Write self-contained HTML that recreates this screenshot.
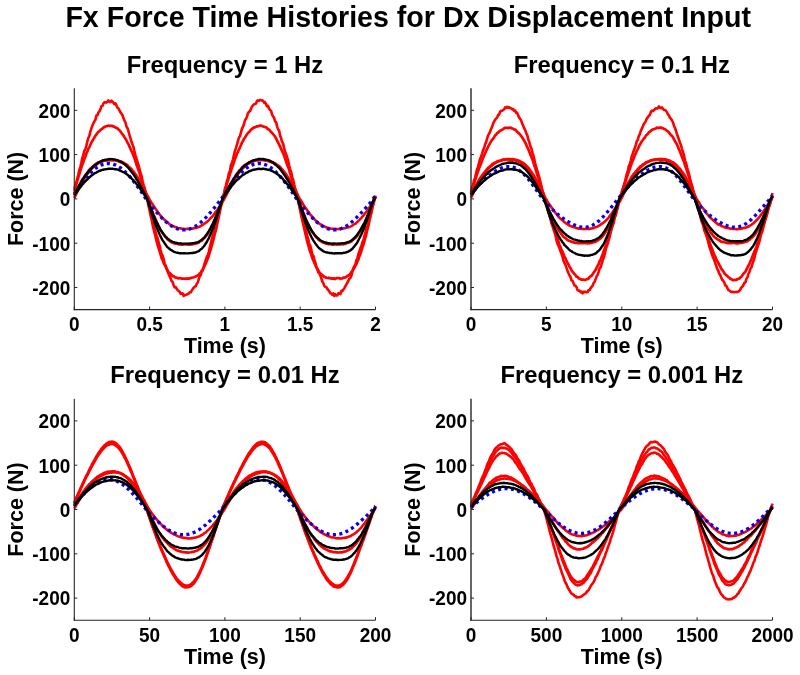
<!DOCTYPE html><html><head><meta charset="utf-8"><style>html,body{margin:0;padding:0;background:#fff;}svg{display:block;filter:blur(0.3px);}text{font-family:"Liberation Sans",sans-serif;font-weight:bold;}</style></head><body>
<svg width="800" height="675" viewBox="0 0 800 675">
<rect width="800" height="675" fill="#fff"/>
<text transform="translate(408.20,27.40) scale(1,1.042)" text-anchor="middle"  font-size="28.6" fill="#000">Fx Force Time Histories for Dx Displacement Input</text>
<path d="M74.3,188.7 L75.3,185.5 L76.3,182.4 L77.3,178.3 L78.3,174.5 L79.3,170.0 L80.3,167.1 L81.3,162.8 L82.3,158.0 L83.3,155.3 L84.3,150.7 L85.3,149.4 L86.3,146.0 L87.4,141.2 L88.4,137.9 L89.4,135.8 L90.4,131.4 L91.4,128.4 L92.4,125.6 L93.4,123.3 L94.4,121.4 L95.4,119.8 L96.4,115.6 L97.4,115.3 L98.4,112.3 L99.4,111.3 L100.4,109.3 L101.4,106.2 L102.4,106.0 L103.4,103.6 L104.4,102.3 L105.4,102.4 L106.4,102.6 L107.4,101.6 L108.4,100.4 L109.4,101.9 L110.4,102.1 L111.4,100.7 L112.5,101.7 L113.5,102.8 L114.5,104.2 L115.5,103.3 L116.5,105.5 L117.5,107.8 L118.5,108.5 L119.5,110.4 L120.5,112.4 L121.5,113.7 L122.5,115.3 L123.5,118.3 L124.5,120.6 L125.5,122.7 L126.5,126.6 L127.5,128.2 L128.5,131.4 L129.5,135.1 L130.5,138.4 L131.5,141.8 L132.5,144.5 L133.5,147.0 L134.5,151.9 L135.5,155.6 L136.5,158.7 L137.6,162.5 L138.6,165.6 L139.6,169.3 L140.6,173.3 L141.6,176.1 L142.6,181.2 L143.6,185.6 L144.6,187.8 L145.6,193.2 L146.6,197.0 L147.6,199.5 L148.6,203.4 L149.6,208.7 L150.6,211.8 L151.6,216.0 L152.6,220.7 L153.6,224.7 L154.6,228.8 L155.6,232.1 L156.6,235.3 L157.6,238.2 L158.6,242.1 L159.6,245.8 L160.6,250.1 L161.6,253.9 L162.7,255.9 L163.7,259.5 L164.7,263.9 L165.7,265.6 L166.7,269.1 L167.7,271.6 L168.7,274.3 L169.7,276.3 L170.7,278.8 L171.7,281.3 L172.7,282.1 L173.7,285.5 L174.7,287.4 L175.7,287.0 L176.7,288.8 L177.7,290.2 L178.7,290.9 L179.7,291.9 L180.7,293.9 L181.7,293.3 L182.7,293.6 L183.7,296.0 L184.7,294.8 L185.7,295.0 L186.7,294.6 L187.8,293.9 L188.8,293.6 L189.8,292.2 L190.8,292.3 L191.8,290.4 L192.8,288.9 L193.8,287.7 L194.8,286.7 L195.8,286.2 L196.8,283.6 L197.8,282.5 L198.8,278.9 L199.8,276.3 L200.8,275.0 L201.8,271.2 L202.8,270.4 L203.8,266.2 L204.8,263.0 L205.8,259.9 L206.8,256.9 L207.8,255.2 L208.8,251.9 L209.8,247.5 L210.8,243.2 L211.8,239.0 L212.9,235.5 L213.9,232.3 L214.9,229.4 L215.9,225.5 L216.9,222.1 L217.9,218.1 L218.9,213.0 L219.9,209.8 L220.9,205.3 L221.9,201.9 L222.9,196.6 L223.9,194.6 L224.9,188.4 L225.9,185.9 L226.9,181.3 L227.9,178.5 L228.9,173.1 L229.9,171.1 L230.9,165.2 L231.9,163.2 L232.9,159.5 L233.9,155.4 L234.9,151.0 L235.9,148.1 L236.9,144.8 L238.0,140.9 L239.0,137.5 L240.0,136.0 L241.0,132.3 L242.0,128.7 L243.0,126.7 L244.0,124.0 L245.0,120.2 L246.0,118.9 L247.0,116.5 L248.0,113.2 L249.0,111.7 L250.0,111.2 L251.0,108.8 L252.0,106.4 L253.0,105.4 L254.0,104.4 L255.0,103.9 L256.0,103.5 L257.0,100.9 L258.0,100.4 L259.0,101.0 L260.0,99.9 L261.0,100.3 L262.0,100.4 L263.1,100.8 L264.1,102.7 L265.1,102.3 L266.1,104.4 L267.1,106.5 L268.1,105.9 L269.1,108.8 L270.1,110.1 L271.1,110.9 L272.1,114.8 L273.1,116.4 L274.1,117.8 L275.1,121.5 L276.1,122.1 L277.1,126.6 L278.1,129.4 L279.1,130.6 L280.1,135.5 L281.1,138.3 L282.1,141.8 L283.1,143.6 L284.1,148.1 L285.1,151.7 L286.1,154.2 L287.1,157.1 L288.2,160.7 L289.2,165.6 L290.2,169.4 L291.2,172.2 L292.2,177.3 L293.2,179.8 L294.2,184.7 L295.2,188.7 L296.2,191.8 L297.2,195.4 L298.2,201.4 L299.2,205.3 L300.2,208.7 L301.2,211.4 L302.2,216.5 L303.2,221.5 L304.2,224.9 L305.2,228.6 L306.2,230.9 L307.2,235.9 L308.2,238.8 L309.2,244.2 L310.2,245.4 L311.2,249.3 L312.2,254.3 L313.3,255.7 L314.3,259.3 L315.3,262.4 L316.3,266.7 L317.3,269.1 L318.3,272.4 L319.3,273.2 L320.3,275.4 L321.3,278.3 L322.3,281.5 L323.3,283.2 L324.3,285.8 L325.3,287.0 L326.3,287.1 L327.3,289.0 L328.3,290.0 L329.3,291.3 L330.3,293.2 L331.3,293.4 L332.3,294.8 L333.3,293.4 L334.3,295.9 L335.3,294.2 L336.3,295.5 L337.3,295.5 L338.4,293.2 L339.4,293.8 L340.4,294.1 L341.4,290.9 L342.4,291.0 L343.4,289.6 L344.4,288.1 L345.4,286.1 L346.4,284.4 L347.4,282.8 L348.4,280.6 L349.4,278.7 L350.4,277.9 L351.4,275.6 L352.4,271.4 L353.4,268.1 L354.4,266.0 L355.4,264.6 L356.4,260.1 L357.4,258.4 L358.4,254.0 L359.4,251.6 L360.4,248.1 L361.4,246.0 L362.4,242.2 L363.5,239.8 L364.5,235.9 L365.5,232.2 L366.5,227.8 L367.5,226.2 L368.5,220.7 L369.5,218.2 L370.5,215.7 L371.5,211.4 L372.5,206.6 L373.5,204.1 L374.5,198.7 L375.5,195.6" fill="none" stroke="#ff0000" stroke-width="2.6" stroke-linejoin="round"/>
<path d="M74.3,190.8 L75.3,187.1 L76.3,184.3 L77.3,181.0 L78.3,177.3 L79.3,174.3 L80.3,170.8 L81.3,167.7 L82.3,164.8 L83.3,162.2 L84.3,159.1 L85.3,157.0 L86.3,153.7 L87.4,151.3 L88.4,148.8 L89.4,147.1 L90.4,144.7 L91.4,142.7 L92.4,140.7 L93.4,139.2 L94.4,137.4 L95.4,135.7 L96.4,134.4 L97.4,133.0 L98.4,131.7 L99.4,131.2 L100.4,130.1 L101.4,129.2 L102.4,128.6 L103.4,127.6 L104.4,127.0 L105.4,126.6 L106.4,126.2 L107.4,126.2 L108.4,125.5 L109.4,125.8 L110.4,125.9 L111.4,125.9 L112.5,125.9 L113.5,126.7 L114.5,126.6 L115.5,127.6 L116.5,127.9 L117.5,128.5 L118.5,129.5 L119.5,130.3 L120.5,131.5 L121.5,133.0 L122.5,134.4 L123.5,135.5 L124.5,137.2 L125.5,138.7 L126.5,140.5 L127.5,142.6 L128.5,144.2 L129.5,146.7 L130.5,148.8 L131.5,151.1 L132.5,153.0 L133.5,155.7 L134.5,158.3 L135.5,161.3 L136.5,164.7 L137.6,167.6 L138.6,170.6 L139.6,173.1 L140.6,176.8 L141.6,180.1 L142.6,183.4 L143.6,186.8 L144.6,189.7 L145.6,193.1 L146.6,197.0 L147.6,201.0 L148.6,205.9 L149.6,210.3 L150.6,215.4 L151.6,219.4 L152.6,224.6 L153.6,229.0 L154.6,232.8 L155.6,236.7 L156.6,241.1 L157.6,244.9 L158.6,248.2 L159.6,251.3 L160.6,254.6 L161.6,258.0 L162.7,260.1 L163.7,263.2 L164.7,264.9 L165.7,266.9 L166.7,268.6 L167.7,270.9 L168.7,272.2 L169.7,273.0 L170.7,273.9 L171.7,275.2 L172.7,276.2 L173.7,276.1 L174.7,277.1 L175.7,277.7 L176.7,277.7 L177.7,278.1 L178.7,278.4 L179.7,278.1 L180.7,278.3 L181.7,278.6 L182.7,278.6 L183.7,278.6 L184.7,278.5 L185.7,278.9 L186.7,278.4 L187.8,278.7 L188.8,278.8 L189.8,278.3 L190.8,277.9 L191.8,277.8 L192.8,277.5 L193.8,277.2 L194.8,276.8 L195.8,276.5 L196.8,275.9 L197.8,275.3 L198.8,274.6 L199.8,273.5 L200.8,272.4 L201.8,270.7 L202.8,269.4 L203.8,267.6 L204.8,265.3 L205.8,263.4 L206.8,260.8 L207.8,258.5 L208.8,255.7 L209.8,252.2 L210.8,249.0 L211.8,245.6 L212.9,241.7 L213.9,237.6 L214.9,233.5 L215.9,230.1 L216.9,225.5 L217.9,220.7 L218.9,216.3 L219.9,211.2 L220.9,206.8 L221.9,202.2 L222.9,197.8 L223.9,194.1 L224.9,191.1 L225.9,187.7 L226.9,183.6 L227.9,180.6 L228.9,177.3 L229.9,174.0 L230.9,171.1 L231.9,167.7 L232.9,165.2 L233.9,162.4 L234.9,158.9 L235.9,156.7 L236.9,153.8 L238.0,151.6 L239.0,149.3 L240.0,147.3 L241.0,145.0 L242.0,142.6 L243.0,141.1 L244.0,138.8 L245.0,137.6 L246.0,135.8 L247.0,134.3 L248.0,133.0 L249.0,131.8 L250.0,131.1 L251.0,129.6 L252.0,128.9 L253.0,128.1 L254.0,127.4 L255.0,127.3 L256.0,126.7 L257.0,126.4 L258.0,126.4 L259.0,125.9 L260.0,125.5 L261.0,125.6 L262.0,126.0 L263.1,126.4 L264.1,126.9 L265.1,127.0 L266.1,127.3 L267.1,128.2 L268.1,129.2 L269.1,129.6 L270.1,131.0 L271.1,132.1 L272.1,133.0 L273.1,134.2 L274.1,135.3 L275.1,136.8 L276.1,138.4 L277.1,140.6 L278.1,142.5 L279.1,144.7 L280.1,146.5 L281.1,149.0 L282.1,150.9 L283.1,153.1 L284.1,155.7 L285.1,158.5 L286.1,161.5 L287.1,164.7 L288.2,167.1 L289.2,170.1 L290.2,173.6 L291.2,176.5 L292.2,179.9 L293.2,182.9 L294.2,186.8 L295.2,190.3 L296.2,193.6 L297.2,197.1 L298.2,200.6 L299.2,205.2 L300.2,210.2 L301.2,215.4 L302.2,219.7 L303.2,224.0 L304.2,228.4 L305.2,232.7 L306.2,237.0 L307.2,241.4 L308.2,245.1 L309.2,248.5 L310.2,251.9 L311.2,254.6 L312.2,257.9 L313.3,260.2 L314.3,262.9 L315.3,264.7 L316.3,267.4 L317.3,268.6 L318.3,270.6 L319.3,272.1 L320.3,273.3 L321.3,274.4 L322.3,275.0 L323.3,276.1 L324.3,276.9 L325.3,277.1 L326.3,277.8 L327.3,278.0 L328.3,277.7 L329.3,278.3 L330.3,278.0 L331.3,278.6 L332.3,278.4 L333.3,278.9 L334.3,278.2 L335.3,279.0 L336.3,278.2 L337.3,278.2 L338.4,278.1 L339.4,278.2 L340.4,278.8 L341.4,278.5 L342.4,278.4 L343.4,277.6 L344.4,277.7 L345.4,277.4 L346.4,276.8 L347.4,275.8 L348.4,275.7 L349.4,274.6 L350.4,273.6 L351.4,272.0 L352.4,270.8 L353.4,269.5 L354.4,267.6 L355.4,265.7 L356.4,264.1 L357.4,261.5 L358.4,259.4 L359.4,256.2 L360.4,253.9 L361.4,251.0 L362.4,247.3 L363.5,244.5 L364.5,240.7 L365.5,237.2 L366.5,233.3 L367.5,228.9 L368.5,225.4 L369.5,220.5 L370.5,216.0 L371.5,211.7 L372.5,206.8 L373.5,202.7 L374.5,199.8 L375.5,195.9" fill="none" stroke="#ff0000" stroke-width="2.7" stroke-linejoin="round"/>
<path d="M74.3,194.8 L75.3,193.0 L76.3,190.8 L77.3,189.1 L78.3,187.1 L79.3,185.1 L80.3,183.4 L81.3,181.6 L82.3,179.6 L83.3,178.2 L84.3,176.7 L85.3,175.1 L86.3,173.9 L87.4,172.4 L88.4,170.9 L89.4,169.7 L90.4,168.5 L91.4,167.9 L92.4,166.8 L93.4,165.9 L94.4,165.0 L95.4,164.3 L96.4,163.5 L97.4,163.1 L98.4,162.3 L99.4,162.1 L100.4,161.7 L101.4,161.4 L102.4,160.8 L103.4,160.5 L104.4,160.4 L105.4,160.4 L106.4,160.2 L107.4,160.2 L108.4,159.9 L109.4,159.9 L110.4,160.2 L111.4,159.8 L112.5,159.9 L113.5,160.2 L114.5,160.3 L115.5,160.4 L116.5,160.7 L117.5,160.9 L118.5,161.3 L119.5,161.8 L120.5,162.2 L121.5,162.5 L122.5,162.9 L123.5,163.8 L124.5,164.1 L125.5,165.0 L126.5,165.9 L127.5,166.7 L128.5,167.4 L129.5,168.7 L130.5,169.7 L131.5,171.0 L132.5,172.1 L133.5,173.4 L134.5,175.1 L135.5,176.3 L136.5,177.8 L137.6,179.8 L138.6,181.5 L139.6,182.8 L140.6,184.6 L141.6,186.9 L142.6,188.9 L143.6,190.5 L144.6,192.5 L145.6,194.7 L146.6,196.9 L147.6,198.5 L148.6,201.4 L149.6,204.3 L150.6,206.7 L151.6,209.5 L152.6,212.0 L153.6,214.7 L154.6,217.1 L155.6,219.4 L156.6,221.9 L157.6,223.9 L158.6,226.0 L159.6,228.0 L160.6,230.0 L161.6,231.7 L162.7,233.5 L163.7,234.8 L164.7,236.0 L165.7,237.2 L166.7,238.4 L167.7,239.6 L168.7,240.1 L169.7,241.0 L170.7,241.9 L171.7,242.5 L172.7,242.7 L173.7,243.3 L174.7,243.6 L175.7,243.6 L176.7,243.7 L177.7,243.9 L178.7,244.4 L179.7,244.3 L180.7,244.6 L181.7,244.7 L182.7,244.7 L183.7,244.5 L184.7,244.2 L185.7,244.4 L186.7,244.3 L187.8,244.6 L188.8,244.6 L189.8,244.7 L190.8,244.5 L191.8,244.5 L192.8,244.2 L193.8,244.0 L194.8,244.0 L195.8,243.4 L196.8,243.4 L197.8,243.0 L198.8,242.6 L199.8,241.6 L200.8,241.0 L201.8,240.7 L202.8,239.4 L203.8,238.6 L204.8,237.7 L205.8,236.4 L206.8,235.3 L207.8,233.9 L208.8,232.0 L209.8,230.1 L210.8,228.8 L211.8,226.6 L212.9,224.4 L213.9,222.1 L214.9,219.8 L215.9,217.7 L216.9,215.1 L217.9,212.7 L218.9,210.3 L219.9,207.4 L220.9,204.9 L221.9,201.6 L222.9,199.3 L223.9,197.2 L224.9,195.3 L225.9,192.7 L226.9,191.0 L227.9,189.0 L228.9,187.1 L229.9,185.2 L230.9,183.2 L231.9,181.8 L232.9,180.1 L233.9,178.3 L234.9,176.9 L235.9,175.1 L236.9,173.4 L238.0,172.4 L239.0,170.8 L240.0,170.0 L241.0,168.8 L242.0,167.5 L243.0,166.5 L244.0,165.6 L245.0,164.8 L246.0,164.6 L247.0,163.5 L248.0,163.3 L249.0,162.3 L250.0,162.0 L251.0,161.6 L252.0,161.2 L253.0,161.2 L254.0,160.5 L255.0,160.5 L256.0,160.1 L257.0,159.9 L258.0,160.2 L259.0,159.9 L260.0,159.9 L261.0,160.1 L262.0,159.7 L263.1,159.8 L264.1,160.2 L265.1,160.6 L266.1,160.2 L267.1,160.6 L268.1,161.2 L269.1,161.4 L270.1,161.9 L271.1,162.0 L272.1,162.7 L273.1,162.7 L274.1,163.5 L275.1,164.4 L276.1,164.8 L277.1,165.7 L278.1,166.5 L279.1,167.4 L280.1,168.7 L281.1,169.9 L282.1,170.6 L283.1,171.9 L284.1,173.6 L285.1,175.0 L286.1,176.5 L287.1,178.0 L288.2,179.8 L289.2,181.4 L290.2,183.1 L291.2,184.7 L292.2,186.5 L293.2,188.9 L294.2,190.8 L295.2,192.8 L296.2,194.5 L297.2,196.8 L298.2,199.0 L299.2,201.2 L300.2,203.9 L301.2,206.7 L302.2,209.4 L303.2,212.3 L304.2,214.9 L305.2,217.4 L306.2,219.7 L307.2,222.2 L308.2,224.4 L309.2,226.2 L310.2,228.5 L311.2,230.2 L312.2,231.6 L313.3,233.4 L314.3,234.6 L315.3,236.1 L316.3,237.6 L317.3,238.2 L318.3,239.5 L319.3,240.3 L320.3,240.9 L321.3,241.5 L322.3,242.3 L323.3,242.6 L324.3,242.9 L325.3,243.4 L326.3,243.8 L327.3,243.7 L328.3,244.3 L329.3,244.0 L330.3,244.3 L331.3,244.3 L332.3,244.7 L333.3,244.7 L334.3,244.6 L335.3,244.4 L336.3,244.4 L337.3,244.7 L338.4,244.5 L339.4,244.5 L340.4,244.5 L341.4,244.2 L342.4,244.2 L343.4,244.4 L344.4,243.9 L345.4,244.0 L346.4,243.3 L347.4,242.9 L348.4,242.8 L349.4,242.2 L350.4,241.9 L351.4,241.4 L352.4,240.2 L353.4,239.6 L354.4,238.6 L355.4,237.9 L356.4,236.8 L357.4,235.5 L358.4,234.1 L359.4,232.4 L360.4,231.0 L361.4,229.3 L362.4,227.3 L363.5,225.4 L364.5,223.5 L365.5,221.5 L366.5,218.9 L367.5,216.6 L368.5,214.1 L369.5,211.7 L370.5,209.2 L371.5,206.4 L372.5,204.0 L373.5,201.1 L374.5,199.3 L375.5,197.0" fill="none" stroke="#ff0000" stroke-width="2.6" stroke-linejoin="round"/>
<path d="M74.3,198.1 L75.3,195.9 L76.3,193.9 L77.3,191.9 L78.3,189.7 L79.3,187.7 L80.3,186.0 L81.3,184.0 L82.3,182.3 L83.3,180.7 L84.3,179.0 L85.3,177.1 L86.3,175.6 L87.4,174.1 L88.4,173.0 L89.4,171.4 L90.4,170.2 L91.4,169.0 L92.4,168.0 L93.4,167.1 L94.4,166.1 L95.4,165.3 L96.4,164.7 L97.4,164.0 L98.4,163.3 L99.4,162.9 L100.4,162.3 L101.4,161.9 L102.4,161.3 L103.4,161.0 L104.4,160.8 L105.4,160.7 L106.4,160.4 L107.4,160.2 L108.4,160.0 L109.4,159.9 L110.4,159.8 L111.4,160.1 L112.5,160.1 L113.5,160.2 L114.5,160.1 L115.5,160.3 L116.5,160.3 L117.5,160.5 L118.5,160.7 L119.5,161.0 L120.5,161.3 L121.5,161.6 L122.5,162.4 L123.5,162.6 L124.5,163.4 L125.5,164.0 L126.5,164.4 L127.5,165.3 L128.5,166.4 L129.5,167.3 L130.5,168.1 L131.5,169.2 L132.5,170.4 L133.5,171.4 L134.5,172.8 L135.5,174.2 L136.5,175.6 L137.6,177.3 L138.6,178.8 L139.6,180.6 L140.6,182.1 L141.6,184.0 L142.6,185.7 L143.6,187.9 L144.6,189.9 L145.6,191.8 L146.6,193.8 L147.6,195.8 L148.6,197.7 L149.6,199.6 L150.6,201.3 L151.6,202.9 L152.6,204.3 L153.6,205.9 L154.6,207.3 L155.6,208.9 L156.6,210.4 L157.6,211.6 L158.6,213.1 L159.6,214.5 L160.6,215.6 L161.6,217.0 L162.7,217.9 L163.7,219.2 L164.7,219.9 L165.7,220.9 L166.7,222.0 L167.7,222.5 L168.7,223.5 L169.7,224.3 L170.7,225.0 L171.7,225.5 L172.7,225.9 L173.7,226.3 L174.7,226.9 L175.7,227.1 L176.7,227.4 L177.7,228.0 L178.7,228.2 L179.7,228.2 L180.7,228.5 L181.7,228.6 L182.7,228.9 L183.7,228.8 L184.7,229.0 L185.7,229.1 L186.7,228.9 L187.8,228.9 L188.8,229.0 L189.8,228.9 L190.8,228.8 L191.8,228.6 L192.8,228.6 L193.8,228.3 L194.8,228.0 L195.8,228.0 L196.8,227.7 L197.8,227.3 L198.8,226.9 L199.8,226.6 L200.8,226.1 L201.8,225.2 L202.8,224.8 L203.8,224.0 L204.8,223.4 L205.8,222.6 L206.8,221.9 L207.8,221.1 L208.8,220.2 L209.8,219.0 L210.8,217.8 L211.8,217.1 L212.9,215.8 L213.9,214.4 L214.9,213.0 L215.9,211.6 L216.9,210.6 L217.9,209.0 L218.9,207.6 L219.9,206.1 L220.9,204.5 L221.9,203.0 L222.9,201.2 L223.9,199.6 L224.9,197.9 L225.9,196.0 L226.9,194.0 L227.9,191.9 L228.9,189.9 L229.9,187.9 L230.9,185.9 L231.9,184.2 L232.9,182.4 L233.9,180.6 L234.9,179.0 L235.9,177.5 L236.9,175.9 L238.0,174.1 L239.0,172.8 L240.0,171.6 L241.0,170.4 L242.0,169.1 L243.0,168.3 L244.0,167.1 L245.0,166.3 L246.0,165.2 L247.0,164.5 L248.0,163.7 L249.0,163.4 L250.0,162.8 L251.0,162.4 L252.0,161.9 L253.0,161.4 L254.0,161.0 L255.0,160.8 L256.0,160.4 L257.0,160.2 L258.0,160.3 L259.0,160.0 L260.0,160.0 L261.0,160.0 L262.0,159.8 L263.1,159.9 L264.1,159.9 L265.1,160.0 L266.1,160.3 L267.1,160.2 L268.1,160.5 L269.1,160.6 L270.1,161.1 L271.1,161.3 L272.1,162.0 L273.1,162.2 L274.1,162.8 L275.1,163.3 L276.1,164.0 L277.1,164.7 L278.1,165.4 L279.1,166.0 L280.1,166.9 L281.1,168.2 L282.1,169.1 L283.1,170.5 L284.1,171.6 L285.1,172.9 L286.1,174.3 L287.1,175.8 L288.2,177.3 L289.2,179.0 L290.2,180.5 L291.2,182.1 L292.2,183.9 L293.2,185.8 L294.2,188.0 L295.2,189.8 L296.2,191.6 L297.2,193.6 L298.2,195.8 L299.2,197.8 L300.2,199.6 L301.2,201.0 L302.2,202.7 L303.2,204.5 L304.2,206.0 L305.2,207.5 L306.2,208.8 L307.2,210.4 L308.2,211.6 L309.2,213.0 L310.2,214.6 L311.2,215.5 L312.2,216.7 L313.3,217.8 L314.3,219.2 L315.3,220.1 L316.3,221.0 L317.3,222.0 L318.3,222.7 L319.3,223.6 L320.3,224.3 L321.3,224.7 L322.3,225.3 L323.3,225.9 L324.3,226.4 L325.3,227.0 L326.3,227.3 L327.3,227.7 L328.3,227.9 L329.3,228.0 L330.3,228.4 L331.3,228.7 L332.3,228.7 L333.3,228.9 L334.3,228.8 L335.3,228.8 L336.3,229.0 L337.3,229.0 L338.4,229.1 L339.4,228.9 L340.4,228.9 L341.4,228.6 L342.4,228.5 L343.4,228.4 L344.4,228.3 L345.4,228.0 L346.4,227.7 L347.4,227.5 L348.4,227.2 L349.4,227.0 L350.4,226.6 L351.4,226.1 L352.4,225.5 L353.4,224.6 L354.4,224.1 L355.4,223.7 L356.4,222.8 L357.4,222.0 L358.4,220.9 L359.4,219.9 L360.4,218.8 L361.4,217.9 L362.4,216.7 L363.5,215.5 L364.5,214.1 L365.5,212.7 L366.5,211.5 L367.5,210.3 L368.5,208.7 L369.5,207.2 L370.5,205.5 L371.5,204.1 L372.5,202.5 L373.5,201.0 L374.5,199.3 L375.5,197.7" fill="none" stroke="#ff0000" stroke-width="2.6" stroke-linejoin="round"/>
<path d="M74.3,193.6 L75.3,192.1 L76.3,190.7 L77.3,189.3 L78.3,187.8 L79.3,186.4 L80.3,185.1 L81.3,183.7 L82.3,182.4 L83.3,181.1 L84.3,179.8 L85.3,178.6 L86.3,177.4 L87.4,176.2 L88.4,175.1 L89.4,174.0 L90.4,173.0 L91.4,172.0 L92.4,171.1 L93.4,170.2 L94.4,169.3 L95.4,168.5 L96.4,167.8 L97.4,167.1 L98.4,166.5 L99.4,165.9 L100.4,165.4 L101.4,165.0 L102.4,164.6 L103.4,164.2 L104.4,164.0 L105.4,163.7 L106.4,163.6 L107.4,163.5 L108.4,163.5 L109.4,163.5 L110.4,163.6 L111.4,163.8 L112.5,164.0 L113.5,164.3 L114.5,164.6 L115.5,165.0 L116.5,165.5 L117.5,166.0 L118.5,166.6 L119.5,167.2 L120.5,167.9 L121.5,168.7 L122.5,169.5 L123.5,170.3 L124.5,171.2 L125.5,172.2 L126.5,173.2 L127.5,174.2 L128.5,175.3 L129.5,176.4 L130.5,177.6 L131.5,178.8 L132.5,180.0 L133.5,181.3 L134.5,182.6 L135.5,183.9 L136.5,185.3 L137.6,186.7 L138.6,188.1 L139.6,189.5 L140.6,190.9 L141.6,192.4 L142.6,193.8 L143.6,195.3 L144.6,196.8 L145.6,198.3 L146.6,199.7 L147.6,201.0 L148.6,202.2 L149.6,203.5 L150.6,204.8 L151.6,206.1 L152.6,207.3 L153.6,208.6 L154.6,209.8 L155.6,211.0 L156.6,212.2 L157.6,213.4 L158.6,214.5 L159.6,215.6 L160.6,216.7 L161.6,217.7 L162.7,218.7 L163.7,219.7 L164.7,220.7 L165.7,221.6 L166.7,222.4 L167.7,223.3 L168.7,224.0 L169.7,224.8 L170.7,225.5 L171.7,226.1 L172.7,226.7 L173.7,227.3 L174.7,227.8 L175.7,228.2 L176.7,228.6 L177.7,228.9 L178.7,229.2 L179.7,229.5 L180.7,229.7 L181.7,229.8 L182.7,229.9 L183.7,229.9 L184.7,229.9 L185.7,229.8 L186.7,229.6 L187.8,229.4 L188.8,229.2 L189.8,228.9 L190.8,228.5 L191.8,228.1 L192.8,227.7 L193.8,227.2 L194.8,226.6 L195.8,226.0 L196.8,225.4 L197.8,224.7 L198.8,223.9 L199.8,223.1 L200.8,222.3 L201.8,221.4 L202.8,220.5 L203.8,219.6 L204.8,218.6 L205.8,217.6 L206.8,216.5 L207.8,215.4 L208.8,214.3 L209.8,213.2 L210.8,212.0 L211.8,210.8 L212.9,209.6 L213.9,208.4 L214.9,207.1 L215.9,205.9 L216.9,204.6 L217.9,203.3 L218.9,202.0 L219.9,200.7 L220.9,199.4 L221.9,198.0 L222.9,196.6 L223.9,195.1 L224.9,193.6 L225.9,192.1 L226.9,190.7 L227.9,189.3 L228.9,187.8 L229.9,186.4 L230.9,185.1 L231.9,183.7 L232.9,182.4 L233.9,181.1 L234.9,179.8 L235.9,178.6 L236.9,177.4 L238.0,176.2 L239.0,175.1 L240.0,174.0 L241.0,173.0 L242.0,172.0 L243.0,171.1 L244.0,170.2 L245.0,169.3 L246.0,168.5 L247.0,167.8 L248.0,167.1 L249.0,166.5 L250.0,165.9 L251.0,165.4 L252.0,165.0 L253.0,164.6 L254.0,164.2 L255.0,164.0 L256.0,163.7 L257.0,163.6 L258.0,163.5 L259.0,163.5 L260.0,163.5 L261.0,163.6 L262.0,163.8 L263.1,164.0 L264.1,164.3 L265.1,164.6 L266.1,165.0 L267.1,165.5 L268.1,166.0 L269.1,166.6 L270.1,167.2 L271.1,167.9 L272.1,168.7 L273.1,169.5 L274.1,170.3 L275.1,171.2 L276.1,172.2 L277.1,173.2 L278.1,174.2 L279.1,175.3 L280.1,176.4 L281.1,177.6 L282.1,178.8 L283.1,180.0 L284.1,181.3 L285.1,182.6 L286.1,183.9 L287.1,185.3 L288.2,186.7 L289.2,188.1 L290.2,189.5 L291.2,190.9 L292.2,192.4 L293.2,193.8 L294.2,195.3 L295.2,196.8 L296.2,198.3 L297.2,199.7 L298.2,201.0 L299.2,202.2 L300.2,203.5 L301.2,204.8 L302.2,206.1 L303.2,207.3 L304.2,208.6 L305.2,209.8 L306.2,211.0 L307.2,212.2 L308.2,213.4 L309.2,214.5 L310.2,215.6 L311.2,216.7 L312.2,217.7 L313.3,218.7 L314.3,219.7 L315.3,220.7 L316.3,221.6 L317.3,222.4 L318.3,223.3 L319.3,224.0 L320.3,224.8 L321.3,225.5 L322.3,226.1 L323.3,226.7 L324.3,227.3 L325.3,227.8 L326.3,228.2 L327.3,228.6 L328.3,228.9 L329.3,229.2 L330.3,229.5 L331.3,229.7 L332.3,229.8 L333.3,229.9 L334.3,229.9 L335.3,229.9 L336.3,229.8 L337.3,229.6 L338.4,229.4 L339.4,229.2 L340.4,228.9 L341.4,228.5 L342.4,228.1 L343.4,227.7 L344.4,227.2 L345.4,226.6 L346.4,226.0 L347.4,225.4 L348.4,224.7 L349.4,223.9 L350.4,223.1 L351.4,222.3 L352.4,221.4 L353.4,220.5 L354.4,219.6 L355.4,218.6 L356.4,217.7 L357.4,216.7 L358.4,215.7 L359.4,214.7 L360.4,213.6 L361.4,212.6 L362.4,211.5 L363.5,210.4 L364.5,209.3 L365.5,208.2 L366.5,207.0 L367.5,205.8 L368.5,204.7 L369.5,203.5 L370.5,202.3 L371.5,201.0 L372.5,199.7 L373.5,198.3 L374.5,196.8 L375.5,195.4" fill="none" stroke="#0000ff" stroke-width="3.3" stroke-linejoin="round" stroke-dasharray="3.1 3.4" stroke-linecap="butt"/>
<path d="M74.3,194.4 L75.3,192.3 L76.3,190.6 L77.3,188.8 L78.3,186.8 L79.3,185.2 L80.3,183.3 L81.3,181.6 L82.3,180.0 L83.3,178.6 L84.3,176.9 L85.3,175.6 L86.3,174.1 L87.4,172.7 L88.4,171.6 L89.4,170.4 L90.4,169.3 L91.4,168.4 L92.4,167.4 L93.4,166.2 L94.4,165.6 L95.4,164.7 L96.4,164.1 L97.4,163.3 L98.4,162.6 L99.4,161.9 L100.4,161.6 L101.4,161.2 L102.4,160.6 L103.4,160.1 L104.4,160.0 L105.4,159.8 L106.4,159.6 L107.4,159.5 L108.4,159.3 L109.4,159.2 L110.4,159.0 L111.4,159.1 L112.5,159.1 L113.5,159.4 L114.5,159.5 L115.5,159.8 L116.5,159.9 L117.5,160.3 L118.5,160.8 L119.5,161.2 L120.5,161.7 L121.5,162.2 L122.5,162.6 L123.5,163.4 L124.5,164.1 L125.5,165.0 L126.5,165.8 L127.5,166.8 L128.5,168.0 L129.5,169.3 L130.5,170.5 L131.5,171.8 L132.5,173.1 L133.5,174.3 L134.5,175.8 L135.5,177.3 L136.5,179.3 L137.6,180.8 L138.6,182.7 L139.6,184.3 L140.6,186.2 L141.6,188.2 L142.6,190.0 L143.6,191.7 L144.6,193.9 L145.6,195.7 L146.6,197.9 L147.6,199.9 L148.6,202.5 L149.6,205.5 L150.6,207.9 L151.6,210.3 L152.6,213.1 L153.6,215.6 L154.6,217.8 L155.6,219.9 L156.6,222.4 L157.6,224.2 L158.6,226.1 L159.6,227.9 L160.6,230.0 L161.6,231.3 L162.7,232.7 L163.7,234.2 L164.7,235.6 L165.7,236.9 L166.7,237.6 L167.7,238.7 L168.7,239.3 L169.7,240.3 L170.7,240.8 L171.7,241.4 L172.7,241.9 L173.7,242.2 L174.7,242.5 L175.7,242.6 L176.7,242.9 L177.7,243.2 L178.7,243.4 L179.7,243.4 L180.7,243.3 L181.7,243.6 L182.7,243.7 L183.7,243.7 L184.7,243.7 L185.7,243.7 L186.7,243.6 L187.8,243.6 L188.8,243.5 L189.8,243.6 L190.8,243.4 L191.8,243.5 L192.8,243.2 L193.8,243.1 L194.8,242.8 L195.8,242.6 L196.8,242.5 L197.8,242.2 L198.8,241.8 L199.8,240.9 L200.8,240.5 L201.8,239.7 L202.8,238.8 L203.8,238.1 L204.8,236.9 L205.8,235.5 L206.8,234.3 L207.8,232.7 L208.8,231.1 L209.8,229.3 L210.8,227.5 L211.8,225.3 L212.9,223.5 L213.9,221.0 L214.9,218.7 L215.9,216.2 L216.9,213.9 L217.9,211.1 L218.9,208.4 L219.9,205.8 L220.9,203.4 L221.9,200.6 L222.9,198.2 L223.9,196.0 L224.9,194.3 L225.9,192.5 L226.9,190.6 L227.9,188.6 L228.9,186.7 L229.9,185.0 L230.9,183.5 L231.9,181.9 L232.9,180.1 L233.9,178.5 L234.9,177.1 L235.9,175.6 L236.9,174.2 L238.0,173.0 L239.0,171.6 L240.0,170.3 L241.0,169.4 L242.0,168.3 L243.0,167.1 L244.0,166.3 L245.0,165.6 L246.0,164.7 L247.0,163.9 L248.0,163.2 L249.0,162.5 L250.0,162.2 L251.0,161.4 L252.0,161.0 L253.0,160.4 L254.0,160.2 L255.0,160.0 L256.0,159.7 L257.0,159.6 L258.0,159.2 L259.0,159.0 L260.0,159.0 L261.0,159.0 L262.0,159.2 L263.1,159.0 L264.1,159.2 L265.1,159.6 L266.1,159.6 L267.1,159.9 L268.1,160.2 L269.1,160.5 L270.1,161.0 L271.1,161.7 L272.1,161.9 L273.1,162.6 L274.1,163.6 L275.1,164.3 L276.1,165.0 L277.1,166.0 L278.1,166.9 L279.1,167.9 L280.1,169.1 L281.1,170.3 L282.1,171.7 L283.1,173.0 L284.1,174.5 L285.1,175.8 L286.1,177.7 L287.1,179.0 L288.2,180.8 L289.2,182.5 L290.2,184.2 L291.2,186.4 L292.2,188.0 L293.2,189.8 L294.2,191.8 L295.2,193.7 L296.2,195.8 L297.2,197.9 L298.2,200.1 L299.2,202.5 L300.2,205.4 L301.2,208.0 L302.2,210.6 L303.2,212.9 L304.2,215.3 L305.2,217.7 L306.2,220.2 L307.2,222.1 L308.2,224.1 L309.2,226.2 L310.2,227.9 L311.2,229.7 L312.2,231.6 L313.3,232.8 L314.3,234.4 L315.3,235.7 L316.3,236.6 L317.3,237.7 L318.3,238.5 L319.3,239.4 L320.3,240.2 L321.3,240.8 L322.3,241.3 L323.3,241.7 L324.3,242.3 L325.3,242.5 L326.3,242.7 L327.3,243.0 L328.3,243.3 L329.3,243.3 L330.3,243.5 L331.3,243.6 L332.3,243.5 L333.3,243.7 L334.3,243.4 L335.3,243.6 L336.3,243.6 L337.3,243.6 L338.4,243.5 L339.4,243.7 L340.4,243.5 L341.4,243.4 L342.4,243.3 L343.4,243.4 L344.4,243.3 L345.4,242.8 L346.4,242.7 L347.4,242.3 L348.4,241.9 L349.4,241.7 L350.4,241.1 L351.4,240.6 L352.4,239.8 L353.4,238.8 L354.4,238.0 L355.4,236.7 L356.4,235.8 L357.4,234.5 L358.4,232.9 L359.4,231.5 L360.4,230.0 L361.4,228.1 L362.4,226.2 L363.5,224.5 L364.5,222.5 L365.5,220.2 L366.5,218.1 L367.5,215.5 L368.5,212.9 L369.5,210.5 L370.5,208.0 L371.5,205.6 L372.5,203.0 L373.5,200.7 L374.5,198.6 L375.5,196.8" fill="none" stroke="#000000" stroke-width="2.4" stroke-linejoin="round"/>
<path d="M74.3,195.5 L75.3,194.1 L76.3,192.4 L77.3,191.3 L78.3,189.9 L79.3,188.3 L80.3,187.3 L81.3,186.0 L82.3,184.6 L83.3,183.7 L84.3,182.3 L85.3,181.3 L86.3,180.3 L87.4,179.3 L88.4,178.4 L89.4,177.3 L90.4,176.5 L91.4,175.6 L92.4,174.9 L93.4,174.3 L94.4,173.4 L95.4,172.9 L96.4,172.6 L97.4,171.8 L98.4,171.4 L99.4,170.8 L100.4,170.7 L101.4,170.1 L102.4,169.8 L103.4,169.8 L104.4,169.4 L105.4,169.3 L106.4,169.1 L107.4,169.0 L108.4,168.8 L109.4,168.7 L110.4,168.6 L111.4,168.7 L112.5,168.8 L113.5,168.9 L114.5,169.2 L115.5,169.1 L116.5,169.3 L117.5,169.6 L118.5,169.8 L119.5,170.4 L120.5,170.9 L121.5,171.2 L122.5,171.8 L123.5,172.1 L124.5,172.7 L125.5,173.3 L126.5,174.1 L127.5,174.7 L128.5,175.6 L129.5,176.4 L130.5,177.4 L131.5,178.5 L132.5,179.4 L133.5,180.3 L134.5,181.6 L135.5,182.8 L136.5,184.0 L137.6,185.1 L138.6,186.4 L139.6,187.9 L140.6,189.4 L141.6,190.7 L142.6,192.2 L143.6,193.6 L144.6,195.2 L145.6,196.4 L146.6,198.1 L147.6,200.3 L148.6,203.3 L149.6,206.6 L150.6,209.8 L151.6,213.1 L152.6,216.1 L153.6,218.9 L154.6,222.0 L155.6,224.6 L156.6,227.5 L157.6,229.7 L158.6,232.0 L159.6,234.4 L160.6,236.5 L161.6,238.5 L162.7,240.3 L163.7,241.8 L164.7,243.4 L165.7,244.7 L166.7,246.3 L167.7,247.3 L168.7,248.2 L169.7,249.0 L170.7,249.9 L171.7,250.4 L172.7,251.0 L173.7,251.7 L174.7,252.0 L175.7,252.4 L176.7,252.7 L177.7,252.7 L178.7,253.1 L179.7,253.2 L180.7,253.3 L181.7,253.3 L182.7,253.4 L183.7,253.2 L184.7,253.2 L185.7,253.4 L186.7,253.4 L187.8,253.4 L188.8,253.3 L189.8,253.1 L190.8,253.1 L191.8,253.0 L192.8,253.0 L193.8,252.7 L194.8,252.7 L195.8,252.3 L196.8,251.9 L197.8,251.5 L198.8,251.1 L199.8,250.2 L200.8,249.3 L201.8,248.7 L202.8,247.5 L203.8,246.5 L204.8,245.0 L205.8,243.5 L206.8,242.0 L207.8,239.9 L208.8,238.3 L209.8,235.9 L210.8,233.8 L211.8,231.4 L212.9,228.8 L213.9,225.9 L214.9,223.3 L215.9,220.1 L216.9,217.0 L217.9,213.9 L218.9,210.6 L219.9,207.6 L220.9,204.2 L221.9,200.9 L222.9,198.5 L223.9,196.8 L224.9,195.2 L225.9,194.0 L226.9,192.4 L227.9,191.2 L228.9,189.8 L229.9,188.4 L230.9,187.2 L231.9,185.7 L232.9,184.6 L233.9,183.4 L234.9,182.2 L235.9,181.1 L236.9,180.1 L238.0,179.4 L239.0,178.5 L240.0,177.4 L241.0,176.6 L242.0,175.5 L243.0,174.9 L244.0,174.4 L245.0,173.8 L246.0,172.8 L247.0,172.6 L248.0,172.1 L249.0,171.3 L250.0,171.0 L251.0,170.8 L252.0,170.2 L253.0,169.8 L254.0,169.7 L255.0,169.5 L256.0,169.4 L257.0,169.0 L258.0,169.0 L259.0,168.7 L260.0,169.0 L261.0,169.0 L262.0,169.0 L263.1,168.7 L264.1,168.8 L265.1,169.2 L266.1,169.2 L267.1,169.6 L268.1,169.7 L269.1,169.8 L270.1,170.1 L271.1,170.8 L272.1,171.0 L273.1,171.5 L274.1,172.2 L275.1,172.5 L276.1,173.2 L277.1,174.0 L278.1,174.6 L279.1,175.5 L280.1,176.4 L281.1,177.2 L282.1,178.1 L283.1,179.4 L284.1,180.5 L285.1,181.6 L286.1,182.7 L287.1,184.1 L288.2,185.2 L289.2,186.4 L290.2,187.9 L291.2,189.3 L292.2,190.7 L293.2,192.1 L294.2,193.6 L295.2,194.9 L296.2,196.6 L297.2,198.2 L298.2,200.3 L299.2,203.6 L300.2,206.9 L301.2,209.9 L302.2,213.0 L303.2,216.2 L304.2,218.9 L305.2,221.8 L306.2,224.7 L307.2,227.1 L308.2,230.0 L309.2,232.4 L310.2,234.4 L311.2,236.6 L312.2,238.4 L313.3,240.3 L314.3,241.8 L315.3,243.4 L316.3,244.8 L317.3,246.1 L318.3,247.3 L319.3,248.4 L320.3,249.0 L321.3,249.8 L322.3,250.6 L323.3,251.3 L324.3,251.6 L325.3,252.0 L326.3,252.5 L327.3,252.5 L328.3,252.6 L329.3,253.0 L330.3,253.1 L331.3,253.0 L332.3,253.3 L333.3,253.4 L334.3,253.5 L335.3,253.3 L336.3,253.2 L337.3,253.3 L338.4,253.2 L339.4,253.2 L340.4,253.3 L341.4,253.1 L342.4,253.3 L343.4,252.8 L344.4,252.9 L345.4,252.5 L346.4,252.4 L347.4,251.8 L348.4,251.5 L349.4,250.8 L350.4,250.4 L351.4,249.5 L352.4,248.7 L353.4,247.5 L354.4,246.3 L355.4,245.0 L356.4,243.8 L357.4,242.1 L358.4,240.2 L359.4,238.3 L360.4,236.4 L361.4,234.4 L362.4,232.0 L363.5,229.5 L364.5,226.6 L365.5,224.1 L366.5,221.2 L367.5,218.2 L368.5,215.4 L369.5,212.3 L370.5,208.9 L371.5,206.0 L372.5,202.4 L373.5,200.1 L374.5,198.6 L375.5,197.1" fill="none" stroke="#000000" stroke-width="2.4" stroke-linejoin="round"/>
<path d="M74.3,88.2 V310.2" fill="none" stroke="#262626" stroke-width="1.1"/>
<path d="M73.8,309.6 H375.5" fill="none" stroke="#262626" stroke-width="1.1"/>
<path d="M74.3,287.5 h3" stroke="#262626" stroke-width="1"/>
<text transform="translate(70.30,294.86) scale(1,1.042)" text-anchor="end"  font-size="19" fill="#000">-200</text>
<path d="M74.3,243.2 h3" stroke="#262626" stroke-width="1"/>
<text transform="translate(70.30,250.58) scale(1,1.042)" text-anchor="end"  font-size="19" fill="#000">-100</text>
<path d="M74.3,198.9 h3" stroke="#262626" stroke-width="1"/>
<text transform="translate(70.30,206.30) scale(1,1.042)" text-anchor="end"  font-size="19" fill="#000">0</text>
<path d="M74.3,154.6 h3" stroke="#262626" stroke-width="1"/>
<text transform="translate(70.30,162.02) scale(1,1.042)" text-anchor="end"  font-size="19" fill="#000">100</text>
<path d="M74.3,110.3 h3" stroke="#262626" stroke-width="1"/>
<text transform="translate(70.30,117.74) scale(1,1.042)" text-anchor="end"  font-size="19" fill="#000">200</text>
<path d="M74.3,309.6 v-3" stroke="#262626" stroke-width="1"/>
<text transform="translate(74.30,330.90) scale(1,1.042)" text-anchor="middle"  font-size="19" fill="#000">0</text>
<path d="M149.6,309.6 v-3" stroke="#262626" stroke-width="1"/>
<text transform="translate(149.60,330.90) scale(1,1.042)" text-anchor="middle"  font-size="19" fill="#000">0.5</text>
<path d="M224.9,309.6 v-3" stroke="#262626" stroke-width="1"/>
<text transform="translate(224.90,330.90) scale(1,1.042)" text-anchor="middle"  font-size="19" fill="#000">1</text>
<path d="M300.2,309.6 v-3" stroke="#262626" stroke-width="1"/>
<text transform="translate(300.20,330.90) scale(1,1.042)" text-anchor="middle"  font-size="19" fill="#000">1.5</text>
<path d="M375.5,309.6 v-3" stroke="#262626" stroke-width="1"/>
<text transform="translate(375.50,330.90) scale(1,1.042)" text-anchor="middle"  font-size="19" fill="#000">2</text>
<text transform="translate(224.90,353.30) scale(1,1.042)" text-anchor="middle"  font-size="21.5" fill="#000">Time (s)</text>
<text transform="translate(23.10,198.90) rotate(-90) scale(1,1.042)" text-anchor="middle"  font-size="21.5" fill="#000">Force (N)</text>
<text transform="translate(224.90,72.50) scale(1,1.042)" text-anchor="middle"  font-size="23.8" fill="#000">Frequency = 1 Hz</text>
<path d="M471.0,191.6 L472.0,188.1 L473.0,185.4 L474.0,180.6 L475.0,178.3 L476.0,173.6 L477.0,169.5 L478.0,166.9 L479.0,162.9 L480.0,159.2 L481.1,156.5 L482.1,153.6 L483.1,150.0 L484.1,148.3 L485.1,144.2 L486.1,142.1 L487.1,138.7 L488.1,135.5 L489.1,133.6 L490.1,131.6 L491.1,128.8 L492.1,126.8 L493.1,123.6 L494.1,121.6 L495.1,119.6 L496.1,118.5 L497.1,117.6 L498.1,115.0 L499.1,114.5 L500.1,111.7 L501.1,110.8 L502.2,110.7 L503.2,110.0 L504.2,109.3 L505.2,107.4 L506.2,107.7 L507.2,106.8 L508.2,107.7 L509.2,107.4 L510.2,107.9 L511.2,108.4 L512.2,109.4 L513.2,109.0 L514.2,111.0 L515.2,110.6 L516.2,113.0 L517.2,112.9 L518.2,115.6 L519.2,117.7 L520.2,118.9 L521.2,120.6 L522.3,123.7 L523.3,126.1 L524.3,128.4 L525.3,130.3 L526.3,133.4 L527.3,135.3 L528.3,139.4 L529.3,142.1 L530.3,146.0 L531.3,148.1 L532.3,152.4 L533.3,155.2 L534.3,159.3 L535.3,164.2 L536.3,167.5 L537.3,171.0 L538.3,174.2 L539.3,177.5 L540.3,181.3 L541.4,186.1 L542.4,190.9 L543.4,194.3 L544.4,197.1 L545.4,202.3 L546.4,204.4 L547.4,207.6 L548.4,212.1 L549.4,215.5 L550.4,218.2 L551.4,223.4 L552.4,225.5 L553.4,229.1 L554.4,231.8 L555.4,235.0 L556.4,240.1 L557.4,243.4 L558.4,245.8 L559.4,247.8 L560.4,251.0 L561.5,253.9 L562.5,256.6 L563.5,261.0 L564.5,263.0 L565.5,264.8 L566.5,267.9 L567.5,270.7 L568.5,273.2 L569.5,275.5 L570.5,276.9 L571.5,280.3 L572.5,280.8 L573.5,283.3 L574.5,285.5 L575.5,285.8 L576.5,287.0 L577.5,290.1 L578.5,290.6 L579.5,290.5 L580.5,292.1 L581.5,291.5 L582.6,293.3 L583.6,291.8 L584.6,291.9 L585.6,291.9 L586.6,292.3 L587.6,292.1 L588.6,290.1 L589.6,290.1 L590.6,288.1 L591.6,286.8 L592.6,285.6 L593.6,283.0 L594.6,281.9 L595.6,279.1 L596.6,276.4 L597.6,274.9 L598.6,272.1 L599.6,268.4 L600.6,267.3 L601.6,264.0 L602.7,260.3 L603.7,257.8 L604.7,254.4 L605.7,249.6 L606.7,246.3 L607.7,243.7 L608.7,240.0 L609.7,236.9 L610.7,232.3 L611.7,228.6 L612.7,225.5 L613.7,223.0 L614.7,217.4 L615.7,215.6 L616.7,211.2 L617.7,207.1 L618.7,202.9 L619.7,200.0 L620.7,196.2 L621.8,191.6 L622.8,188.5 L623.8,185.8 L624.8,182.2 L625.8,178.0 L626.8,173.8 L627.8,171.2 L628.8,166.1 L629.8,164.0 L630.8,160.6 L631.8,156.2 L632.8,153.5 L633.8,150.4 L634.8,148.1 L635.8,144.8 L636.8,141.2 L637.8,139.6 L638.8,136.2 L639.8,134.2 L640.8,130.9 L641.9,128.5 L642.9,126.2 L643.9,123.7 L644.9,122.8 L645.9,120.7 L646.9,118.3 L647.9,117.1 L648.9,115.7 L649.9,114.8 L650.9,111.8 L651.9,110.5 L652.9,111.1 L653.9,110.3 L654.9,109.1 L655.9,108.2 L656.9,108.6 L657.9,108.1 L658.9,106.4 L659.9,107.7 L660.9,108.1 L662.0,107.4 L663.0,109.0 L664.0,109.9 L665.0,110.0 L666.0,110.9 L667.0,112.4 L668.0,114.3 L669.0,115.5 L670.0,117.9 L671.0,118.8 L672.0,120.5 L673.0,122.4 L674.0,125.9 L675.0,128.0 L676.0,130.8 L677.0,134.3 L678.0,137.0 L679.0,139.8 L680.0,142.7 L681.0,145.2 L682.0,149.1 L683.1,152.1 L684.1,156.0 L685.1,160.6 L686.1,163.4 L687.1,167.6 L688.1,170.9 L689.1,174.4 L690.1,179.1 L691.1,182.5 L692.1,185.8 L693.1,189.8 L694.1,194.1 L695.1,198.4 L696.1,200.5 L697.1,204.1 L698.1,208.8 L699.1,211.6 L700.1,214.9 L701.1,219.8 L702.1,222.7 L703.2,225.3 L704.2,230.2 L705.2,232.6 L706.2,235.0 L707.2,238.3 L708.2,241.7 L709.2,246.3 L710.2,249.0 L711.2,252.2 L712.2,255.0 L713.2,258.0 L714.2,260.0 L715.2,262.9 L716.2,265.7 L717.2,268.8 L718.2,270.5 L719.2,273.7 L720.2,274.9 L721.2,277.6 L722.2,279.8 L723.3,280.8 L724.3,282.6 L725.3,285.3 L726.3,285.9 L727.3,287.9 L728.3,290.0 L729.3,290.4 L730.3,291.4 L731.3,292.0 L732.3,291.8 L733.3,292.0 L734.3,292.3 L735.3,292.1 L736.3,291.9 L737.3,292.1 L738.3,291.5 L739.3,291.0 L740.3,289.6 L741.3,287.5 L742.4,286.7 L743.4,285.0 L744.4,282.8 L745.4,282.5 L746.4,278.8 L747.4,277.5 L748.4,274.0 L749.4,272.0 L750.4,268.7 L751.4,267.3 L752.4,263.9 L753.4,261.1 L754.4,258.3 L755.4,253.7 L756.4,250.7 L757.4,247.6 L758.4,244.6 L759.4,241.5 L760.4,237.3 L761.4,233.6 L762.5,231.0 L763.5,226.1 L764.5,223.2 L765.5,218.8 L766.5,216.2 L767.5,212.2 L768.5,207.8 L769.5,205.7 L770.5,202.5 L771.5,197.8 L772.5,193.1" fill="none" stroke="#ff0000" stroke-width="2.6" stroke-linejoin="round"/>
<path d="M471.0,193.0 L472.0,189.9 L473.0,186.4 L474.0,183.4 L475.0,180.6 L476.0,177.5 L477.0,174.3 L478.0,171.6 L479.0,168.5 L480.0,166.0 L481.1,163.2 L482.1,160.2 L483.1,158.0 L484.1,155.6 L485.1,153.3 L486.1,150.8 L487.1,149.1 L488.1,146.7 L489.1,144.9 L490.1,143.1 L491.1,141.4 L492.1,139.7 L493.1,138.7 L494.1,137.2 L495.1,135.4 L496.1,134.7 L497.1,133.2 L498.1,132.6 L499.1,131.5 L500.1,130.8 L501.1,130.3 L502.2,129.7 L503.2,129.1 L504.2,128.3 L505.2,127.8 L506.2,127.9 L507.2,127.7 L508.2,127.9 L509.2,127.9 L510.2,127.5 L511.2,127.9 L512.2,128.5 L513.2,128.7 L514.2,129.6 L515.2,129.5 L516.2,130.6 L517.2,131.8 L518.2,132.8 L519.2,133.6 L520.2,134.6 L521.2,136.2 L522.3,137.5 L523.3,139.4 L524.3,140.8 L525.3,142.6 L526.3,144.9 L527.3,147.2 L528.3,149.2 L529.3,151.7 L530.3,154.2 L531.3,156.8 L532.3,159.1 L533.3,162.2 L534.3,165.5 L535.3,168.3 L536.3,171.6 L537.3,174.9 L538.3,177.4 L539.3,181.2 L540.3,184.3 L541.4,187.3 L542.4,190.8 L543.4,194.4 L544.4,197.8 L545.4,201.5 L546.4,204.4 L547.4,208.1 L548.4,211.1 L549.4,214.8 L550.4,218.1 L551.4,220.6 L552.4,224.3 L553.4,226.8 L554.4,230.0 L555.4,233.4 L556.4,236.0 L557.4,238.5 L558.4,241.2 L559.4,244.7 L560.4,247.2 L561.5,249.8 L562.5,251.8 L563.5,254.1 L564.5,256.7 L565.5,258.4 L566.5,260.9 L567.5,262.6 L568.5,264.5 L569.5,266.8 L570.5,268.1 L571.5,270.3 L572.5,271.6 L573.5,272.9 L574.5,274.2 L575.5,275.1 L576.5,276.7 L577.5,276.8 L578.5,278.3 L579.5,278.7 L580.5,279.3 L581.5,279.6 L582.6,279.7 L583.6,279.7 L584.6,279.8 L585.6,279.8 L586.6,279.2 L587.6,279.1 L588.6,278.4 L589.6,277.1 L590.6,276.2 L591.6,275.8 L592.6,274.3 L593.6,272.6 L594.6,271.4 L595.6,269.7 L596.6,268.0 L597.6,265.9 L598.6,264.2 L599.6,261.2 L600.6,259.6 L601.6,257.0 L602.7,254.2 L603.7,251.3 L604.7,248.5 L605.7,246.1 L606.7,243.1 L607.7,240.0 L608.7,236.5 L609.7,233.3 L610.7,230.4 L611.7,226.8 L612.7,223.6 L613.7,220.1 L614.7,216.9 L615.7,213.7 L616.7,210.5 L617.7,206.4 L618.7,203.3 L619.7,199.9 L620.7,196.4 L621.8,193.2 L622.8,189.6 L623.8,186.5 L624.8,183.4 L625.8,180.7 L626.8,177.2 L627.8,174.5 L628.8,171.6 L629.8,168.7 L630.8,165.7 L631.8,162.9 L632.8,160.5 L633.8,157.9 L634.8,155.4 L635.8,153.2 L636.8,150.7 L637.8,149.1 L638.8,146.9 L639.8,144.7 L640.8,143.2 L641.9,141.2 L642.9,140.0 L643.9,138.5 L644.9,137.5 L645.9,135.5 L646.9,134.7 L647.9,133.8 L648.9,132.3 L649.9,131.6 L650.9,130.9 L651.9,129.8 L652.9,129.4 L653.9,129.2 L654.9,128.8 L655.9,128.4 L656.9,127.5 L657.9,127.8 L658.9,127.8 L659.9,127.5 L660.9,127.5 L662.0,128.1 L663.0,128.2 L664.0,129.0 L665.0,129.1 L666.0,130.2 L667.0,130.8 L668.0,131.4 L669.0,132.6 L670.0,133.9 L671.0,135.0 L672.0,136.0 L673.0,137.3 L674.0,139.3 L675.0,141.2 L676.0,142.9 L677.0,144.6 L678.0,147.1 L679.0,149.4 L680.0,151.5 L681.0,154.3 L682.0,156.9 L683.1,159.8 L684.1,161.9 L685.1,165.6 L686.1,168.4 L687.1,171.1 L688.1,174.3 L689.1,177.7 L690.1,181.1 L691.1,184.4 L692.1,187.6 L693.1,191.3 L694.1,194.4 L695.1,197.9 L696.1,201.3 L697.1,204.8 L698.1,207.6 L699.1,210.9 L700.1,214.5 L701.1,218.0 L702.1,221.2 L703.2,224.1 L704.2,226.8 L705.2,230.3 L706.2,233.4 L707.2,236.2 L708.2,238.6 L709.2,241.2 L710.2,244.3 L711.2,246.7 L712.2,249.3 L713.2,252.1 L714.2,254.5 L715.2,256.6 L716.2,259.1 L717.2,261.0 L718.2,262.6 L719.2,264.7 L720.2,266.4 L721.2,268.7 L722.2,269.9 L723.3,271.3 L724.3,273.1 L725.3,274.5 L726.3,275.2 L727.3,276.1 L728.3,277.1 L729.3,277.6 L730.3,278.8 L731.3,278.8 L732.3,280.0 L733.3,280.1 L734.3,279.8 L735.3,280.0 L736.3,280.0 L737.3,279.1 L738.3,279.0 L739.3,278.6 L740.3,277.5 L741.3,276.9 L742.4,275.3 L743.4,273.9 L744.4,272.7 L745.4,271.8 L746.4,269.6 L747.4,267.7 L748.4,265.6 L749.4,263.8 L750.4,261.4 L751.4,259.3 L752.4,256.5 L753.4,254.1 L754.4,251.4 L755.4,249.5 L756.4,246.6 L757.4,243.3 L758.4,240.4 L759.4,237.4 L760.4,234.6 L761.4,231.5 L762.5,228.5 L763.5,225.2 L764.5,221.5 L765.5,218.7 L766.5,215.0 L767.5,212.0 L768.5,208.3 L769.5,205.2 L770.5,201.7 L771.5,198.8 L772.5,195.3" fill="none" stroke="#ff0000" stroke-width="2.7" stroke-linejoin="round"/>
<path d="M471.0,195.1 L472.0,193.0 L473.0,190.9 L474.0,188.8 L475.0,187.2 L476.0,185.5 L477.0,183.4 L478.0,181.9 L479.0,179.7 L480.0,178.4 L481.1,176.7 L482.1,175.4 L483.1,174.0 L484.1,172.9 L485.1,171.4 L486.1,170.4 L487.1,169.0 L488.1,167.8 L489.1,167.1 L490.1,166.3 L491.1,165.5 L492.1,164.3 L493.1,163.8 L494.1,163.1 L495.1,162.7 L496.1,162.4 L497.1,161.6 L498.1,161.0 L499.1,161.2 L500.1,160.9 L501.1,160.5 L502.2,159.8 L503.2,159.8 L504.2,159.6 L505.2,159.9 L506.2,159.3 L507.2,159.3 L508.2,159.3 L509.2,159.7 L510.2,159.4 L511.2,159.9 L512.2,159.7 L513.2,160.0 L514.2,160.0 L515.2,160.3 L516.2,160.9 L517.2,161.4 L518.2,161.3 L519.2,161.9 L520.2,162.3 L521.2,163.0 L522.3,163.8 L523.3,164.6 L524.3,165.5 L525.3,166.3 L526.3,167.3 L527.3,168.6 L528.3,169.7 L529.3,171.0 L530.3,172.8 L531.3,174.0 L532.3,175.2 L533.3,177.5 L534.3,179.2 L535.3,180.6 L536.3,182.8 L537.3,184.2 L538.3,186.7 L539.3,188.2 L540.3,190.7 L541.4,192.6 L542.4,194.8 L543.4,196.5 L544.4,198.8 L545.4,201.6 L546.4,203.8 L547.4,206.4 L548.4,209.2 L549.4,211.4 L550.4,213.8 L551.4,216.1 L552.4,218.6 L553.4,220.9 L554.4,222.9 L555.4,224.9 L556.4,226.4 L557.4,228.2 L558.4,230.1 L559.4,231.4 L560.4,232.7 L561.5,234.1 L562.5,235.6 L563.5,236.8 L564.5,237.5 L565.5,238.1 L566.5,239.0 L567.5,240.0 L568.5,240.6 L569.5,240.8 L570.5,241.4 L571.5,241.5 L572.5,242.1 L573.5,242.5 L574.5,242.6 L575.5,242.9 L576.5,242.7 L577.5,243.1 L578.5,243.0 L579.5,243.2 L580.5,242.9 L581.5,243.1 L582.6,243.2 L583.6,243.0 L584.6,243.2 L585.6,242.9 L586.6,243.1 L587.6,243.4 L588.6,243.1 L589.6,243.0 L590.6,243.1 L591.6,242.8 L592.6,242.5 L593.6,242.2 L594.6,242.2 L595.6,241.6 L596.6,241.1 L597.6,240.4 L598.6,239.7 L599.6,238.9 L600.6,238.3 L601.6,237.2 L602.7,236.2 L603.7,234.7 L604.7,233.3 L605.7,231.8 L606.7,230.0 L607.7,228.6 L608.7,226.4 L609.7,224.2 L610.7,222.1 L611.7,220.0 L612.7,217.7 L613.7,215.1 L614.7,212.6 L615.7,210.0 L616.7,207.1 L617.7,204.5 L618.7,201.8 L619.7,198.9 L620.7,197.1 L621.8,195.0 L622.8,193.1 L623.8,190.9 L624.8,189.3 L625.8,187.2 L626.8,185.3 L627.8,183.3 L628.8,181.9 L629.8,180.1 L630.8,178.5 L631.8,176.7 L632.8,175.2 L633.8,173.8 L634.8,172.9 L635.8,171.4 L636.8,170.3 L637.8,169.2 L638.8,168.3 L639.8,167.0 L640.8,166.0 L641.9,165.7 L642.9,164.4 L643.9,164.2 L644.9,163.2 L645.9,162.4 L646.9,162.1 L647.9,161.9 L648.9,161.3 L649.9,160.7 L650.9,160.4 L651.9,160.1 L652.9,160.2 L653.9,159.8 L654.9,159.9 L655.9,159.4 L656.9,159.4 L657.9,159.5 L658.9,159.4 L659.9,159.6 L660.9,159.4 L662.0,159.8 L663.0,159.9 L664.0,159.9 L665.0,160.3 L666.0,160.3 L667.0,161.0 L668.0,161.2 L669.0,161.4 L670.0,162.2 L671.0,162.6 L672.0,163.4 L673.0,164.0 L674.0,164.9 L675.0,165.5 L676.0,166.3 L677.0,167.6 L678.0,168.8 L679.0,169.8 L680.0,171.2 L681.0,172.6 L682.0,173.9 L683.1,175.4 L684.1,177.3 L685.1,178.7 L686.1,180.7 L687.1,182.7 L688.1,184.4 L689.1,186.4 L690.1,188.7 L691.1,190.5 L692.1,192.5 L693.1,194.4 L694.1,196.8 L695.1,198.6 L696.1,201.5 L697.1,204.2 L698.1,206.8 L699.1,209.0 L700.1,211.9 L701.1,214.2 L702.1,216.2 L703.2,218.4 L704.2,220.7 L705.2,223.0 L706.2,224.9 L707.2,226.4 L708.2,228.7 L709.2,229.8 L710.2,231.8 L711.2,233.0 L712.2,234.5 L713.2,235.7 L714.2,236.7 L715.2,237.5 L716.2,238.4 L717.2,239.0 L718.2,239.7 L719.2,240.2 L720.2,240.9 L721.2,241.7 L722.2,241.9 L723.3,241.8 L724.3,242.3 L725.3,242.5 L726.3,242.8 L727.3,242.9 L728.3,243.2 L729.3,242.9 L730.3,243.2 L731.3,243.2 L732.3,242.9 L733.3,243.0 L734.3,243.0 L735.3,243.2 L736.3,243.4 L737.3,243.4 L738.3,243.3 L739.3,243.1 L740.3,243.0 L741.3,242.9 L742.4,242.6 L743.4,242.5 L744.4,242.0 L745.4,241.8 L746.4,241.5 L747.4,241.4 L748.4,240.4 L749.4,239.9 L750.4,238.8 L751.4,238.0 L752.4,237.3 L753.4,236.2 L754.4,235.0 L755.4,233.9 L756.4,232.1 L757.4,230.6 L758.4,229.1 L759.4,226.8 L760.4,225.2 L761.4,222.8 L762.5,221.0 L763.5,218.7 L764.5,216.3 L765.5,213.9 L766.5,211.0 L767.5,208.4 L768.5,206.0 L769.5,203.2 L770.5,201.1 L771.5,198.5 L772.5,196.5" fill="none" stroke="#ff0000" stroke-width="2.7" stroke-linejoin="round"/>
<path d="M471.0,197.7 L472.0,196.0 L473.0,193.8 L474.0,191.6 L475.0,189.9 L476.0,187.8 L477.0,186.0 L478.0,184.1 L479.0,182.3 L480.0,180.6 L481.1,178.8 L482.1,177.1 L483.1,175.9 L484.1,174.1 L485.1,172.9 L486.1,171.8 L487.1,170.3 L488.1,169.1 L489.1,168.1 L490.1,167.0 L491.1,166.3 L492.1,165.3 L493.1,164.4 L494.1,163.9 L495.1,163.1 L496.1,162.4 L497.1,161.8 L498.1,161.6 L499.1,161.0 L500.1,160.7 L501.1,160.3 L502.2,160.2 L503.2,159.6 L504.2,159.6 L505.2,159.5 L506.2,159.2 L507.2,159.1 L508.2,159.0 L509.2,159.0 L510.2,159.2 L511.2,159.0 L512.2,159.3 L513.2,159.1 L514.2,159.5 L515.2,159.5 L516.2,160.0 L517.2,160.0 L518.2,160.4 L519.2,160.8 L520.2,161.3 L521.2,162.0 L522.3,162.5 L523.3,163.0 L524.3,163.8 L525.3,164.7 L526.3,165.7 L527.3,166.7 L528.3,167.7 L529.3,169.0 L530.3,170.4 L531.3,171.8 L532.3,173.2 L533.3,174.7 L534.3,176.4 L535.3,178.0 L536.3,179.8 L537.3,181.6 L538.3,183.4 L539.3,185.5 L540.3,187.4 L541.4,189.6 L542.4,191.5 L543.4,193.4 L544.4,195.8 L545.4,197.8 L546.4,199.5 L547.4,201.4 L548.4,202.9 L549.4,204.5 L550.4,205.8 L551.4,207.2 L552.4,208.6 L553.4,210.1 L554.4,211.5 L555.4,212.8 L556.4,213.9 L557.4,215.1 L558.4,216.6 L559.4,217.7 L560.4,218.7 L561.5,219.5 L562.5,220.3 L563.5,221.2 L564.5,222.1 L565.5,223.0 L566.5,223.7 L567.5,224.1 L568.5,225.0 L569.5,225.5 L570.5,225.9 L571.5,226.5 L572.5,226.7 L573.5,227.2 L574.5,227.3 L575.5,227.6 L576.5,228.2 L577.5,228.2 L578.5,228.6 L579.5,228.6 L580.5,228.7 L581.5,228.7 L582.6,229.1 L583.6,228.9 L584.6,229.1 L585.6,228.9 L586.6,228.9 L587.6,228.8 L588.6,228.9 L589.6,228.9 L590.6,228.6 L591.6,228.5 L592.6,228.1 L593.6,228.1 L594.6,227.5 L595.6,227.2 L596.6,226.9 L597.6,226.5 L598.6,225.8 L599.6,225.4 L600.6,224.6 L601.6,223.9 L602.7,223.2 L603.7,222.5 L604.7,221.7 L605.7,220.6 L606.7,219.7 L607.7,218.6 L608.7,217.5 L609.7,216.1 L610.7,214.7 L611.7,213.5 L612.7,212.1 L613.7,210.5 L614.7,209.0 L615.7,207.5 L616.7,206.1 L617.7,204.3 L618.7,202.8 L619.7,201.2 L620.7,199.9 L621.8,197.9 L622.8,195.8 L623.8,193.6 L624.8,191.7 L625.8,189.9 L626.8,187.9 L627.8,186.1 L628.8,183.9 L629.8,182.4 L630.8,180.6 L631.8,178.8 L632.8,177.2 L633.8,175.9 L634.8,174.2 L635.8,172.8 L636.8,171.7 L637.8,170.4 L638.8,169.2 L639.8,168.1 L640.8,167.2 L641.9,166.3 L642.9,165.3 L643.9,164.7 L644.9,163.7 L645.9,163.1 L646.9,162.5 L647.9,161.8 L648.9,161.5 L649.9,161.1 L650.9,160.6 L651.9,160.3 L652.9,160.0 L653.9,159.8 L654.9,159.6 L655.9,159.3 L656.9,159.2 L657.9,159.3 L658.9,158.9 L659.9,159.2 L660.9,158.9 L662.0,159.0 L663.0,159.1 L664.0,159.5 L665.0,159.3 L666.0,159.4 L667.0,160.0 L668.0,160.1 L669.0,160.3 L670.0,161.0 L671.0,161.4 L672.0,161.9 L673.0,162.3 L674.0,163.2 L675.0,163.7 L676.0,164.6 L677.0,165.7 L678.0,166.8 L679.0,167.9 L680.0,168.8 L681.0,170.4 L682.0,171.7 L683.1,172.9 L684.1,174.4 L685.1,176.1 L686.1,178.1 L687.1,179.6 L688.1,181.6 L689.1,183.5 L690.1,185.4 L691.1,187.3 L692.1,189.5 L693.1,191.6 L694.1,193.5 L695.1,195.5 L696.1,197.8 L697.1,199.8 L698.1,201.4 L699.1,202.6 L700.1,204.4 L701.1,206.0 L702.1,207.4 L703.2,208.5 L704.2,209.9 L705.2,211.5 L706.2,213.0 L707.2,214.2 L708.2,215.2 L709.2,216.6 L710.2,217.6 L711.2,218.5 L712.2,219.4 L713.2,220.3 L714.2,221.2 L715.2,222.0 L716.2,222.9 L717.2,223.6 L718.2,224.4 L719.2,224.7 L720.2,225.2 L721.2,225.9 L722.2,226.2 L723.3,226.6 L724.3,227.2 L725.3,227.6 L726.3,227.9 L727.3,228.0 L728.3,228.1 L729.3,228.3 L730.3,228.7 L731.3,228.8 L732.3,228.7 L733.3,229.0 L734.3,228.8 L735.3,229.0 L736.3,229.1 L737.3,229.2 L738.3,229.0 L739.3,229.0 L740.3,228.7 L741.3,228.8 L742.4,228.3 L743.4,228.0 L744.4,227.9 L745.4,227.8 L746.4,227.3 L747.4,227.0 L748.4,226.5 L749.4,226.0 L750.4,225.4 L751.4,224.7 L752.4,223.9 L753.4,223.4 L754.4,222.3 L755.4,221.4 L756.4,220.3 L757.4,219.4 L758.4,218.2 L759.4,217.1 L760.4,215.6 L761.4,214.2 L762.5,212.8 L763.5,211.3 L764.5,209.9 L765.5,208.6 L766.5,207.1 L767.5,205.2 L768.5,203.9 L769.5,202.0 L770.5,200.7 L771.5,198.9 L772.5,197.0" fill="none" stroke="#ff0000" stroke-width="2.6" stroke-linejoin="round"/>
<path d="M471.0,194.2 L472.0,192.9 L473.0,191.7 L474.0,190.5 L475.0,189.3 L476.0,188.1 L477.0,187.0 L478.0,185.9 L479.0,184.8 L480.0,183.8 L481.1,182.8 L482.1,181.8 L483.1,180.8 L484.1,179.9 L485.1,179.0 L486.1,178.1 L487.1,177.2 L488.1,176.4 L489.1,175.6 L490.1,174.8 L491.1,174.1 L492.1,173.3 L493.1,172.6 L494.1,172.0 L495.1,171.3 L496.1,170.7 L497.1,170.2 L498.1,169.6 L499.1,169.1 L500.1,168.6 L501.1,168.2 L502.2,167.8 L503.2,167.5 L504.2,167.2 L505.2,167.0 L506.2,166.8 L507.2,166.7 L508.2,166.6 L509.2,166.6 L510.2,166.6 L511.2,166.8 L512.2,166.9 L513.2,167.2 L514.2,167.5 L515.2,167.9 L516.2,168.4 L517.2,168.9 L518.2,169.5 L519.2,170.2 L520.2,171.0 L521.2,171.8 L522.3,172.7 L523.3,173.6 L524.3,174.6 L525.3,175.7 L526.3,176.8 L527.3,178.0 L528.3,179.2 L529.3,180.4 L530.3,181.7 L531.3,183.1 L532.3,184.4 L533.3,185.8 L534.3,187.2 L535.3,188.6 L536.3,190.0 L537.3,191.4 L538.3,192.8 L539.3,194.2 L540.3,195.6 L541.4,197.0 L542.4,198.3 L543.4,199.6 L544.4,200.8 L545.4,201.9 L546.4,203.0 L547.4,204.1 L548.4,205.2 L549.4,206.3 L550.4,207.3 L551.4,208.3 L552.4,209.3 L553.4,210.3 L554.4,211.2 L555.4,212.2 L556.4,213.0 L557.4,213.9 L558.4,214.8 L559.4,215.6 L560.4,216.4 L561.5,217.1 L562.5,217.9 L563.5,218.6 L564.5,219.3 L565.5,220.0 L566.5,220.7 L567.5,221.3 L568.5,221.9 L569.5,222.5 L570.5,223.1 L571.5,223.6 L572.5,224.1 L573.5,224.6 L574.5,225.0 L575.5,225.4 L576.5,225.8 L577.5,226.1 L578.5,226.4 L579.5,226.7 L580.5,226.9 L581.5,227.1 L582.6,227.2 L583.6,227.2 L584.6,227.2 L585.6,227.2 L586.6,227.1 L587.6,226.9 L588.6,226.7 L589.6,226.4 L590.6,226.1 L591.6,225.7 L592.6,225.2 L593.6,224.6 L594.6,224.0 L595.6,223.4 L596.6,222.7 L597.6,221.9 L598.6,221.1 L599.6,220.2 L600.6,219.2 L601.6,218.3 L602.7,217.2 L603.7,216.2 L604.7,215.1 L605.7,213.9 L606.7,212.8 L607.7,211.6 L608.7,210.4 L609.7,209.2 L610.7,208.0 L611.7,206.7 L612.7,205.5 L613.7,204.3 L614.7,203.0 L615.7,201.8 L616.7,200.6 L617.7,199.4 L618.7,198.1 L619.7,196.8 L620.7,195.5 L621.8,194.2 L622.8,192.9 L623.8,191.7 L624.8,190.5 L625.8,189.3 L626.8,188.1 L627.8,187.0 L628.8,185.9 L629.8,184.8 L630.8,183.8 L631.8,182.8 L632.8,181.8 L633.8,180.8 L634.8,179.9 L635.8,179.0 L636.8,178.1 L637.8,177.2 L638.8,176.4 L639.8,175.6 L640.8,174.8 L641.9,174.1 L642.9,173.3 L643.9,172.6 L644.9,172.0 L645.9,171.3 L646.9,170.7 L647.9,170.2 L648.9,169.6 L649.9,169.1 L650.9,168.6 L651.9,168.2 L652.9,167.8 L653.9,167.5 L654.9,167.2 L655.9,167.0 L656.9,166.8 L657.9,166.7 L658.9,166.6 L659.9,166.6 L660.9,166.6 L662.0,166.8 L663.0,166.9 L664.0,167.2 L665.0,167.5 L666.0,167.9 L667.0,168.4 L668.0,168.9 L669.0,169.5 L670.0,170.2 L671.0,171.0 L672.0,171.8 L673.0,172.7 L674.0,173.6 L675.0,174.6 L676.0,175.7 L677.0,176.8 L678.0,178.0 L679.0,179.2 L680.0,180.4 L681.0,181.7 L682.0,183.1 L683.1,184.4 L684.1,185.8 L685.1,187.2 L686.1,188.6 L687.1,190.0 L688.1,191.4 L689.1,192.8 L690.1,194.2 L691.1,195.6 L692.1,197.0 L693.1,198.3 L694.1,199.6 L695.1,200.8 L696.1,201.9 L697.1,203.0 L698.1,204.1 L699.1,205.2 L700.1,206.3 L701.1,207.3 L702.1,208.3 L703.2,209.3 L704.2,210.3 L705.2,211.2 L706.2,212.2 L707.2,213.0 L708.2,213.9 L709.2,214.8 L710.2,215.6 L711.2,216.4 L712.2,217.1 L713.2,217.9 L714.2,218.6 L715.2,219.3 L716.2,220.0 L717.2,220.7 L718.2,221.3 L719.2,221.9 L720.2,222.5 L721.2,223.1 L722.2,223.6 L723.3,224.1 L724.3,224.6 L725.3,225.0 L726.3,225.4 L727.3,225.8 L728.3,226.1 L729.3,226.4 L730.3,226.7 L731.3,226.9 L732.3,227.1 L733.3,227.2 L734.3,227.2 L735.3,227.2 L736.3,227.2 L737.3,227.1 L738.3,226.9 L739.3,226.7 L740.3,226.4 L741.3,226.1 L742.4,225.7 L743.4,225.2 L744.4,224.6 L745.4,224.0 L746.4,223.4 L747.4,222.7 L748.4,221.9 L749.4,221.1 L750.4,220.2 L751.4,219.3 L752.4,218.3 L753.4,217.3 L754.4,216.3 L755.4,215.3 L756.4,214.2 L757.4,213.1 L758.4,212.0 L759.4,210.9 L760.4,209.7 L761.4,208.6 L762.5,207.4 L763.5,206.3 L764.5,205.1 L765.5,203.9 L766.5,202.8 L767.5,201.6 L768.5,200.5 L769.5,199.2 L770.5,197.9 L771.5,196.6 L772.5,195.4" fill="none" stroke="#0000ff" stroke-width="3.3" stroke-linejoin="round" stroke-dasharray="3.1 3.4" stroke-linecap="butt"/>
<path d="M471.0,194.7 L472.0,193.2 L473.0,191.5 L474.0,189.9 L475.0,188.4 L476.0,186.7 L477.0,185.6 L478.0,184.0 L479.0,182.5 L480.0,181.5 L481.1,180.0 L482.1,179.1 L483.1,177.9 L484.1,176.6 L485.1,175.8 L486.1,174.6 L487.1,173.9 L488.1,172.6 L489.1,171.8 L490.1,171.1 L491.1,170.2 L492.1,169.5 L493.1,168.7 L494.1,168.2 L495.1,167.6 L496.1,166.8 L497.1,166.4 L498.1,165.8 L499.1,165.4 L500.1,165.1 L501.1,164.5 L502.2,164.0 L503.2,163.8 L504.2,163.6 L505.2,163.4 L506.2,163.2 L507.2,162.8 L508.2,162.5 L509.2,162.8 L510.2,162.5 L511.2,162.7 L512.2,162.5 L513.2,162.8 L514.2,163.0 L515.2,163.3 L516.2,163.4 L517.2,163.8 L518.2,164.3 L519.2,164.7 L520.2,165.1 L521.2,165.8 L522.3,166.5 L523.3,167.5 L524.3,168.3 L525.3,169.1 L526.3,170.3 L527.3,171.6 L528.3,172.8 L529.3,174.1 L530.3,175.4 L531.3,176.9 L532.3,178.6 L533.3,180.0 L534.3,181.6 L535.3,183.3 L536.3,185.1 L537.3,186.9 L538.3,188.6 L539.3,190.5 L540.3,192.5 L541.4,194.1 L542.4,195.9 L543.4,197.7 L544.4,199.7 L545.4,202.4 L546.4,204.6 L547.4,206.9 L548.4,208.8 L549.4,211.1 L550.4,213.2 L551.4,215.0 L552.4,216.9 L553.4,218.8 L554.4,220.4 L555.4,222.1 L556.4,223.7 L557.4,225.3 L558.4,226.6 L559.4,228.0 L560.4,229.2 L561.5,230.1 L562.5,231.4 L563.5,232.3 L564.5,233.3 L565.5,234.2 L566.5,235.2 L567.5,235.8 L568.5,236.5 L569.5,237.1 L570.5,237.7 L571.5,238.3 L572.5,238.6 L573.5,239.4 L574.5,239.6 L575.5,239.8 L576.5,240.4 L577.5,240.3 L578.5,240.8 L579.5,240.8 L580.5,241.2 L581.5,241.0 L582.6,241.4 L583.6,241.4 L584.6,241.5 L585.6,241.4 L586.6,241.3 L587.6,241.4 L588.6,241.2 L589.6,241.4 L590.6,241.1 L591.6,241.0 L592.6,240.8 L593.6,240.3 L594.6,240.1 L595.6,239.5 L596.6,239.0 L597.6,238.4 L598.6,238.0 L599.6,237.0 L600.6,236.0 L601.6,235.1 L602.7,233.7 L603.7,232.3 L604.7,230.8 L605.7,229.2 L606.7,227.6 L607.7,225.7 L608.7,223.8 L609.7,221.7 L610.7,219.7 L611.7,217.3 L612.7,215.1 L613.7,212.6 L614.7,210.2 L615.7,207.9 L616.7,205.1 L617.7,203.0 L618.7,200.5 L619.7,198.0 L620.7,196.3 L621.8,194.7 L622.8,193.0 L623.8,191.5 L624.8,189.8 L625.8,188.4 L626.8,186.8 L627.8,185.3 L628.8,183.9 L629.8,182.7 L630.8,181.2 L631.8,180.1 L632.8,178.8 L633.8,177.9 L634.8,176.8 L635.8,175.6 L636.8,174.8 L637.8,173.8 L638.8,172.6 L639.8,171.9 L640.8,171.1 L641.9,170.3 L642.9,169.5 L643.9,169.0 L644.9,168.2 L645.9,167.6 L646.9,166.7 L647.9,166.3 L648.9,165.7 L649.9,165.5 L650.9,164.9 L651.9,164.3 L652.9,164.2 L653.9,163.6 L654.9,163.4 L655.9,163.1 L656.9,162.9 L657.9,162.9 L658.9,162.9 L659.9,162.5 L660.9,162.5 L662.0,162.8 L663.0,162.8 L664.0,162.9 L665.0,163.1 L666.0,163.0 L667.0,163.3 L668.0,163.7 L669.0,164.2 L670.0,164.5 L671.0,165.3 L672.0,165.7 L673.0,166.8 L674.0,167.5 L675.0,168.4 L676.0,169.2 L677.0,170.4 L678.0,171.6 L679.0,172.7 L680.0,174.0 L681.0,175.4 L682.0,177.0 L683.1,178.2 L684.1,180.1 L685.1,181.5 L686.1,183.4 L687.1,184.9 L688.1,187.0 L689.1,188.7 L690.1,190.6 L691.1,192.4 L692.1,194.2 L693.1,196.0 L694.1,197.9 L695.1,199.8 L696.1,202.2 L697.1,204.5 L698.1,206.7 L699.1,209.1 L700.1,211.2 L701.1,213.3 L702.1,215.0 L703.2,217.1 L704.2,218.9 L705.2,220.5 L706.2,222.3 L707.2,223.6 L708.2,225.3 L709.2,226.5 L710.2,227.9 L711.2,229.0 L712.2,230.1 L713.2,231.4 L714.2,232.5 L715.2,233.2 L716.2,234.3 L717.2,234.9 L718.2,236.0 L719.2,236.4 L720.2,237.2 L721.2,237.6 L722.2,238.3 L723.3,238.6 L724.3,239.3 L725.3,239.5 L726.3,240.0 L727.3,240.3 L728.3,240.6 L729.3,240.8 L730.3,241.0 L731.3,241.1 L732.3,241.0 L733.3,241.1 L734.3,241.3 L735.3,241.3 L736.3,241.2 L737.3,241.2 L738.3,241.2 L739.3,241.3 L740.3,241.1 L741.3,241.2 L742.4,241.1 L743.4,240.8 L744.4,240.3 L745.4,240.3 L746.4,239.6 L747.4,239.3 L748.4,238.4 L749.4,237.8 L750.4,237.1 L751.4,236.0 L752.4,235.1 L753.4,234.1 L754.4,232.8 L755.4,231.1 L756.4,229.7 L757.4,228.1 L758.4,226.1 L759.4,224.5 L760.4,222.5 L761.4,220.3 L762.5,218.3 L763.5,215.8 L764.5,213.8 L765.5,211.1 L766.5,208.9 L767.5,206.5 L768.5,204.1 L769.5,201.7 L770.5,199.5 L771.5,198.1 L772.5,196.3" fill="none" stroke="#000000" stroke-width="2.4" stroke-linejoin="round"/>
<path d="M471.0,195.3 L472.0,194.1 L473.0,192.9 L474.0,191.6 L475.0,190.4 L476.0,189.2 L477.0,187.7 L478.0,186.6 L479.0,185.6 L480.0,184.6 L481.1,183.4 L482.1,182.7 L483.1,181.6 L484.1,180.8 L485.1,180.0 L486.1,179.0 L487.1,178.3 L488.1,177.6 L489.1,176.9 L490.1,176.1 L491.1,175.7 L492.1,174.8 L493.1,174.2 L494.1,173.6 L495.1,173.4 L496.1,172.8 L497.1,172.4 L498.1,171.9 L499.1,171.3 L500.1,170.9 L501.1,170.8 L502.2,170.6 L503.2,170.4 L504.2,169.8 L505.2,169.6 L506.2,169.4 L507.2,169.3 L508.2,169.4 L509.2,169.3 L510.2,169.4 L511.2,169.2 L512.2,169.2 L513.2,169.5 L514.2,169.7 L515.2,169.5 L516.2,169.8 L517.2,170.1 L518.2,170.5 L519.2,171.0 L520.2,171.5 L521.2,171.8 L522.3,172.4 L523.3,173.2 L524.3,174.1 L525.3,174.9 L526.3,175.4 L527.3,176.3 L528.3,177.3 L529.3,178.6 L530.3,179.7 L531.3,181.0 L532.3,182.1 L533.3,183.6 L534.3,184.9 L535.3,186.1 L536.3,187.8 L537.3,189.1 L538.3,190.4 L539.3,192.2 L540.3,193.6 L541.4,195.1 L542.4,196.6 L543.4,198.0 L544.4,200.2 L545.4,203.3 L546.4,206.2 L547.4,209.3 L548.4,212.3 L549.4,215.0 L550.4,217.9 L551.4,220.4 L552.4,223.2 L553.4,225.4 L554.4,227.6 L555.4,229.8 L556.4,231.8 L557.4,233.9 L558.4,235.7 L559.4,237.4 L560.4,239.1 L561.5,240.6 L562.5,242.3 L563.5,243.4 L564.5,245.0 L565.5,245.9 L566.5,247.0 L567.5,247.9 L568.5,249.0 L569.5,250.0 L570.5,250.7 L571.5,251.2 L572.5,252.0 L573.5,252.5 L574.5,253.0 L575.5,253.5 L576.5,254.1 L577.5,254.2 L578.5,254.8 L579.5,254.9 L580.5,255.0 L581.5,255.1 L582.6,255.5 L583.6,255.5 L584.6,255.7 L585.6,255.5 L586.6,255.6 L587.6,255.7 L588.6,255.5 L589.6,255.5 L590.6,255.2 L591.6,254.9 L592.6,254.8 L593.6,254.3 L594.6,253.9 L595.6,253.4 L596.6,252.7 L597.6,251.7 L598.6,250.8 L599.6,249.9 L600.6,248.6 L601.6,246.9 L602.7,245.6 L603.7,243.8 L604.7,241.7 L605.7,239.4 L606.7,237.4 L607.7,234.8 L608.7,232.2 L609.7,229.3 L610.7,226.6 L611.7,223.4 L612.7,220.4 L613.7,217.1 L614.7,213.7 L615.7,210.5 L616.7,207.2 L617.7,204.2 L618.7,200.7 L619.7,198.2 L620.7,197.1 L621.8,195.6 L622.8,194.0 L623.8,192.6 L624.8,191.6 L625.8,190.4 L626.8,189.1 L627.8,187.9 L628.8,186.7 L629.8,185.5 L630.8,184.8 L631.8,183.7 L632.8,182.6 L633.8,181.5 L634.8,180.9 L635.8,179.9 L636.8,179.2 L637.8,178.2 L638.8,177.4 L639.8,177.0 L640.8,176.0 L641.9,175.7 L642.9,174.9 L643.9,174.4 L644.9,173.9 L645.9,173.4 L646.9,172.6 L647.9,172.1 L648.9,171.9 L649.9,171.3 L650.9,171.1 L651.9,170.9 L652.9,170.5 L653.9,170.1 L654.9,170.1 L655.9,169.9 L656.9,169.5 L657.9,169.3 L658.9,169.4 L659.9,169.2 L660.9,169.2 L662.0,169.2 L663.0,169.1 L664.0,169.5 L665.0,169.5 L666.0,169.8 L667.0,169.9 L668.0,170.2 L669.0,170.7 L670.0,170.8 L671.0,171.4 L672.0,171.8 L673.0,172.6 L674.0,173.1 L675.0,173.9 L676.0,174.6 L677.0,175.5 L678.0,176.5 L679.0,177.3 L680.0,178.7 L681.0,179.9 L682.0,181.0 L683.1,182.2 L684.1,183.6 L685.1,184.8 L686.1,186.3 L687.1,187.5 L688.1,189.1 L689.1,190.7 L690.1,192.2 L691.1,193.6 L692.1,194.9 L693.1,196.7 L694.1,198.1 L695.1,200.2 L696.1,203.1 L697.1,206.6 L698.1,209.5 L699.1,212.1 L700.1,215.3 L701.1,217.7 L702.1,220.5 L703.2,222.9 L704.2,225.5 L705.2,227.7 L706.2,230.1 L707.2,232.0 L708.2,234.0 L709.2,235.6 L710.2,237.3 L711.2,239.0 L712.2,240.9 L713.2,242.3 L714.2,243.5 L715.2,244.6 L716.2,245.9 L717.2,247.0 L718.2,248.1 L719.2,249.0 L720.2,250.0 L721.2,250.8 L722.2,251.4 L723.3,252.1 L724.3,252.8 L725.3,253.0 L726.3,253.4 L727.3,253.9 L728.3,254.3 L729.3,254.4 L730.3,255.0 L731.3,255.3 L732.3,255.1 L733.3,255.2 L734.3,255.5 L735.3,255.6 L736.3,255.4 L737.3,255.5 L738.3,255.3 L739.3,255.3 L740.3,255.3 L741.3,255.0 L742.4,254.8 L743.4,254.7 L744.4,254.3 L745.4,253.9 L746.4,253.2 L747.4,252.4 L748.4,251.7 L749.4,250.7 L750.4,249.7 L751.4,248.3 L752.4,247.0 L753.4,245.6 L754.4,243.9 L755.4,241.7 L756.4,239.7 L757.4,237.7 L758.4,235.1 L759.4,232.7 L760.4,229.8 L761.4,227.0 L762.5,224.0 L763.5,221.0 L764.5,218.1 L765.5,214.9 L766.5,211.5 L767.5,208.4 L768.5,205.2 L769.5,202.0 L770.5,199.3 L771.5,198.1 L772.5,196.8" fill="none" stroke="#000000" stroke-width="2.4" stroke-linejoin="round"/>
<path d="M471.0,88.2 V310.2" fill="none" stroke="#262626" stroke-width="1.4"/>
<path d="M470.5,309.6 H772.5" fill="none" stroke="#262626" stroke-width="1.1"/>
<path d="M471.0,287.5 h3" stroke="#262626" stroke-width="1"/>
<text transform="translate(467.00,294.86) scale(1,1.042)" text-anchor="end"  font-size="19" fill="#000">-200</text>
<path d="M471.0,243.2 h3" stroke="#262626" stroke-width="1"/>
<text transform="translate(467.00,250.58) scale(1,1.042)" text-anchor="end"  font-size="19" fill="#000">-100</text>
<path d="M471.0,198.9 h3" stroke="#262626" stroke-width="1"/>
<text transform="translate(467.00,206.30) scale(1,1.042)" text-anchor="end"  font-size="19" fill="#000">0</text>
<path d="M471.0,154.6 h3" stroke="#262626" stroke-width="1"/>
<text transform="translate(467.00,162.02) scale(1,1.042)" text-anchor="end"  font-size="19" fill="#000">100</text>
<path d="M471.0,110.3 h3" stroke="#262626" stroke-width="1"/>
<text transform="translate(467.00,117.74) scale(1,1.042)" text-anchor="end"  font-size="19" fill="#000">200</text>
<path d="M471.0,309.6 v-3" stroke="#262626" stroke-width="1"/>
<text transform="translate(471.00,330.90) scale(1,1.042)" text-anchor="middle"  font-size="19" fill="#000">0</text>
<path d="M546.4,309.6 v-3" stroke="#262626" stroke-width="1"/>
<text transform="translate(546.38,330.90) scale(1,1.042)" text-anchor="middle"  font-size="19" fill="#000">5</text>
<path d="M621.8,309.6 v-3" stroke="#262626" stroke-width="1"/>
<text transform="translate(621.75,330.90) scale(1,1.042)" text-anchor="middle"  font-size="19" fill="#000">10</text>
<path d="M697.1,309.6 v-3" stroke="#262626" stroke-width="1"/>
<text transform="translate(697.12,330.90) scale(1,1.042)" text-anchor="middle"  font-size="19" fill="#000">15</text>
<path d="M772.5,309.6 v-3" stroke="#262626" stroke-width="1"/>
<text transform="translate(772.50,330.90) scale(1,1.042)" text-anchor="middle"  font-size="19" fill="#000">20</text>
<text transform="translate(621.75,353.30) scale(1,1.042)" text-anchor="middle"  font-size="21.5" fill="#000">Time (s)</text>
<text transform="translate(419.80,198.90) rotate(-90) scale(1,1.042)" text-anchor="middle"  font-size="21.5" fill="#000">Force (N)</text>
<text transform="translate(621.75,72.50) scale(1,1.042)" text-anchor="middle"  font-size="23.8" fill="#000">Frequency = 0.1 Hz</text>
<path d="M74.3,503.0 L75.3,500.6 L76.3,498.2 L77.3,496.1 L78.3,494.1 L79.3,491.8 L80.3,489.7 L81.3,487.3 L82.3,485.3 L83.3,483.2 L84.3,481.0 L85.3,478.9 L86.3,476.8 L87.4,475.1 L88.4,473.0 L89.4,471.0 L90.4,469.1 L91.4,467.2 L92.4,465.2 L93.4,463.6 L94.4,461.7 L95.4,460.1 L96.4,458.1 L97.4,456.5 L98.4,454.9 L99.4,453.7 L100.4,452.2 L101.4,451.0 L102.4,449.6 L103.4,448.7 L104.4,447.6 L105.4,446.7 L106.4,445.6 L107.4,445.3 L108.4,444.8 L109.4,444.4 L110.4,444.0 L111.4,444.0 L112.5,444.0 L113.5,444.2 L114.5,444.8 L115.5,445.3 L116.5,446.1 L117.5,446.8 L118.5,447.9 L119.5,449.2 L120.5,450.3 L121.5,452.0 L122.5,453.6 L123.5,455.2 L124.5,457.3 L125.5,459.2 L126.5,461.2 L127.5,463.5 L128.5,465.8 L129.5,467.8 L130.5,470.5 L131.5,472.6 L132.5,475.1 L133.5,477.5 L134.5,479.9 L135.5,482.6 L136.5,484.9 L137.6,487.5 L138.6,490.1 L139.6,492.6 L140.6,494.8 L141.6,497.2 L142.6,499.9 L143.6,502.1 L144.6,504.7 L145.6,506.8 L146.6,509.2 L147.6,512.0 L148.6,514.8 L149.6,517.8 L150.6,520.7 L151.6,523.4 L152.6,526.4 L153.6,529.1 L154.6,531.6 L155.6,534.2 L156.6,536.8 L157.6,539.4 L158.6,542.0 L159.6,544.4 L160.6,547.2 L161.6,549.4 L162.7,551.8 L163.7,554.1 L164.7,556.4 L165.7,558.6 L166.7,560.8 L167.7,562.9 L168.7,564.8 L169.7,566.9 L170.7,568.6 L171.7,570.5 L172.7,572.3 L173.7,574.0 L174.7,575.5 L175.7,577.1 L176.7,578.6 L177.7,579.8 L178.7,580.8 L179.7,581.8 L180.7,582.8 L181.7,583.6 L182.7,584.5 L183.7,585.1 L184.7,585.2 L185.7,585.7 L186.7,585.8 L187.8,585.6 L188.8,585.4 L189.8,584.9 L190.8,584.4 L191.8,583.5 L192.8,582.6 L193.8,581.7 L194.8,580.2 L195.8,579.1 L196.8,577.3 L197.8,575.5 L198.8,573.8 L199.8,571.6 L200.8,569.5 L201.8,567.3 L202.8,564.8 L203.8,562.3 L204.8,559.9 L205.8,557.4 L206.8,554.3 L207.8,551.5 L208.8,548.6 L209.8,545.7 L210.8,542.8 L211.8,540.0 L212.9,537.0 L213.9,533.8 L214.9,530.9 L215.9,527.8 L216.9,524.8 L217.9,521.9 L218.9,518.7 L219.9,515.8 L220.9,512.8 L221.9,509.7 L222.9,507.5 L223.9,505.1 L224.9,503.0 L225.9,500.5 L226.9,498.3 L227.9,496.1 L228.9,493.8 L229.9,491.8 L230.9,489.5 L231.9,487.6 L232.9,485.3 L233.9,483.0 L234.9,481.1 L235.9,479.2 L236.9,477.1 L238.0,475.1 L239.0,472.8 L240.0,470.8 L241.0,468.9 L242.0,467.2 L243.0,465.4 L244.0,463.3 L245.0,461.5 L246.0,459.9 L247.0,458.1 L248.0,456.6 L249.0,455.0 L250.0,453.8 L251.0,452.1 L252.0,451.0 L253.0,449.5 L254.0,448.5 L255.0,447.5 L256.0,446.4 L257.0,446.0 L258.0,445.2 L259.0,444.7 L260.0,444.5 L261.0,444.1 L262.0,443.8 L263.1,444.0 L264.1,444.2 L265.1,444.9 L266.1,445.4 L267.1,446.1 L268.1,447.0 L269.1,447.9 L270.1,448.9 L271.1,450.6 L272.1,452.1 L273.1,453.7 L274.1,455.4 L275.1,457.2 L276.1,459.2 L277.1,461.1 L278.1,463.6 L279.1,465.8 L280.1,467.8 L281.1,470.3 L282.1,472.6 L283.1,475.1 L284.1,477.6 L285.1,480.0 L286.1,482.5 L287.1,485.2 L288.2,487.7 L289.2,490.1 L290.2,492.6 L291.2,494.8 L292.2,497.4 L293.2,499.8 L294.2,502.3 L295.2,504.3 L296.2,506.9 L297.2,509.2 L298.2,512.0 L299.2,514.9 L300.2,517.8 L301.2,520.8 L302.2,523.4 L303.2,526.3 L304.2,528.9 L305.2,531.9 L306.2,534.4 L307.2,537.1 L308.2,539.5 L309.2,542.3 L310.2,544.6 L311.2,547.3 L312.2,549.6 L313.3,551.7 L314.3,554.2 L315.3,556.4 L316.3,558.5 L317.3,560.7 L318.3,562.7 L319.3,565.1 L320.3,566.7 L321.3,568.9 L322.3,570.7 L323.3,572.3 L324.3,573.9 L325.3,575.7 L326.3,577.1 L327.3,578.3 L328.3,579.7 L329.3,581.0 L330.3,581.8 L331.3,583.0 L332.3,583.6 L333.3,584.4 L334.3,585.1 L335.3,585.5 L336.3,585.5 L337.3,585.8 L338.4,585.5 L339.4,585.3 L340.4,584.9 L341.4,584.3 L342.4,583.6 L343.4,582.8 L344.4,581.7 L345.4,580.3 L346.4,578.7 L347.4,577.4 L348.4,575.4 L349.4,573.8 L350.4,571.8 L351.4,569.8 L352.4,567.4 L353.4,565.0 L354.4,562.5 L355.4,559.9 L356.4,557.4 L357.4,555.0 L358.4,551.9 L359.4,549.5 L360.4,546.5 L361.4,543.9 L362.4,541.1 L363.5,538.2 L364.5,535.4 L365.5,532.7 L366.5,530.0 L367.5,526.9 L368.5,524.1 L369.5,521.3 L370.5,518.5 L371.5,515.5 L372.5,512.9 L373.5,510.5 L374.5,508.2 L375.5,506.0" fill="none" stroke="#ff0000" stroke-width="2.7" stroke-linejoin="round"/>
<path d="M74.3,502.7 L75.3,500.5 L76.3,498.0 L77.3,495.7 L78.3,493.4 L79.3,491.3 L80.3,488.9 L81.3,486.9 L82.3,484.4 L83.3,482.5 L84.3,480.0 L85.3,478.0 L86.3,475.9 L87.4,474.0 L88.4,471.9 L89.4,469.6 L90.4,467.7 L91.4,465.8 L92.4,463.6 L93.4,462.0 L94.4,460.1 L95.4,458.4 L96.4,456.4 L97.4,454.9 L98.4,453.2 L99.4,451.9 L100.4,450.4 L101.4,448.7 L102.4,447.8 L103.4,446.6 L104.4,445.3 L105.4,444.7 L106.4,443.5 L107.4,443.2 L108.4,442.5 L109.4,441.9 L110.4,442.0 L111.4,441.7 L112.5,441.7 L113.5,441.9 L114.5,442.3 L115.5,443.1 L116.5,443.7 L117.5,444.9 L118.5,445.8 L119.5,446.9 L120.5,448.3 L121.5,450.1 L122.5,451.5 L123.5,453.7 L124.5,455.5 L125.5,457.5 L126.5,459.7 L127.5,461.8 L128.5,464.3 L129.5,466.5 L130.5,468.8 L131.5,471.5 L132.5,474.1 L133.5,476.7 L134.5,479.0 L135.5,481.5 L136.5,484.2 L137.6,486.6 L138.6,489.4 L139.6,491.7 L140.6,494.3 L141.6,497.0 L142.6,499.6 L143.6,501.9 L144.6,504.2 L145.6,506.9 L146.6,509.2 L147.6,512.1 L148.6,515.0 L149.6,518.1 L150.6,520.8 L151.6,523.7 L152.6,526.6 L153.6,529.4 L154.6,532.1 L155.6,534.8 L156.6,537.7 L157.6,540.2 L158.6,543.0 L159.6,545.5 L160.6,548.1 L161.6,550.5 L162.7,552.7 L163.7,555.3 L164.7,557.3 L165.7,559.8 L166.7,562.1 L167.7,564.2 L168.7,566.4 L169.7,568.2 L170.7,570.3 L171.7,572.0 L172.7,573.8 L173.7,575.6 L174.7,577.1 L175.7,578.6 L176.7,580.2 L177.7,581.4 L178.7,582.8 L179.7,583.7 L180.7,584.6 L181.7,585.7 L182.7,586.2 L183.7,586.7 L184.7,587.2 L185.7,587.4 L186.7,587.2 L187.8,587.2 L188.8,587.0 L189.8,586.7 L190.8,586.1 L191.8,585.3 L192.8,584.3 L193.8,583.4 L194.8,581.9 L195.8,580.4 L196.8,578.8 L197.8,577.3 L198.8,575.2 L199.8,573.1 L200.8,570.8 L201.8,568.5 L202.8,566.4 L203.8,563.5 L204.8,560.9 L205.8,558.2 L206.8,555.4 L207.8,552.8 L208.8,549.5 L209.8,546.9 L210.8,543.7 L211.8,540.7 L212.9,537.6 L213.9,534.7 L214.9,531.3 L215.9,528.3 L216.9,525.1 L217.9,522.2 L218.9,518.9 L219.9,516.1 L220.9,513.0 L221.9,510.1 L222.9,507.6 L223.9,505.1 L224.9,502.5 L225.9,500.3 L226.9,498.1 L227.9,495.8 L228.9,493.5 L229.9,491.1 L230.9,488.8 L231.9,486.7 L232.9,484.6 L233.9,482.1 L234.9,480.3 L235.9,477.9 L236.9,475.8 L238.0,473.8 L239.0,471.8 L240.0,469.5 L241.0,467.7 L242.0,465.8 L243.0,463.7 L244.0,462.0 L245.0,460.1 L246.0,458.4 L247.0,456.5 L248.0,454.9 L249.0,453.0 L250.0,451.7 L251.0,450.4 L252.0,449.1 L253.0,447.4 L254.0,446.6 L255.0,445.3 L256.0,444.4 L257.0,443.5 L258.0,442.9 L259.0,442.5 L260.0,442.2 L261.0,441.8 L262.0,441.9 L263.1,441.8 L264.1,442.0 L265.1,442.3 L266.1,443.2 L267.1,443.8 L268.1,444.9 L269.1,445.7 L270.1,446.9 L271.1,448.6 L272.1,450.1 L273.1,451.9 L274.1,453.4 L275.1,455.6 L276.1,457.4 L277.1,459.8 L278.1,461.9 L279.1,464.1 L280.1,466.4 L281.1,469.0 L282.1,471.5 L283.1,474.0 L284.1,476.7 L285.1,478.9 L286.1,481.6 L287.1,484.0 L288.2,486.6 L289.2,489.4 L290.2,492.0 L291.2,494.5 L292.2,496.9 L293.2,499.4 L294.2,501.7 L295.2,504.1 L296.2,506.9 L297.2,509.0 L298.2,512.2 L299.2,515.2 L300.2,517.8 L301.2,520.8 L302.2,523.6 L303.2,526.5 L304.2,529.6 L305.2,532.3 L306.2,535.0 L307.2,537.6 L308.2,540.3 L309.2,542.9 L310.2,545.3 L311.2,547.9 L312.2,550.3 L313.3,552.8 L314.3,555.2 L315.3,557.6 L316.3,559.6 L317.3,561.9 L318.3,564.2 L319.3,566.2 L320.3,568.1 L321.3,570.1 L322.3,572.1 L323.3,574.0 L324.3,575.4 L325.3,577.0 L326.3,578.7 L327.3,580.2 L328.3,581.2 L329.3,582.5 L330.3,583.7 L331.3,584.6 L332.3,585.3 L333.3,586.3 L334.3,586.8 L335.3,587.0 L336.3,587.2 L337.3,587.3 L338.4,587.4 L339.4,587.2 L340.4,586.9 L341.4,585.9 L342.4,585.3 L343.4,584.5 L344.4,583.1 L345.4,581.9 L346.4,580.7 L347.4,579.0 L348.4,577.3 L349.4,575.1 L350.4,573.3 L351.4,571.1 L352.4,568.6 L353.4,566.0 L354.4,563.9 L355.4,561.3 L356.4,558.7 L357.4,556.0 L358.4,553.3 L359.4,550.4 L360.4,547.6 L361.4,545.2 L362.4,542.3 L363.5,539.5 L364.5,536.7 L365.5,533.7 L366.5,531.1 L367.5,528.3 L368.5,525.5 L369.5,522.4 L370.5,519.5 L371.5,516.8 L372.5,513.7 L373.5,511.6 L374.5,509.4 L375.5,506.8" fill="none" stroke="#ff0000" stroke-width="2.7" stroke-linejoin="round"/>
<path d="M74.3,506.3 L75.3,504.4 L76.3,502.7 L77.3,501.0 L78.3,499.2 L79.3,497.5 L80.3,496.1 L81.3,494.6 L82.3,493.3 L83.3,491.7 L84.3,490.5 L85.3,488.9 L86.3,487.8 L87.4,486.3 L88.4,485.2 L89.4,484.0 L90.4,483.3 L91.4,482.1 L92.4,481.1 L93.4,480.3 L94.4,479.4 L95.4,478.4 L96.4,477.8 L97.4,476.8 L98.4,476.3 L99.4,475.7 L100.4,474.9 L101.4,474.4 L102.4,474.0 L103.4,473.2 L104.4,473.1 L105.4,472.5 L106.4,472.2 L107.4,471.9 L108.4,471.7 L109.4,471.8 L110.4,471.5 L111.4,471.6 L112.5,471.3 L113.5,471.3 L114.5,471.3 L115.5,471.7 L116.5,472.0 L117.5,472.1 L118.5,472.5 L119.5,472.7 L120.5,473.1 L121.5,473.6 L122.5,474.5 L123.5,475.1 L124.5,475.9 L125.5,476.6 L126.5,477.3 L127.5,478.2 L128.5,479.4 L129.5,480.3 L130.5,481.6 L131.5,482.8 L132.5,484.0 L133.5,485.7 L134.5,486.8 L135.5,488.6 L136.5,489.9 L137.6,491.8 L138.6,493.3 L139.6,494.9 L140.6,496.8 L141.6,498.6 L142.6,500.3 L143.6,502.1 L144.6,504.0 L145.6,505.6 L146.6,507.5 L147.6,509.4 L148.6,511.5 L149.6,513.9 L150.6,515.9 L151.6,518.2 L152.6,520.2 L153.6,522.1 L154.6,524.2 L155.6,526.2 L156.6,528.0 L157.6,529.9 L158.6,531.6 L159.6,533.2 L160.6,534.6 L161.6,536.4 L162.7,537.8 L163.7,538.9 L164.7,540.4 L165.7,541.4 L166.7,542.4 L167.7,543.4 L168.7,544.6 L169.7,545.5 L170.7,546.4 L171.7,547.1 L172.7,547.6 L173.7,548.3 L174.7,549.1 L175.7,549.6 L176.7,550.3 L177.7,550.6 L178.7,550.9 L179.7,551.4 L180.7,551.3 L181.7,552.0 L182.7,552.0 L183.7,552.1 L184.7,552.3 L185.7,552.3 L186.7,552.4 L187.8,552.6 L188.8,552.5 L189.8,552.5 L190.8,552.3 L191.8,552.0 L192.8,551.9 L193.8,551.8 L194.8,551.3 L195.8,551.1 L196.8,550.7 L197.8,550.1 L198.8,549.3 L199.8,549.0 L200.8,548.1 L201.8,547.5 L202.8,546.2 L203.8,545.5 L204.8,544.3 L205.8,543.2 L206.8,541.8 L207.8,540.4 L208.8,538.8 L209.8,537.1 L210.8,535.4 L211.8,533.6 L212.9,531.6 L213.9,529.6 L214.9,527.4 L215.9,525.4 L216.9,523.3 L217.9,521.2 L218.9,518.7 L219.9,516.7 L220.9,514.4 L221.9,511.9 L222.9,509.8 L223.9,508.1 L224.9,506.3 L225.9,504.5 L226.9,502.6 L227.9,500.9 L228.9,499.3 L229.9,497.6 L230.9,496.1 L231.9,494.8 L232.9,493.3 L233.9,491.6 L234.9,490.4 L235.9,489.0 L236.9,487.6 L238.0,486.4 L239.0,485.2 L240.0,484.0 L241.0,483.2 L242.0,482.1 L243.0,481.0 L244.0,480.3 L245.0,479.2 L246.0,478.3 L247.0,477.6 L248.0,476.8 L249.0,476.0 L250.0,475.5 L251.0,475.0 L252.0,474.4 L253.0,473.7 L254.0,473.5 L255.0,473.0 L256.0,472.5 L257.0,472.2 L258.0,472.1 L259.0,471.9 L260.0,471.8 L261.0,471.5 L262.0,471.6 L263.1,471.4 L264.1,471.5 L265.1,471.4 L266.1,471.6 L267.1,471.7 L268.1,472.0 L269.1,472.5 L270.1,472.6 L271.1,473.3 L272.1,473.7 L273.1,474.3 L274.1,475.0 L275.1,475.8 L276.1,476.5 L277.1,477.3 L278.1,478.3 L279.1,479.4 L280.1,480.2 L281.1,481.5 L282.1,483.0 L283.1,484.3 L284.1,485.6 L285.1,487.2 L286.1,488.6 L287.1,490.1 L288.2,491.8 L289.2,493.2 L290.2,495.0 L291.2,496.9 L292.2,498.4 L293.2,500.4 L294.2,501.9 L295.2,503.7 L296.2,505.7 L297.2,507.6 L298.2,509.5 L299.2,511.5 L300.2,513.8 L301.2,515.9 L302.2,518.0 L303.2,520.1 L304.2,522.2 L305.2,524.4 L306.2,526.2 L307.2,528.0 L308.2,529.8 L309.2,531.6 L310.2,533.2 L311.2,534.7 L312.2,536.2 L313.3,537.5 L314.3,539.1 L315.3,540.4 L316.3,541.5 L317.3,542.4 L318.3,543.5 L319.3,544.6 L320.3,545.3 L321.3,546.5 L322.3,546.9 L323.3,548.0 L324.3,548.5 L325.3,549.1 L326.3,549.6 L327.3,550.2 L328.3,550.5 L329.3,551.1 L330.3,551.4 L331.3,551.4 L332.3,551.9 L333.3,552.0 L334.3,552.3 L335.3,552.1 L336.3,552.5 L337.3,552.4 L338.4,552.5 L339.4,552.4 L340.4,552.2 L341.4,552.3 L342.4,552.3 L343.4,551.9 L344.4,551.6 L345.4,551.5 L346.4,551.0 L347.4,550.4 L348.4,550.1 L349.4,549.4 L350.4,549.0 L351.4,548.2 L352.4,547.4 L353.4,546.4 L354.4,545.3 L355.4,544.3 L356.4,543.2 L357.4,541.8 L358.4,540.5 L359.4,538.8 L360.4,537.3 L361.4,535.9 L362.4,533.9 L363.5,532.0 L364.5,530.2 L365.5,528.3 L366.5,526.4 L367.5,524.0 L368.5,522.1 L369.5,519.8 L370.5,517.4 L371.5,515.1 L372.5,513.0 L373.5,510.8 L374.5,509.0 L375.5,507.3" fill="none" stroke="#ff0000" stroke-width="2.7" stroke-linejoin="round"/>
<path d="M74.3,508.4 L75.3,507.0 L76.3,504.9 L77.3,503.5 L78.3,501.8 L79.3,499.8 L80.3,498.3 L81.3,496.6 L82.3,495.1 L83.3,493.8 L84.3,492.3 L85.3,490.7 L86.3,489.5 L87.4,488.2 L88.4,487.0 L89.4,485.6 L90.4,484.6 L91.4,483.5 L92.4,482.7 L93.4,481.7 L94.4,480.7 L95.4,479.7 L96.4,479.1 L97.4,478.1 L98.4,477.4 L99.4,476.7 L100.4,476.3 L101.4,475.8 L102.4,475.2 L103.4,474.8 L104.4,474.3 L105.4,473.9 L106.4,473.4 L107.4,473.4 L108.4,473.1 L109.4,472.8 L110.4,472.8 L111.4,472.6 L112.5,472.5 L113.5,472.4 L114.5,472.4 L115.5,472.4 L116.5,472.3 L117.5,472.7 L118.5,472.8 L119.5,473.1 L120.5,473.5 L121.5,473.7 L122.5,474.1 L123.5,474.7 L124.5,475.4 L125.5,476.0 L126.5,476.7 L127.5,477.5 L128.5,478.3 L129.5,479.1 L130.5,480.0 L131.5,481.3 L132.5,482.1 L133.5,483.7 L134.5,484.9 L135.5,486.2 L136.5,487.6 L137.6,489.3 L138.6,490.6 L139.6,492.4 L140.6,494.0 L141.6,495.7 L142.6,497.5 L143.6,499.5 L144.6,501.0 L145.6,503.2 L146.6,504.9 L147.6,506.6 L148.6,508.6 L149.6,510.0 L150.6,511.5 L151.6,512.9 L152.6,514.4 L153.6,515.7 L154.6,516.7 L155.6,518.4 L156.6,519.3 L157.6,520.5 L158.6,521.8 L159.6,522.7 L160.6,523.9 L161.6,524.9 L162.7,526.0 L163.7,526.9 L164.7,527.8 L165.7,528.7 L166.7,529.6 L167.7,530.4 L168.7,531.1 L169.7,531.8 L170.7,532.4 L171.7,533.1 L172.7,533.5 L173.7,534.2 L174.7,534.8 L175.7,535.1 L176.7,535.6 L177.7,536.1 L178.7,536.5 L179.7,536.8 L180.7,537.0 L181.7,537.5 L182.7,537.5 L183.7,538.0 L184.7,537.9 L185.7,538.0 L186.7,538.1 L187.8,538.4 L188.8,538.4 L189.8,538.5 L190.8,538.4 L191.8,538.1 L192.8,538.2 L193.8,537.7 L194.8,537.8 L195.8,537.4 L196.8,537.1 L197.8,536.9 L198.8,536.5 L199.8,536.1 L200.8,535.5 L201.8,535.0 L202.8,534.6 L203.8,533.6 L204.8,532.8 L205.8,532.3 L206.8,531.3 L207.8,530.4 L208.8,529.5 L209.8,528.4 L210.8,527.4 L211.8,526.5 L212.9,525.3 L213.9,523.8 L214.9,522.9 L215.9,521.6 L216.9,520.2 L217.9,518.6 L218.9,517.2 L219.9,515.8 L220.9,514.6 L221.9,513.2 L222.9,511.6 L223.9,510.4 L224.9,508.7 L225.9,506.9 L226.9,505.0 L227.9,503.5 L228.9,501.6 L229.9,500.0 L230.9,498.4 L231.9,496.5 L232.9,495.0 L233.9,493.5 L234.9,492.4 L235.9,490.7 L236.9,489.4 L238.0,488.2 L239.0,487.0 L240.0,485.7 L241.0,484.7 L242.0,483.5 L243.0,482.6 L244.0,481.4 L245.0,480.7 L246.0,479.8 L247.0,479.0 L248.0,478.1 L249.0,477.6 L250.0,476.7 L251.0,476.3 L252.0,475.7 L253.0,474.9 L254.0,474.8 L255.0,474.3 L256.0,473.7 L257.0,473.4 L258.0,473.4 L259.0,472.9 L260.0,472.8 L261.0,472.5 L262.0,472.2 L263.1,472.2 L264.1,472.2 L265.1,472.2 L266.1,472.3 L267.1,472.4 L268.1,472.7 L269.1,472.6 L270.1,473.1 L271.1,473.3 L272.1,473.8 L273.1,474.1 L274.1,474.5 L275.1,475.3 L276.1,475.7 L277.1,476.7 L278.1,477.2 L279.1,478.0 L280.1,479.1 L281.1,480.2 L282.1,481.4 L283.1,482.2 L284.1,483.4 L285.1,485.0 L286.1,486.2 L287.1,487.8 L288.2,489.3 L289.2,491.0 L290.2,492.5 L291.2,494.3 L292.2,495.7 L293.2,497.7 L294.2,499.4 L295.2,501.3 L296.2,503.1 L297.2,504.7 L298.2,506.7 L299.2,508.6 L300.2,510.0 L301.2,511.5 L302.2,512.9 L303.2,514.3 L304.2,515.8 L305.2,517.1 L306.2,518.2 L307.2,519.5 L308.2,520.8 L309.2,521.9 L310.2,522.9 L311.2,523.8 L312.2,524.9 L313.3,525.9 L314.3,527.0 L315.3,527.8 L316.3,528.6 L317.3,529.6 L318.3,530.3 L319.3,531.1 L320.3,532.0 L321.3,532.6 L322.3,533.0 L323.3,533.7 L324.3,534.3 L325.3,534.7 L326.3,535.2 L327.3,535.8 L328.3,536.3 L329.3,536.5 L330.3,536.8 L331.3,537.2 L332.3,537.5 L333.3,537.4 L334.3,537.6 L335.3,538.0 L336.3,538.3 L337.3,538.4 L338.4,538.1 L339.4,538.2 L340.4,538.4 L341.4,538.2 L342.4,538.0 L343.4,538.0 L344.4,537.9 L345.4,537.6 L346.4,537.6 L347.4,537.2 L348.4,536.8 L349.4,536.4 L350.4,536.2 L351.4,535.4 L352.4,534.9 L353.4,534.4 L354.4,533.7 L355.4,532.9 L356.4,532.4 L357.4,531.2 L358.4,530.5 L359.4,529.4 L360.4,528.4 L361.4,527.3 L362.4,526.0 L363.5,524.6 L364.5,523.5 L365.5,522.0 L366.5,520.6 L367.5,519.2 L368.5,517.8 L369.5,516.7 L370.5,515.2 L371.5,513.6 L372.5,512.0 L373.5,510.6 L374.5,509.3 L375.5,507.7" fill="none" stroke="#ff0000" stroke-width="2.6" stroke-linejoin="round"/>
<path d="M74.3,505.0 L75.3,503.8 L76.3,502.5 L77.3,501.3 L78.3,500.1 L79.3,498.9 L80.3,497.7 L81.3,496.6 L82.3,495.5 L83.3,494.4 L84.3,493.3 L85.3,492.2 L86.3,491.2 L87.4,490.2 L88.4,489.3 L89.4,488.4 L90.4,487.5 L91.4,486.6 L92.4,485.8 L93.4,485.1 L94.4,484.4 L95.4,483.7 L96.4,483.1 L97.4,482.5 L98.4,482.0 L99.4,481.5 L100.4,481.0 L101.4,480.6 L102.4,480.3 L103.4,480.0 L104.4,479.8 L105.4,479.6 L106.4,479.5 L107.4,479.4 L108.4,479.4 L109.4,479.4 L110.4,479.5 L111.4,479.6 L112.5,479.8 L113.5,480.1 L114.5,480.4 L115.5,480.7 L116.5,481.1 L117.5,481.5 L118.5,482.0 L119.5,482.6 L120.5,483.2 L121.5,483.8 L122.5,484.5 L123.5,485.2 L124.5,486.0 L125.5,486.8 L126.5,487.6 L127.5,488.5 L128.5,489.4 L129.5,490.4 L130.5,491.4 L131.5,492.4 L132.5,493.5 L133.5,494.5 L134.5,495.6 L135.5,496.8 L136.5,497.9 L137.6,499.1 L138.6,500.3 L139.6,501.5 L140.6,502.7 L141.6,504.0 L142.6,505.2 L143.6,506.5 L144.6,507.7 L145.6,509.0 L146.6,510.1 L147.6,511.2 L148.6,512.2 L149.6,513.3 L150.6,514.3 L151.6,515.3 L152.6,516.4 L153.6,517.4 L154.6,518.4 L155.6,519.4 L156.6,520.3 L157.6,521.3 L158.6,522.2 L159.6,523.1 L160.6,524.0 L161.6,524.8 L162.7,525.7 L163.7,526.5 L164.7,527.2 L165.7,528.0 L166.7,528.7 L167.7,529.3 L168.7,530.0 L169.7,530.6 L170.7,531.1 L171.7,531.7 L172.7,532.1 L173.7,532.6 L174.7,533.0 L175.7,533.4 L176.7,533.7 L177.7,534.0 L178.7,534.2 L179.7,534.4 L180.7,534.6 L181.7,534.7 L182.7,534.7 L183.7,534.7 L184.7,534.7 L185.7,534.6 L186.7,534.5 L187.8,534.4 L188.8,534.2 L189.8,533.9 L190.8,533.6 L191.8,533.3 L192.8,532.9 L193.8,532.5 L194.8,532.1 L195.8,531.6 L196.8,531.0 L197.8,530.5 L198.8,529.9 L199.8,529.2 L200.8,528.6 L201.8,527.8 L202.8,527.1 L203.8,526.3 L204.8,525.5 L205.8,524.7 L206.8,523.8 L207.8,523.0 L208.8,522.0 L209.8,521.1 L210.8,520.2 L211.8,519.2 L212.9,518.2 L213.9,517.2 L214.9,516.2 L215.9,515.2 L216.9,514.1 L217.9,513.1 L218.9,512.1 L219.9,511.0 L220.9,509.9 L221.9,508.8 L222.9,507.5 L223.9,506.3 L224.9,505.0 L225.9,503.8 L226.9,502.5 L227.9,501.3 L228.9,500.1 L229.9,498.9 L230.9,497.7 L231.9,496.6 L232.9,495.5 L233.9,494.4 L234.9,493.3 L235.9,492.2 L236.9,491.2 L238.0,490.2 L239.0,489.3 L240.0,488.4 L241.0,487.5 L242.0,486.6 L243.0,485.8 L244.0,485.1 L245.0,484.4 L246.0,483.7 L247.0,483.1 L248.0,482.5 L249.0,482.0 L250.0,481.5 L251.0,481.0 L252.0,480.6 L253.0,480.3 L254.0,480.0 L255.0,479.8 L256.0,479.6 L257.0,479.5 L258.0,479.4 L259.0,479.4 L260.0,479.4 L261.0,479.5 L262.0,479.6 L263.1,479.8 L264.1,480.1 L265.1,480.4 L266.1,480.7 L267.1,481.1 L268.1,481.5 L269.1,482.0 L270.1,482.6 L271.1,483.2 L272.1,483.8 L273.1,484.5 L274.1,485.2 L275.1,486.0 L276.1,486.8 L277.1,487.6 L278.1,488.5 L279.1,489.4 L280.1,490.4 L281.1,491.4 L282.1,492.4 L283.1,493.5 L284.1,494.5 L285.1,495.6 L286.1,496.8 L287.1,497.9 L288.2,499.1 L289.2,500.3 L290.2,501.5 L291.2,502.7 L292.2,504.0 L293.2,505.2 L294.2,506.5 L295.2,507.7 L296.2,509.0 L297.2,510.1 L298.2,511.2 L299.2,512.2 L300.2,513.3 L301.2,514.3 L302.2,515.3 L303.2,516.4 L304.2,517.4 L305.2,518.4 L306.2,519.4 L307.2,520.3 L308.2,521.3 L309.2,522.2 L310.2,523.1 L311.2,524.0 L312.2,524.8 L313.3,525.7 L314.3,526.5 L315.3,527.2 L316.3,528.0 L317.3,528.7 L318.3,529.3 L319.3,530.0 L320.3,530.6 L321.3,531.1 L322.3,531.7 L323.3,532.1 L324.3,532.6 L325.3,533.0 L326.3,533.4 L327.3,533.7 L328.3,534.0 L329.3,534.2 L330.3,534.4 L331.3,534.6 L332.3,534.7 L333.3,534.7 L334.3,534.7 L335.3,534.7 L336.3,534.6 L337.3,534.5 L338.4,534.4 L339.4,534.2 L340.4,533.9 L341.4,533.6 L342.4,533.3 L343.4,532.9 L344.4,532.5 L345.4,532.1 L346.4,531.6 L347.4,531.0 L348.4,530.5 L349.4,529.9 L350.4,529.2 L351.4,528.6 L352.4,527.8 L353.4,527.1 L354.4,526.3 L355.4,525.6 L356.4,524.8 L357.4,523.9 L358.4,523.1 L359.4,522.2 L360.4,521.4 L361.4,520.5 L362.4,519.6 L363.5,518.6 L364.5,517.7 L365.5,516.8 L366.5,515.8 L367.5,514.8 L368.5,513.8 L369.5,512.8 L370.5,511.8 L371.5,510.8 L372.5,509.7 L373.5,508.4 L374.5,507.2 L375.5,506.0" fill="none" stroke="#0000ff" stroke-width="3.3" stroke-linejoin="round" stroke-dasharray="3.1 3.4" stroke-linecap="butt"/>
<path d="M74.3,505.6 L75.3,504.2 L76.3,502.7 L77.3,501.1 L78.3,499.7 L79.3,498.5 L80.3,497.1 L81.3,495.6 L82.3,494.5 L83.3,493.3 L84.3,492.2 L85.3,491.1 L86.3,490.1 L87.4,488.9 L88.4,488.1 L89.4,486.9 L90.4,485.9 L91.4,485.4 L92.4,484.3 L93.4,483.5 L94.4,482.8 L95.4,482.2 L96.4,481.8 L97.4,480.9 L98.4,480.6 L99.4,480.1 L100.4,479.4 L101.4,479.0 L102.4,478.7 L103.4,478.3 L104.4,478.0 L105.4,477.5 L106.4,477.5 L107.4,477.1 L108.4,477.0 L109.4,476.9 L110.4,476.7 L111.4,476.8 L112.5,476.8 L113.5,476.7 L114.5,476.9 L115.5,476.8 L116.5,477.3 L117.5,477.1 L118.5,477.7 L119.5,477.9 L120.5,478.1 L121.5,478.5 L122.5,479.3 L123.5,479.7 L124.5,480.3 L125.5,481.0 L126.5,481.5 L127.5,482.4 L128.5,483.5 L129.5,484.2 L130.5,485.3 L131.5,486.6 L132.5,487.7 L133.5,488.7 L134.5,490.2 L135.5,491.2 L136.5,492.8 L137.6,494.4 L138.6,495.8 L139.6,497.3 L140.6,498.8 L141.6,500.6 L142.6,502.1 L143.6,503.8 L144.6,505.4 L145.6,507.0 L146.6,508.5 L147.6,510.4 L148.6,512.4 L149.6,514.6 L150.6,517.0 L151.6,518.7 L152.6,520.6 L153.6,522.9 L154.6,524.6 L155.6,526.3 L156.6,528.3 L157.6,529.8 L158.6,531.3 L159.6,532.8 L160.6,534.1 L161.6,535.5 L162.7,536.8 L163.7,538.0 L164.7,538.9 L165.7,540.2 L166.7,540.8 L167.7,542.0 L168.7,542.8 L169.7,543.3 L170.7,544.2 L171.7,544.9 L172.7,545.3 L173.7,545.7 L174.7,546.3 L175.7,546.6 L176.7,547.0 L177.7,547.0 L178.7,547.5 L179.7,547.9 L180.7,547.9 L181.7,548.2 L182.7,548.2 L183.7,548.1 L184.7,548.4 L185.7,548.3 L186.7,548.4 L187.8,548.6 L188.8,548.5 L189.8,548.3 L190.8,548.2 L191.8,548.3 L192.8,548.0 L193.8,547.9 L194.8,547.8 L195.8,547.5 L196.8,547.2 L197.8,546.9 L198.8,546.4 L199.8,546.0 L200.8,545.2 L201.8,544.8 L202.8,544.0 L203.8,543.1 L204.8,541.9 L205.8,541.1 L206.8,539.8 L207.8,538.5 L208.8,536.9 L209.8,535.4 L210.8,533.5 L211.8,532.1 L212.9,529.9 L213.9,528.1 L214.9,526.0 L215.9,524.2 L216.9,521.9 L217.9,519.7 L218.9,517.5 L219.9,515.4 L220.9,512.9 L221.9,510.8 L222.9,508.8 L223.9,507.3 L224.9,505.6 L225.9,504.3 L226.9,502.7 L227.9,501.3 L228.9,499.8 L229.9,498.2 L230.9,497.1 L231.9,495.6 L232.9,494.4 L233.9,493.1 L234.9,492.3 L235.9,491.0 L236.9,489.8 L238.0,488.8 L239.0,487.8 L240.0,486.9 L241.0,486.2 L242.0,485.2 L243.0,484.3 L244.0,483.5 L245.0,483.0 L246.0,482.1 L247.0,481.8 L248.0,481.1 L249.0,480.5 L250.0,479.8 L251.0,479.6 L252.0,479.0 L253.0,478.7 L254.0,478.4 L255.0,478.1 L256.0,477.6 L257.0,477.6 L258.0,477.0 L259.0,476.9 L260.0,477.0 L261.0,476.9 L262.0,476.9 L263.1,476.6 L264.1,476.7 L265.1,476.7 L266.1,476.9 L267.1,476.9 L268.1,477.3 L269.1,477.7 L270.1,478.0 L271.1,478.1 L272.1,478.6 L273.1,479.0 L274.1,479.6 L275.1,480.3 L276.1,481.0 L277.1,481.5 L278.1,482.3 L279.1,483.3 L280.1,484.2 L281.1,485.4 L282.1,486.2 L283.1,487.7 L284.1,488.7 L285.1,490.2 L286.1,491.5 L287.1,492.7 L288.2,494.3 L289.2,495.9 L290.2,497.4 L291.2,498.9 L292.2,500.6 L293.2,502.0 L294.2,503.6 L295.2,505.4 L296.2,506.8 L297.2,508.5 L298.2,510.5 L299.2,512.4 L300.2,514.7 L301.2,516.8 L302.2,518.7 L303.2,520.6 L304.2,522.9 L305.2,524.7 L306.2,526.4 L307.2,528.0 L308.2,529.8 L309.2,531.3 L310.2,532.9 L311.2,534.3 L312.2,535.7 L313.3,536.7 L314.3,537.8 L315.3,539.0 L316.3,540.2 L317.3,540.9 L318.3,541.9 L319.3,542.8 L320.3,543.3 L321.3,543.9 L322.3,544.8 L323.3,545.1 L324.3,545.7 L325.3,546.1 L326.3,546.6 L327.3,547.0 L328.3,547.3 L329.3,547.3 L330.3,547.9 L331.3,548.0 L332.3,548.0 L333.3,548.1 L334.3,548.2 L335.3,548.5 L336.3,548.6 L337.3,548.5 L338.4,548.6 L339.4,548.3 L340.4,548.3 L341.4,548.3 L342.4,548.2 L343.4,548.1 L344.4,548.0 L345.4,547.9 L346.4,547.5 L347.4,547.4 L348.4,547.0 L349.4,546.6 L350.4,545.8 L351.4,545.5 L352.4,544.8 L353.4,543.8 L354.4,543.1 L355.4,542.1 L356.4,541.0 L357.4,539.7 L358.4,538.4 L359.4,537.1 L360.4,535.9 L361.4,534.3 L362.4,532.5 L363.5,530.7 L364.5,528.9 L365.5,527.0 L366.5,525.1 L367.5,522.8 L368.5,520.9 L369.5,518.9 L370.5,516.7 L371.5,514.5 L372.5,512.2 L373.5,510.5 L374.5,508.8 L375.5,507.4" fill="none" stroke="#000000" stroke-width="2.4" stroke-linejoin="round"/>
<path d="M74.3,506.1 L75.3,504.8 L76.3,503.3 L77.3,502.2 L78.3,500.7 L79.3,499.7 L80.3,498.4 L81.3,497.3 L82.3,496.2 L83.3,494.8 L84.3,494.2 L85.3,492.8 L86.3,492.2 L87.4,490.9 L88.4,490.4 L89.4,489.4 L90.4,488.6 L91.4,487.9 L92.4,487.3 L93.4,486.4 L94.4,486.0 L95.4,485.0 L96.4,484.5 L97.4,484.1 L98.4,483.6 L99.4,483.3 L100.4,482.8 L101.4,482.2 L102.4,481.9 L103.4,481.6 L104.4,481.2 L105.4,481.3 L106.4,481.0 L107.4,480.7 L108.4,480.6 L109.4,480.2 L110.4,480.5 L111.4,480.3 L112.5,480.2 L113.5,480.4 L114.5,480.4 L115.5,480.3 L116.5,480.6 L117.5,480.6 L118.5,480.8 L119.5,481.2 L120.5,481.6 L121.5,482.1 L122.5,482.2 L123.5,482.8 L124.5,483.5 L125.5,483.9 L126.5,484.8 L127.5,485.4 L128.5,486.2 L129.5,486.8 L130.5,487.9 L131.5,488.8 L132.5,489.8 L133.5,491.0 L134.5,492.3 L135.5,493.2 L136.5,494.7 L137.6,495.9 L138.6,497.3 L139.6,498.5 L140.6,500.0 L141.6,501.2 L142.6,502.7 L143.6,504.2 L144.6,505.8 L145.6,507.2 L146.6,508.7 L147.6,510.5 L148.6,513.6 L149.6,516.1 L150.6,518.9 L151.6,521.7 L152.6,524.1 L153.6,526.8 L154.6,529.0 L155.6,531.2 L156.6,533.6 L157.6,535.9 L158.6,537.8 L159.6,539.7 L160.6,541.6 L161.6,543.1 L162.7,545.0 L163.7,546.4 L164.7,547.6 L165.7,548.9 L166.7,550.4 L167.7,551.6 L168.7,552.4 L169.7,553.4 L170.7,554.2 L171.7,555.2 L172.7,555.8 L173.7,556.4 L174.7,557.0 L175.7,557.6 L176.7,558.0 L177.7,558.2 L178.7,558.6 L179.7,559.0 L180.7,559.1 L181.7,559.6 L182.7,559.5 L183.7,559.6 L184.7,559.8 L185.7,560.1 L186.7,560.0 L187.8,559.8 L188.8,560.0 L189.8,559.9 L190.8,559.7 L191.8,559.7 L192.8,559.6 L193.8,559.3 L194.8,559.1 L195.8,559.0 L196.8,558.4 L197.8,557.9 L198.8,557.4 L199.8,556.7 L200.8,555.9 L201.8,555.2 L202.8,554.2 L203.8,552.8 L204.8,551.7 L205.8,550.0 L206.8,548.6 L207.8,547.0 L208.8,545.0 L209.8,542.9 L210.8,540.9 L211.8,538.4 L212.9,536.1 L213.9,533.7 L214.9,530.9 L215.9,528.3 L216.9,525.6 L217.9,522.8 L218.9,519.8 L219.9,517.0 L220.9,514.0 L221.9,511.4 L222.9,508.8 L223.9,507.4 L224.9,506.2 L225.9,504.6 L226.9,503.4 L227.9,502.3 L228.9,500.8 L229.9,499.8 L230.9,498.3 L231.9,497.3 L232.9,496.1 L233.9,495.2 L234.9,494.0 L235.9,493.2 L236.9,491.8 L238.0,491.1 L239.0,490.1 L240.0,489.4 L241.0,488.5 L242.0,487.6 L243.0,487.3 L244.0,486.4 L245.0,485.7 L246.0,485.1 L247.0,484.8 L248.0,484.0 L249.0,483.4 L250.0,483.2 L251.0,482.9 L252.0,482.5 L253.0,482.0 L254.0,481.5 L255.0,481.2 L256.0,481.2 L257.0,480.9 L258.0,480.5 L259.0,480.7 L260.0,480.6 L261.0,480.4 L262.0,480.3 L263.1,480.2 L264.1,480.3 L265.1,480.3 L266.1,480.4 L267.1,480.5 L268.1,480.6 L269.1,481.1 L270.1,481.4 L271.1,481.6 L272.1,482.1 L273.1,482.2 L274.1,482.7 L275.1,483.5 L276.1,483.8 L277.1,484.8 L278.1,485.3 L279.1,486.3 L280.1,486.9 L281.1,487.9 L282.1,488.8 L283.1,490.0 L284.1,491.2 L285.1,492.3 L286.1,493.5 L287.1,494.6 L288.2,495.9 L289.2,497.2 L290.2,498.6 L291.2,500.1 L292.2,501.4 L293.2,502.7 L294.2,504.2 L295.2,505.8 L296.2,507.3 L297.2,508.7 L298.2,510.5 L299.2,513.4 L300.2,516.3 L301.2,519.1 L302.2,521.7 L303.2,524.2 L304.2,526.7 L305.2,529.0 L306.2,531.4 L307.2,533.4 L308.2,535.5 L309.2,537.6 L310.2,539.7 L311.2,541.3 L312.2,543.3 L313.3,544.9 L314.3,546.5 L315.3,547.9 L316.3,549.1 L317.3,550.5 L318.3,551.6 L319.3,552.4 L320.3,553.5 L321.3,554.3 L322.3,554.9 L323.3,555.9 L324.3,556.6 L325.3,557.2 L326.3,557.4 L327.3,557.9 L328.3,558.3 L329.3,558.6 L330.3,558.9 L331.3,559.4 L332.3,559.4 L333.3,559.8 L334.3,559.7 L335.3,559.7 L336.3,559.8 L337.3,560.0 L338.4,560.0 L339.4,559.9 L340.4,559.9 L341.4,559.9 L342.4,559.8 L343.4,559.4 L344.4,559.5 L345.4,559.1 L346.4,558.8 L347.4,558.5 L348.4,558.1 L349.4,557.3 L350.4,556.9 L351.4,556.0 L352.4,555.1 L353.4,553.9 L354.4,553.0 L355.4,551.6 L356.4,550.4 L357.4,548.8 L358.4,547.2 L359.4,545.3 L360.4,543.5 L361.4,541.2 L362.4,539.0 L363.5,536.8 L364.5,534.6 L365.5,532.0 L366.5,529.3 L367.5,526.7 L368.5,524.0 L369.5,521.1 L370.5,518.2 L371.5,515.6 L372.5,512.8 L373.5,510.5 L374.5,509.0 L375.5,507.7" fill="none" stroke="#000000" stroke-width="2.4" stroke-linejoin="round"/>
<path d="M74.3,398.8 V620.8" fill="none" stroke="#262626" stroke-width="1.1"/>
<path d="M73.8,620.2 H375.5" fill="none" stroke="#262626" stroke-width="1.1"/>
<path d="M74.3,598.1 h3" stroke="#262626" stroke-width="1"/>
<text transform="translate(70.30,605.46) scale(1,1.042)" text-anchor="end"  font-size="19" fill="#000">-200</text>
<path d="M74.3,553.8 h3" stroke="#262626" stroke-width="1"/>
<text transform="translate(70.30,561.18) scale(1,1.042)" text-anchor="end"  font-size="19" fill="#000">-100</text>
<path d="M74.3,509.5 h3" stroke="#262626" stroke-width="1"/>
<text transform="translate(70.30,516.90) scale(1,1.042)" text-anchor="end"  font-size="19" fill="#000">0</text>
<path d="M74.3,465.2 h3" stroke="#262626" stroke-width="1"/>
<text transform="translate(70.30,472.62) scale(1,1.042)" text-anchor="end"  font-size="19" fill="#000">100</text>
<path d="M74.3,420.9 h3" stroke="#262626" stroke-width="1"/>
<text transform="translate(70.30,428.34) scale(1,1.042)" text-anchor="end"  font-size="19" fill="#000">200</text>
<path d="M74.3,620.2 v-3" stroke="#262626" stroke-width="1"/>
<text transform="translate(74.30,641.50) scale(1,1.042)" text-anchor="middle"  font-size="19" fill="#000">0</text>
<path d="M149.6,620.2 v-3" stroke="#262626" stroke-width="1"/>
<text transform="translate(149.60,641.50) scale(1,1.042)" text-anchor="middle"  font-size="19" fill="#000">50</text>
<path d="M224.9,620.2 v-3" stroke="#262626" stroke-width="1"/>
<text transform="translate(224.90,641.50) scale(1,1.042)" text-anchor="middle"  font-size="19" fill="#000">100</text>
<path d="M300.2,620.2 v-3" stroke="#262626" stroke-width="1"/>
<text transform="translate(300.20,641.50) scale(1,1.042)" text-anchor="middle"  font-size="19" fill="#000">150</text>
<path d="M375.5,620.2 v-3" stroke="#262626" stroke-width="1"/>
<text transform="translate(375.50,641.50) scale(1,1.042)" text-anchor="middle"  font-size="19" fill="#000">200</text>
<text transform="translate(224.90,663.90) scale(1,1.042)" text-anchor="middle"  font-size="21.5" fill="#000">Time (s)</text>
<text transform="translate(23.10,509.50) rotate(-90) scale(1,1.042)" text-anchor="middle"  font-size="21.5" fill="#000">Force (N)</text>
<text transform="translate(224.90,383.10) scale(1,1.042)" text-anchor="middle"  font-size="23.8" fill="#000">Frequency = 0.01 Hz</text>
<path d="M471.0,504.1 L472.0,501.8 L473.0,500.2 L474.0,497.6 L475.0,495.6 L476.0,492.8 L477.0,491.0 L478.0,488.4 L479.0,485.6 L480.0,483.6 L481.1,480.3 L482.1,477.6 L483.1,475.9 L484.1,473.4 L485.1,470.7 L486.1,468.1 L487.1,464.9 L488.1,462.7 L489.1,461.0 L490.1,457.9 L491.1,456.2 L492.1,454.1 L493.1,453.1 L494.1,450.5 L495.1,448.8 L496.1,447.7 L497.1,447.2 L498.1,445.8 L499.1,445.3 L500.1,444.6 L501.1,444.3 L502.2,444.2 L503.2,443.7 L504.2,443.1 L505.2,443.5 L506.2,444.9 L507.2,445.1 L508.2,446.4 L509.2,446.8 L510.2,448.3 L511.2,448.7 L512.2,450.6 L513.2,451.9 L514.2,453.3 L515.2,454.3 L516.2,455.7 L517.2,457.8 L518.2,459.5 L519.2,460.7 L520.2,463.0 L521.2,465.0 L522.3,466.8 L523.3,467.9 L524.3,470.2 L525.3,472.3 L526.3,474.1 L527.3,475.6 L528.3,477.5 L529.3,480.0 L530.3,482.3 L531.3,483.3 L532.3,486.1 L533.3,487.5 L534.3,489.6 L535.3,492.3 L536.3,494.1 L537.3,495.3 L538.3,497.7 L539.3,499.8 L540.3,502.1 L541.4,504.3 L542.4,506.4 L543.4,508.0 L544.4,511.1 L545.4,514.7 L546.4,518.2 L547.4,522.1 L548.4,526.0 L549.4,530.1 L550.4,533.9 L551.4,537.1 L552.4,541.0 L553.4,545.0 L554.4,548.3 L555.4,551.5 L556.4,555.9 L557.4,558.5 L558.4,562.7 L559.4,565.2 L560.4,568.3 L561.5,571.6 L562.5,574.5 L563.5,577.1 L564.5,580.3 L565.5,582.7 L566.5,584.3 L567.5,587.0 L568.5,588.8 L569.5,590.3 L570.5,592.0 L571.5,593.5 L572.5,594.3 L573.5,594.6 L574.5,596.0 L575.5,596.0 L576.5,597.5 L577.5,597.1 L578.5,597.3 L579.5,597.2 L580.5,596.8 L581.5,596.5 L582.6,595.6 L583.6,594.8 L584.6,594.1 L585.6,593.5 L586.6,592.0 L587.6,591.0 L588.6,590.1 L589.6,588.1 L590.6,586.3 L591.6,584.8 L592.6,583.4 L593.6,582.0 L594.6,580.2 L595.6,577.2 L596.6,576.0 L597.6,573.8 L598.6,571.5 L599.6,569.5 L600.6,566.2 L601.6,564.5 L602.7,561.8 L603.7,558.7 L604.7,556.9 L605.7,553.4 L606.7,551.0 L607.7,547.8 L608.7,545.1 L609.7,542.7 L610.7,538.7 L611.7,536.2 L612.7,533.1 L613.7,529.6 L614.7,525.6 L615.7,522.4 L616.7,518.7 L617.7,514.9 L618.7,512.3 L619.7,508.9 L620.7,506.8 L621.8,503.9 L622.8,502.1 L623.8,499.5 L624.8,497.4 L625.8,495.3 L626.8,492.8 L627.8,490.3 L628.8,486.8 L629.8,484.7 L630.8,482.0 L631.8,479.3 L632.8,477.5 L633.8,474.6 L634.8,472.1 L635.8,469.7 L636.8,466.2 L637.8,464.4 L638.8,461.1 L639.8,459.6 L640.8,456.8 L641.9,454.3 L642.9,452.2 L643.9,450.5 L644.9,448.5 L645.9,447.1 L646.9,445.8 L647.9,445.4 L648.9,444.1 L649.9,442.9 L650.9,442.0 L651.9,442.4 L652.9,442.1 L653.9,441.9 L654.9,441.6 L655.9,441.9 L656.9,442.1 L657.9,443.0 L658.9,444.4 L659.9,444.9 L660.9,445.7 L662.0,446.8 L663.0,448.2 L664.0,449.2 L665.0,451.4 L666.0,452.8 L667.0,454.0 L668.0,455.6 L669.0,457.7 L670.0,459.9 L671.0,460.9 L672.0,463.8 L673.0,465.0 L674.0,467.1 L675.0,468.4 L676.0,470.7 L677.0,472.9 L678.0,474.6 L679.0,476.9 L680.0,478.4 L681.0,481.4 L682.0,482.9 L683.1,485.0 L684.1,487.2 L685.1,489.2 L686.1,491.2 L687.1,493.8 L688.1,495.2 L689.1,497.1 L690.1,499.0 L691.1,501.4 L692.1,504.1 L693.1,506.0 L694.1,507.8 L695.1,510.5 L696.1,514.5 L697.1,518.9 L698.1,522.1 L699.1,526.0 L700.1,530.1 L701.1,534.1 L702.1,538.4 L703.2,542.2 L704.2,545.1 L705.2,549.0 L706.2,553.5 L707.2,556.6 L708.2,560.2 L709.2,563.7 L710.2,567.3 L711.2,570.7 L712.2,573.8 L713.2,575.7 L714.2,579.5 L715.2,582.0 L716.2,584.6 L717.2,587.0 L718.2,588.2 L719.2,590.2 L720.2,592.5 L721.2,594.1 L722.2,595.0 L723.3,596.7 L724.3,597.6 L725.3,598.3 L726.3,599.0 L727.3,599.1 L728.3,599.4 L729.3,599.2 L730.3,599.0 L731.3,599.3 L732.3,598.6 L733.3,597.6 L734.3,597.6 L735.3,596.6 L736.3,595.9 L737.3,594.2 L738.3,593.6 L739.3,591.4 L740.3,590.0 L741.3,588.3 L742.4,587.2 L743.4,585.1 L744.4,583.3 L745.4,581.7 L746.4,579.6 L747.4,577.0 L748.4,575.4 L749.4,572.7 L750.4,571.1 L751.4,568.1 L752.4,565.8 L753.4,562.6 L754.4,560.9 L755.4,557.1 L756.4,555.1 L757.4,552.5 L758.4,548.9 L759.4,546.3 L760.4,542.9 L761.4,539.7 L762.5,536.7 L763.5,533.2 L764.5,529.9 L765.5,526.5 L766.5,523.1 L767.5,519.5 L768.5,514.8 L769.5,511.3 L770.5,508.9 L771.5,506.4 L772.5,503.6" fill="none" stroke="#ff0000" stroke-width="2.6" stroke-linejoin="round"/>
<path d="M471.0,504.6 L472.0,502.5 L473.0,500.7 L474.0,498.5 L475.0,496.3 L476.0,493.8 L477.0,492.0 L478.0,489.1 L479.0,487.2 L480.0,484.8 L481.1,482.0 L482.1,480.2 L483.1,477.6 L484.1,474.8 L485.1,472.9 L486.1,470.5 L487.1,468.1 L488.1,465.5 L489.1,463.8 L490.1,462.0 L491.1,459.9 L492.1,457.6 L493.1,456.1 L494.1,454.1 L495.1,452.9 L496.1,451.4 L497.1,450.5 L498.1,449.3 L499.1,448.8 L500.1,448.1 L501.1,447.6 L502.2,447.9 L503.2,447.9 L504.2,447.7 L505.2,448.1 L506.2,448.4 L507.2,449.1 L508.2,449.4 L509.2,450.3 L510.2,451.3 L511.2,452.5 L512.2,453.7 L513.2,455.3 L514.2,456.5 L515.2,457.6 L516.2,459.1 L517.2,460.9 L518.2,462.5 L519.2,463.6 L520.2,465.5 L521.2,466.9 L522.3,469.2 L523.3,471.1 L524.3,472.3 L525.3,474.4 L526.3,476.5 L527.3,477.8 L528.3,479.4 L529.3,481.7 L530.3,483.6 L531.3,485.5 L532.3,487.5 L533.3,489.0 L534.3,491.0 L535.3,493.2 L536.3,494.5 L537.3,496.3 L538.3,498.6 L539.3,500.2 L540.3,502.6 L541.4,504.6 L542.4,506.4 L543.4,508.4 L544.4,510.6 L545.4,512.5 L546.4,515.1 L547.4,517.6 L548.4,520.8 L549.4,523.5 L550.4,525.7 L551.4,528.4 L552.4,531.4 L553.4,534.4 L554.4,537.1 L555.4,539.5 L556.4,542.5 L557.4,545.4 L558.4,549.0 L559.4,551.9 L560.4,554.1 L561.5,557.5 L562.5,560.5 L563.5,563.2 L564.5,565.3 L565.5,568.4 L566.5,570.2 L567.5,572.3 L568.5,574.5 L569.5,576.5 L570.5,579.0 L571.5,580.2 L572.5,581.7 L573.5,582.6 L574.5,583.7 L575.5,584.6 L576.5,584.7 L577.5,585.5 L578.5,584.8 L579.5,585.3 L580.5,584.4 L581.5,584.3 L582.6,583.3 L583.6,582.9 L584.6,581.4 L585.6,580.3 L586.6,579.3 L587.6,577.8 L588.6,576.0 L589.6,574.3 L590.6,573.1 L591.6,571.1 L592.6,568.7 L593.6,567.0 L594.6,565.0 L595.6,563.5 L596.6,560.7 L597.6,559.2 L598.6,556.6 L599.6,554.5 L600.6,552.2 L601.6,550.6 L602.7,548.4 L603.7,545.7 L604.7,543.4 L605.7,541.2 L606.7,539.4 L607.7,536.4 L608.7,534.2 L609.7,531.9 L610.7,530.2 L611.7,527.3 L612.7,525.2 L613.7,523.2 L614.7,520.9 L615.7,518.1 L616.7,516.2 L617.7,513.8 L618.7,511.4 L619.7,508.6 L620.7,506.4 L621.8,504.8 L622.8,502.4 L623.8,500.8 L624.8,498.1 L625.8,496.3 L626.8,494.0 L627.8,491.9 L628.8,489.6 L629.8,487.1 L630.8,484.7 L631.8,482.5 L632.8,479.9 L633.8,477.6 L634.8,475.4 L635.8,472.7 L636.8,470.6 L637.8,468.0 L638.8,466.1 L639.8,463.8 L640.8,461.3 L641.9,459.5 L642.9,457.8 L643.9,455.9 L644.9,454.6 L645.9,452.9 L646.9,452.0 L647.9,450.7 L648.9,449.3 L649.9,449.2 L650.9,448.2 L651.9,447.8 L652.9,447.8 L653.9,447.4 L654.9,447.5 L655.9,448.3 L656.9,448.2 L657.9,449.2 L658.9,449.6 L659.9,450.4 L660.9,451.1 L662.0,452.1 L663.0,453.5 L664.0,455.0 L665.0,456.3 L666.0,457.7 L667.0,459.3 L668.0,460.5 L669.0,462.5 L670.0,463.7 L671.0,465.3 L672.0,467.5 L673.0,468.8 L674.0,470.6 L675.0,472.5 L676.0,474.4 L677.0,476.0 L678.0,477.6 L679.0,479.6 L680.0,481.7 L681.0,483.6 L682.0,485.4 L683.1,486.9 L684.1,489.1 L685.1,491.1 L686.1,492.5 L687.1,494.6 L688.1,497.0 L689.1,498.7 L690.1,500.3 L691.1,502.2 L692.1,504.5 L693.1,506.3 L694.1,508.2 L695.1,510.2 L696.1,513.3 L697.1,515.2 L698.1,518.1 L699.1,520.4 L700.1,523.3 L701.1,525.7 L702.1,528.3 L703.2,531.4 L704.2,533.9 L705.2,537.2 L706.2,540.2 L707.2,542.6 L708.2,545.7 L709.2,548.6 L710.2,551.5 L711.2,554.8 L712.2,557.0 L713.2,559.8 L714.2,563.2 L715.2,565.8 L716.2,567.8 L717.2,570.3 L718.2,572.9 L719.2,575.3 L720.2,576.4 L721.2,578.4 L722.2,580.5 L723.3,581.5 L724.3,582.6 L725.3,584.0 L726.3,584.6 L727.3,584.6 L728.3,585.2 L729.3,585.3 L730.3,584.9 L731.3,584.7 L732.3,583.9 L733.3,583.7 L734.3,582.8 L735.3,581.5 L736.3,580.3 L737.3,579.5 L738.3,577.6 L739.3,576.0 L740.3,574.7 L741.3,572.4 L742.4,571.1 L743.4,569.1 L744.4,567.5 L745.4,565.1 L746.4,563.4 L747.4,561.3 L748.4,559.0 L749.4,556.9 L750.4,554.6 L751.4,552.4 L752.4,550.5 L753.4,548.0 L754.4,546.2 L755.4,544.1 L756.4,541.9 L757.4,539.0 L758.4,537.2 L759.4,535.2 L760.4,532.9 L761.4,530.7 L762.5,528.5 L763.5,525.8 L764.5,523.5 L765.5,521.9 L766.5,518.9 L767.5,516.8 L768.5,514.5 L769.5,512.0 L770.5,510.4 L771.5,508.3 L772.5,505.9" fill="none" stroke="#ff0000" stroke-width="2.6" stroke-linejoin="round"/>
<path d="M471.0,505.3 L472.0,502.8 L473.0,501.3 L474.0,499.2 L475.0,497.3 L476.0,495.1 L477.0,493.1 L478.0,491.2 L479.0,489.2 L480.0,486.5 L481.1,484.8 L482.1,482.5 L483.1,480.2 L484.1,478.2 L485.1,476.1 L486.1,473.9 L487.1,471.6 L488.1,469.8 L489.1,467.8 L490.1,465.7 L491.1,463.6 L492.1,462.0 L493.1,460.4 L494.1,459.0 L495.1,458.1 L496.1,456.3 L497.1,455.8 L498.1,454.8 L499.1,453.8 L500.1,453.6 L501.1,453.0 L502.2,452.7 L503.2,452.9 L504.2,453.1 L505.2,453.4 L506.2,453.5 L507.2,454.2 L508.2,455.0 L509.2,455.8 L510.2,456.2 L511.2,457.3 L512.2,458.2 L513.2,459.2 L514.2,460.5 L515.2,462.3 L516.2,463.4 L517.2,464.7 L518.2,466.6 L519.2,468.1 L520.2,469.7 L521.2,470.7 L522.3,472.2 L523.3,473.8 L524.3,475.6 L525.3,477.6 L526.3,479.3 L527.3,480.8 L528.3,482.6 L529.3,484.1 L530.3,485.4 L531.3,487.0 L532.3,488.8 L533.3,490.5 L534.3,492.6 L535.3,494.3 L536.3,496.1 L537.3,497.7 L538.3,499.6 L539.3,501.3 L540.3,503.2 L541.4,504.7 L542.4,506.6 L543.4,508.0 L544.4,510.8 L545.4,512.7 L546.4,514.9 L547.4,517.8 L548.4,519.9 L549.4,522.5 L550.4,525.0 L551.4,527.4 L552.4,530.4 L553.4,533.1 L554.4,535.8 L555.4,538.8 L556.4,541.7 L557.4,544.0 L558.4,546.7 L559.4,550.1 L560.4,552.6 L561.5,555.6 L562.5,558.0 L563.5,560.9 L564.5,562.8 L565.5,565.4 L566.5,568.2 L567.5,569.8 L568.5,572.2 L569.5,574.0 L570.5,576.0 L571.5,577.4 L572.5,578.7 L573.5,579.8 L574.5,580.2 L575.5,581.3 L576.5,581.7 L577.5,582.1 L578.5,581.9 L579.5,581.8 L580.5,581.5 L581.5,581.5 L582.6,580.5 L583.6,579.4 L584.6,578.9 L585.6,577.9 L586.6,576.2 L587.6,574.7 L588.6,573.2 L589.6,571.6 L590.6,570.3 L591.6,568.4 L592.6,567.1 L593.6,564.9 L594.6,562.7 L595.6,561.0 L596.6,558.8 L597.6,556.6 L598.6,554.8 L599.6,552.9 L600.6,551.1 L601.6,548.6 L602.7,546.7 L603.7,544.7 L604.7,542.1 L605.7,539.9 L606.7,538.0 L607.7,535.9 L608.7,533.1 L609.7,531.3 L610.7,528.8 L611.7,526.8 L612.7,524.8 L613.7,522.2 L614.7,520.3 L615.7,517.9 L616.7,515.5 L617.7,513.3 L618.7,511.2 L619.7,508.6 L620.7,506.6 L621.8,504.9 L622.8,503.1 L623.8,501.3 L624.8,499.1 L625.8,497.3 L626.8,495.5 L627.8,493.3 L628.8,491.0 L629.8,488.7 L630.8,486.7 L631.8,484.9 L632.8,482.3 L633.8,480.2 L634.8,478.2 L635.8,475.7 L636.8,473.6 L637.8,471.6 L638.8,469.8 L639.8,467.7 L640.8,465.5 L641.9,464.3 L642.9,462.4 L643.9,460.6 L644.9,458.9 L645.9,457.6 L646.9,456.5 L647.9,455.3 L648.9,454.7 L649.9,454.1 L650.9,453.5 L651.9,453.1 L652.9,453.2 L653.9,452.6 L654.9,452.8 L655.9,452.8 L656.9,453.8 L657.9,453.9 L658.9,454.6 L659.9,455.4 L660.9,456.6 L662.0,457.3 L663.0,458.8 L664.0,459.3 L665.0,460.9 L666.0,462.4 L667.0,463.5 L668.0,465.0 L669.0,466.7 L670.0,467.9 L671.0,469.2 L672.0,471.2 L673.0,472.3 L674.0,474.1 L675.0,475.9 L676.0,477.3 L677.0,479.1 L678.0,480.6 L679.0,482.6 L680.0,484.1 L681.0,485.4 L682.0,487.7 L683.1,488.9 L684.1,491.2 L685.1,492.7 L686.1,494.6 L687.1,496.1 L688.1,498.0 L689.1,499.3 L690.1,501.4 L691.1,503.2 L692.1,505.0 L693.1,506.8 L694.1,508.0 L695.1,510.2 L696.1,513.2 L697.1,515.4 L698.1,517.3 L699.1,520.0 L700.1,522.7 L701.1,525.3 L702.1,528.2 L703.2,530.1 L704.2,532.9 L705.2,535.7 L706.2,538.7 L707.2,541.8 L708.2,544.6 L709.2,546.9 L710.2,550.1 L711.2,552.4 L712.2,555.4 L713.2,557.7 L714.2,560.7 L715.2,563.4 L716.2,565.6 L717.2,568.3 L718.2,570.5 L719.2,572.3 L720.2,573.8 L721.2,575.7 L722.2,577.5 L723.3,578.5 L724.3,579.7 L725.3,580.8 L726.3,580.9 L727.3,582.0 L728.3,581.9 L729.3,582.1 L730.3,581.6 L731.3,581.4 L732.3,581.0 L733.3,580.6 L734.3,579.6 L735.3,578.4 L736.3,577.5 L737.3,576.5 L738.3,574.5 L739.3,573.2 L740.3,571.8 L741.3,570.0 L742.4,568.4 L743.4,567.0 L744.4,564.7 L745.4,563.2 L746.4,561.3 L747.4,559.1 L748.4,556.9 L749.4,555.1 L750.4,553.0 L751.4,550.4 L752.4,548.3 L753.4,546.7 L754.4,544.6 L755.4,542.7 L756.4,540.1 L757.4,538.6 L758.4,535.9 L759.4,534.5 L760.4,532.0 L761.4,529.8 L762.5,528.0 L763.5,525.8 L764.5,523.5 L765.5,521.2 L766.5,519.2 L767.5,516.7 L768.5,514.7 L769.5,513.0 L770.5,510.2 L771.5,508.7 L772.5,506.9" fill="none" stroke="#ff0000" stroke-width="2.6" stroke-linejoin="round"/>
<path d="M471.0,506.8 L472.0,505.6 L473.0,504.5 L474.0,503.2 L475.0,501.9 L476.0,500.4 L477.0,498.9 L478.0,497.8 L479.0,496.4 L480.0,495.0 L481.1,493.6 L482.1,492.4 L483.1,490.8 L484.1,489.7 L485.1,488.6 L486.1,487.2 L487.1,486.1 L488.1,485.0 L489.1,483.5 L490.1,482.5 L491.1,481.9 L492.1,481.1 L493.1,480.0 L494.1,479.4 L495.1,478.7 L496.1,477.9 L497.1,477.6 L498.1,477.1 L499.1,476.8 L500.1,476.4 L501.1,475.8 L502.2,476.0 L503.2,476.0 L504.2,476.0 L505.2,475.8 L506.2,476.0 L507.2,476.2 L508.2,476.8 L509.2,477.0 L510.2,477.6 L511.2,477.6 L512.2,478.3 L513.2,479.1 L514.2,479.4 L515.2,480.3 L516.2,480.8 L517.2,481.5 L518.2,482.3 L519.2,482.9 L520.2,483.9 L521.2,484.6 L522.3,485.6 L523.3,486.0 L524.3,487.0 L525.3,487.8 L526.3,489.2 L527.3,490.2 L528.3,491.1 L529.3,492.1 L530.3,493.0 L531.3,494.2 L532.3,495.0 L533.3,496.2 L534.3,497.6 L535.3,498.5 L536.3,499.5 L537.3,500.6 L538.3,501.8 L539.3,503.1 L540.3,504.1 L541.4,505.6 L542.4,506.6 L543.4,507.9 L544.4,509.3 L545.4,511.0 L546.4,512.4 L547.4,514.1 L548.4,515.7 L549.4,517.0 L550.4,518.6 L551.4,520.4 L552.4,522.3 L553.4,523.6 L554.4,525.6 L555.4,526.8 L556.4,528.6 L557.4,529.9 L558.4,531.7 L559.4,532.9 L560.4,534.5 L561.5,536.2 L562.5,537.7 L563.5,538.7 L564.5,539.9 L565.5,541.5 L566.5,542.1 L567.5,543.3 L568.5,544.7 L569.5,545.5 L570.5,546.4 L571.5,547.1 L572.5,547.5 L573.5,548.3 L574.5,548.4 L575.5,548.8 L576.5,549.3 L577.5,549.5 L578.5,549.3 L579.5,549.3 L580.5,549.3 L581.5,549.0 L582.6,548.8 L583.6,548.6 L584.6,547.9 L585.6,547.8 L586.6,547.0 L587.6,546.7 L588.6,545.9 L589.6,545.0 L590.6,544.2 L591.6,543.3 L592.6,542.5 L593.6,541.9 L594.6,540.9 L595.6,540.0 L596.6,539.0 L597.6,538.3 L598.6,537.1 L599.6,536.0 L600.6,535.0 L601.6,533.5 L602.7,532.9 L603.7,531.5 L604.7,530.2 L605.7,528.8 L606.7,528.0 L607.7,526.7 L608.7,525.0 L609.7,523.7 L610.7,522.8 L611.7,521.4 L612.7,519.7 L613.7,518.5 L614.7,517.1 L615.7,515.8 L616.7,514.3 L617.7,512.5 L618.7,511.0 L619.7,509.7 L620.7,508.0 L621.8,507.1 L622.8,505.9 L623.8,504.1 L624.8,503.2 L625.8,501.7 L626.8,500.5 L627.8,498.9 L628.8,497.6 L629.8,496.2 L630.8,494.6 L631.8,493.6 L632.8,492.2 L633.8,490.9 L634.8,489.5 L635.8,488.3 L636.8,486.9 L637.8,485.6 L638.8,484.6 L639.8,483.6 L640.8,482.7 L641.9,481.7 L642.9,481.0 L643.9,479.9 L644.9,479.2 L645.9,478.4 L646.9,477.9 L647.9,477.7 L648.9,477.1 L649.9,476.8 L650.9,476.2 L651.9,476.2 L652.9,476.0 L653.9,475.7 L654.9,475.7 L655.9,475.9 L656.9,476.2 L657.9,476.4 L658.9,476.4 L659.9,477.0 L660.9,477.4 L662.0,478.0 L663.0,478.6 L664.0,478.6 L665.0,479.1 L666.0,480.1 L667.0,480.4 L668.0,481.7 L669.0,482.4 L670.0,482.9 L671.0,483.8 L672.0,484.5 L673.0,485.2 L674.0,486.3 L675.0,487.0 L676.0,488.3 L677.0,489.2 L678.0,490.0 L679.0,491.2 L680.0,491.9 L681.0,492.8 L682.0,494.1 L683.1,495.4 L684.1,496.3 L685.1,497.3 L686.1,498.4 L687.1,499.5 L688.1,500.6 L689.1,502.1 L690.1,503.2 L691.1,504.3 L692.1,505.9 L693.1,506.8 L694.1,508.0 L695.1,509.5 L696.1,510.8 L697.1,512.2 L698.1,513.9 L699.1,515.8 L700.1,517.0 L701.1,518.9 L702.1,520.6 L703.2,522.3 L704.2,523.6 L705.2,525.4 L706.2,527.2 L707.2,528.4 L708.2,530.3 L709.2,531.7 L710.2,532.8 L711.2,534.9 L712.2,536.2 L713.2,537.5 L714.2,538.5 L715.2,540.2 L716.2,541.2 L717.2,542.7 L718.2,543.7 L719.2,544.6 L720.2,545.5 L721.2,545.9 L722.2,546.9 L723.3,547.6 L724.3,548.3 L725.3,548.5 L726.3,548.6 L727.3,549.2 L728.3,549.0 L729.3,549.4 L730.3,549.1 L731.3,549.2 L732.3,549.2 L733.3,548.7 L734.3,548.3 L735.3,547.8 L736.3,547.5 L737.3,547.1 L738.3,546.5 L739.3,545.9 L740.3,544.9 L741.3,544.5 L742.4,543.5 L743.4,542.8 L744.4,542.1 L745.4,540.8 L746.4,540.2 L747.4,538.9 L748.4,537.8 L749.4,536.7 L750.4,536.0 L751.4,535.0 L752.4,533.6 L753.4,532.5 L754.4,531.4 L755.4,530.5 L756.4,528.8 L757.4,527.8 L758.4,526.4 L759.4,525.2 L760.4,524.3 L761.4,522.8 L762.5,521.4 L763.5,520.2 L764.5,518.6 L765.5,517.0 L766.5,515.7 L767.5,514.6 L768.5,513.0 L769.5,511.6 L770.5,509.9 L771.5,508.5 L772.5,507.1" fill="none" stroke="#ff0000" stroke-width="2.7" stroke-linejoin="round"/>
<path d="M471.0,508.7 L472.0,507.5 L473.0,506.0 L474.0,504.7 L475.0,503.6 L476.0,502.2 L477.0,500.9 L478.0,499.4 L479.0,498.4 L480.0,497.0 L481.1,495.6 L482.1,494.4 L483.1,493.0 L484.1,491.9 L485.1,490.8 L486.1,489.4 L487.1,488.3 L488.1,487.4 L489.1,486.2 L490.1,485.4 L491.1,484.4 L492.1,483.5 L493.1,482.8 L494.1,482.3 L495.1,481.5 L496.1,480.8 L497.1,480.2 L498.1,479.8 L499.1,479.7 L500.1,479.3 L501.1,479.0 L502.2,478.7 L503.2,478.7 L504.2,478.4 L505.2,478.6 L506.2,478.7 L507.2,478.6 L508.2,478.9 L509.2,478.9 L510.2,479.3 L511.2,479.5 L512.2,479.8 L513.2,480.5 L514.2,480.6 L515.2,481.1 L516.2,481.6 L517.2,482.3 L518.2,482.7 L519.2,483.3 L520.2,484.0 L521.2,484.7 L522.3,485.3 L523.3,486.4 L524.3,486.8 L525.3,487.7 L526.3,488.7 L527.3,489.5 L528.3,490.4 L529.3,491.3 L530.3,492.1 L531.3,493.0 L532.3,494.0 L533.3,494.8 L534.3,496.1 L535.3,497.0 L536.3,498.2 L537.3,499.0 L538.3,500.1 L539.3,501.5 L540.3,502.8 L541.4,503.8 L542.4,504.9 L543.4,506.2 L544.4,507.7 L545.4,508.7 L546.4,510.0 L547.4,511.2 L548.4,512.2 L549.4,513.4 L550.4,514.5 L551.4,515.9 L552.4,516.7 L553.4,517.9 L554.4,519.1 L555.4,520.4 L556.4,521.5 L557.4,522.7 L558.4,523.5 L559.4,524.4 L560.4,525.6 L561.5,526.7 L562.5,527.5 L563.5,528.5 L564.5,529.3 L565.5,530.2 L566.5,531.1 L567.5,531.6 L568.5,532.3 L569.5,532.9 L570.5,533.7 L571.5,534.2 L572.5,534.4 L573.5,534.8 L574.5,535.1 L575.5,535.3 L576.5,535.7 L577.5,535.9 L578.5,535.9 L579.5,536.1 L580.5,535.9 L581.5,536.2 L582.6,536.0 L583.6,535.6 L584.6,535.6 L585.6,535.5 L586.6,535.3 L587.6,534.9 L588.6,534.4 L589.6,534.2 L590.6,533.6 L591.6,533.2 L592.6,532.8 L593.6,532.4 L594.6,531.8 L595.6,531.1 L596.6,530.7 L597.6,530.2 L598.6,529.4 L599.6,529.0 L600.6,528.0 L601.6,527.5 L602.7,526.6 L603.7,526.1 L604.7,525.2 L605.7,524.6 L606.7,523.8 L607.7,522.8 L608.7,521.8 L609.7,521.0 L610.7,520.4 L611.7,519.3 L612.7,518.5 L613.7,517.6 L614.7,516.3 L615.7,515.5 L616.7,514.4 L617.7,513.4 L618.7,512.2 L619.7,511.1 L620.7,510.3 L621.8,509.0 L622.8,507.6 L623.8,506.2 L624.8,504.9 L625.8,503.6 L626.8,502.3 L627.8,500.9 L628.8,499.7 L629.8,498.4 L630.8,496.8 L631.8,495.7 L632.8,494.4 L633.8,493.1 L634.8,492.0 L635.8,490.9 L636.8,489.6 L637.8,488.4 L638.8,487.2 L639.8,486.4 L640.8,485.3 L641.9,484.5 L642.9,483.9 L643.9,483.0 L644.9,482.0 L645.9,481.4 L646.9,480.9 L647.9,480.2 L648.9,479.8 L649.9,479.4 L650.9,479.2 L651.9,478.9 L652.9,478.6 L653.9,478.4 L654.9,478.5 L655.9,478.4 L656.9,478.5 L657.9,478.8 L658.9,479.0 L659.9,478.8 L660.9,479.4 L662.0,479.6 L663.0,480.1 L664.0,480.4 L665.0,480.7 L666.0,481.2 L667.0,481.7 L668.0,482.3 L669.0,482.8 L670.0,483.5 L671.0,484.2 L672.0,484.8 L673.0,485.5 L674.0,486.3 L675.0,486.9 L676.0,487.6 L677.0,488.4 L678.0,489.4 L679.0,490.1 L680.0,491.2 L681.0,492.0 L682.0,492.8 L683.1,493.9 L684.1,495.0 L685.1,496.1 L686.1,497.1 L687.1,497.9 L688.1,499.3 L689.1,500.3 L690.1,501.5 L691.1,502.6 L692.1,504.0 L693.1,505.1 L694.1,506.3 L695.1,507.7 L696.1,508.9 L697.1,510.1 L698.1,511.2 L699.1,512.4 L700.1,513.5 L701.1,514.5 L702.1,515.6 L703.2,516.8 L704.2,518.1 L705.2,519.3 L706.2,520.4 L707.2,521.3 L708.2,522.6 L709.2,523.6 L710.2,524.4 L711.2,525.7 L712.2,526.8 L713.2,527.4 L714.2,528.6 L715.2,529.3 L716.2,530.2 L717.2,530.8 L718.2,531.8 L719.2,532.4 L720.2,532.8 L721.2,533.5 L722.2,534.2 L723.3,534.5 L724.3,534.8 L725.3,535.1 L726.3,535.7 L727.3,535.5 L728.3,536.1 L729.3,536.1 L730.3,536.0 L731.3,536.0 L732.3,536.0 L733.3,536.0 L734.3,535.7 L735.3,535.5 L736.3,535.6 L737.3,535.0 L738.3,534.9 L739.3,534.7 L740.3,534.1 L741.3,533.8 L742.4,533.2 L743.4,532.7 L744.4,532.5 L745.4,531.9 L746.4,531.3 L747.4,530.6 L748.4,530.2 L749.4,529.5 L750.4,528.8 L751.4,528.3 L752.4,527.3 L753.4,526.7 L754.4,525.8 L755.4,525.3 L756.4,524.4 L757.4,523.2 L758.4,522.5 L759.4,521.6 L760.4,520.4 L761.4,519.5 L762.5,518.5 L763.5,517.5 L764.5,516.7 L765.5,515.5 L766.5,514.5 L767.5,513.6 L768.5,512.2 L769.5,511.3 L770.5,510.0 L771.5,508.9 L772.5,507.6" fill="none" stroke="#ff0000" stroke-width="2.6" stroke-linejoin="round"/>
<path d="M471.0,507.4 L472.0,506.6 L473.0,505.7 L474.0,504.8 L475.0,504.0 L476.0,503.2 L477.0,502.3 L478.0,501.5 L479.0,500.7 L480.0,499.9 L481.1,499.2 L482.1,498.4 L483.1,497.7 L484.1,497.0 L485.1,496.3 L486.1,495.6 L487.1,495.0 L488.1,494.4 L489.1,493.8 L490.1,493.3 L491.1,492.7 L492.1,492.2 L493.1,491.7 L494.1,491.3 L495.1,490.9 L496.1,490.5 L497.1,490.2 L498.1,489.9 L499.1,489.6 L500.1,489.4 L501.1,489.2 L502.2,489.0 L503.2,488.9 L504.2,488.8 L505.2,488.7 L506.2,488.7 L507.2,488.7 L508.2,488.8 L509.2,488.8 L510.2,489.0 L511.2,489.1 L512.2,489.3 L513.2,489.5 L514.2,489.8 L515.2,490.1 L516.2,490.4 L517.2,490.8 L518.2,491.2 L519.2,491.6 L520.2,492.1 L521.2,492.6 L522.3,493.1 L523.3,493.7 L524.3,494.3 L525.3,494.9 L526.3,495.5 L527.3,496.2 L528.3,496.8 L529.3,497.5 L530.3,498.3 L531.3,499.0 L532.3,499.8 L533.3,500.6 L534.3,501.3 L535.3,502.2 L536.3,503.0 L537.3,503.8 L538.3,504.7 L539.3,505.5 L540.3,506.4 L541.4,507.2 L542.4,508.1 L543.4,509.0 L544.4,509.9 L545.4,510.9 L546.4,511.9 L547.4,512.9 L548.4,513.9 L549.4,514.9 L550.4,515.8 L551.4,516.8 L552.4,517.7 L553.4,518.7 L554.4,519.6 L555.4,520.5 L556.4,521.4 L557.4,522.2 L558.4,523.1 L559.4,523.9 L560.4,524.7 L561.5,525.4 L562.5,526.1 L563.5,526.9 L564.5,527.5 L565.5,528.2 L566.5,528.8 L567.5,529.4 L568.5,529.9 L569.5,530.4 L570.5,530.9 L571.5,531.3 L572.5,531.7 L573.5,532.0 L574.5,532.4 L575.5,532.6 L576.5,532.9 L577.5,533.1 L578.5,533.2 L579.5,533.3 L580.5,533.4 L581.5,533.4 L582.6,533.4 L583.6,533.3 L584.6,533.2 L585.6,533.1 L586.6,532.9 L587.6,532.7 L588.6,532.4 L589.6,532.1 L590.6,531.8 L591.6,531.4 L592.6,531.0 L593.6,530.5 L594.6,530.0 L595.6,529.5 L596.6,528.9 L597.6,528.3 L598.6,527.7 L599.6,527.0 L600.6,526.3 L601.6,525.6 L602.7,524.8 L603.7,524.0 L604.7,523.2 L605.7,522.4 L606.7,521.6 L607.7,520.7 L608.7,519.8 L609.7,518.9 L610.7,517.9 L611.7,517.0 L612.7,516.0 L613.7,515.1 L614.7,514.1 L615.7,513.1 L616.7,512.1 L617.7,511.1 L618.7,510.1 L619.7,509.2 L620.7,508.3 L621.8,507.4 L622.8,506.6 L623.8,505.7 L624.8,504.8 L625.8,504.0 L626.8,503.2 L627.8,502.3 L628.8,501.5 L629.8,500.7 L630.8,499.9 L631.8,499.2 L632.8,498.4 L633.8,497.7 L634.8,497.0 L635.8,496.3 L636.8,495.6 L637.8,495.0 L638.8,494.4 L639.8,493.8 L640.8,493.3 L641.9,492.7 L642.9,492.2 L643.9,491.7 L644.9,491.3 L645.9,490.9 L646.9,490.5 L647.9,490.2 L648.9,489.9 L649.9,489.6 L650.9,489.4 L651.9,489.2 L652.9,489.0 L653.9,488.9 L654.9,488.8 L655.9,488.7 L656.9,488.7 L657.9,488.7 L658.9,488.8 L659.9,488.8 L660.9,489.0 L662.0,489.1 L663.0,489.3 L664.0,489.5 L665.0,489.8 L666.0,490.1 L667.0,490.4 L668.0,490.8 L669.0,491.2 L670.0,491.6 L671.0,492.1 L672.0,492.6 L673.0,493.1 L674.0,493.7 L675.0,494.3 L676.0,494.9 L677.0,495.5 L678.0,496.2 L679.0,496.8 L680.0,497.5 L681.0,498.3 L682.0,499.0 L683.1,499.8 L684.1,500.6 L685.1,501.3 L686.1,502.2 L687.1,503.0 L688.1,503.8 L689.1,504.7 L690.1,505.5 L691.1,506.4 L692.1,507.2 L693.1,508.1 L694.1,509.0 L695.1,509.9 L696.1,510.9 L697.1,511.9 L698.1,512.9 L699.1,513.9 L700.1,514.9 L701.1,515.8 L702.1,516.8 L703.2,517.7 L704.2,518.7 L705.2,519.6 L706.2,520.5 L707.2,521.4 L708.2,522.2 L709.2,523.1 L710.2,523.9 L711.2,524.7 L712.2,525.4 L713.2,526.1 L714.2,526.9 L715.2,527.5 L716.2,528.2 L717.2,528.8 L718.2,529.4 L719.2,529.9 L720.2,530.4 L721.2,530.9 L722.2,531.3 L723.3,531.7 L724.3,532.0 L725.3,532.4 L726.3,532.6 L727.3,532.9 L728.3,533.1 L729.3,533.2 L730.3,533.3 L731.3,533.4 L732.3,533.4 L733.3,533.4 L734.3,533.3 L735.3,533.2 L736.3,533.1 L737.3,532.9 L738.3,532.7 L739.3,532.4 L740.3,532.1 L741.3,531.8 L742.4,531.4 L743.4,531.0 L744.4,530.5 L745.4,530.0 L746.4,529.5 L747.4,528.9 L748.4,528.3 L749.4,527.7 L750.4,527.0 L751.4,526.3 L752.4,525.6 L753.4,524.8 L754.4,524.0 L755.4,523.2 L756.4,522.3 L757.4,521.4 L758.4,520.5 L759.4,519.6 L760.4,518.6 L761.4,517.6 L762.5,516.7 L763.5,515.7 L764.5,514.7 L765.5,513.6 L766.5,512.6 L767.5,511.6 L768.5,510.6 L769.5,509.6 L770.5,508.6 L771.5,507.7 L772.5,506.8" fill="none" stroke="#0000ff" stroke-width="3.3" stroke-linejoin="round" stroke-dasharray="3.1 3.4" stroke-linecap="butt"/>
<path d="M471.0,506.5 L472.0,505.2 L473.0,503.9 L474.0,502.6 L475.0,501.3 L476.0,500.1 L477.0,498.9 L478.0,498.0 L479.0,496.6 L480.0,495.4 L481.1,494.7 L482.1,493.5 L483.1,492.4 L484.1,491.4 L485.1,490.8 L486.1,489.8 L487.1,489.1 L488.1,488.1 L489.1,487.7 L490.1,486.9 L491.1,486.3 L492.1,486.0 L493.1,485.4 L494.1,484.7 L495.1,484.3 L496.1,484.1 L497.1,483.9 L498.1,483.6 L499.1,483.4 L500.1,483.3 L501.1,483.1 L502.2,483.0 L503.2,483.0 L504.2,482.8 L505.2,483.1 L506.2,483.1 L507.2,483.2 L508.2,483.4 L509.2,483.6 L510.2,483.6 L511.2,483.8 L512.2,484.1 L513.2,484.3 L514.2,484.6 L515.2,485.0 L516.2,485.5 L517.2,485.8 L518.2,486.4 L519.2,487.0 L520.2,487.2 L521.2,488.0 L522.3,488.4 L523.3,489.2 L524.3,490.0 L525.3,490.4 L526.3,491.4 L527.3,492.2 L528.3,492.9 L529.3,493.5 L530.3,494.8 L531.3,495.5 L532.3,496.4 L533.3,497.6 L534.3,498.4 L535.3,499.6 L536.3,500.5 L537.3,501.5 L538.3,502.8 L539.3,503.7 L540.3,505.2 L541.4,506.3 L542.4,507.7 L543.4,508.7 L544.4,509.9 L545.4,511.9 L546.4,513.4 L547.4,514.7 L548.4,516.4 L549.4,518.1 L550.4,519.7 L551.4,521.0 L552.4,522.6 L553.4,524.2 L554.4,525.7 L555.4,527.2 L556.4,528.6 L557.4,530.0 L558.4,530.9 L559.4,532.4 L560.4,533.3 L561.5,534.7 L562.5,535.6 L563.5,536.5 L564.5,537.2 L565.5,538.3 L566.5,538.9 L567.5,539.7 L568.5,540.3 L569.5,540.8 L570.5,541.4 L571.5,541.8 L572.5,542.2 L573.5,542.2 L574.5,542.6 L575.5,542.7 L576.5,543.0 L577.5,543.1 L578.5,543.3 L579.5,543.2 L580.5,543.0 L581.5,543.2 L582.6,543.0 L583.6,542.8 L584.6,542.5 L585.6,542.2 L586.6,542.0 L587.6,541.5 L588.6,541.4 L589.6,540.7 L590.6,540.6 L591.6,539.9 L592.6,539.2 L593.6,538.7 L594.6,538.3 L595.6,537.6 L596.6,536.6 L597.6,536.0 L598.6,535.1 L599.6,534.3 L600.6,533.7 L601.6,532.5 L602.7,531.5 L603.7,530.6 L604.7,529.7 L605.7,528.6 L606.7,527.1 L607.7,526.0 L608.7,524.9 L609.7,523.5 L610.7,522.4 L611.7,520.8 L612.7,519.7 L613.7,517.9 L614.7,516.7 L615.7,515.3 L616.7,513.7 L617.7,512.2 L618.7,510.5 L619.7,509.2 L620.7,507.7 L621.8,506.5 L622.8,505.1 L623.8,503.8 L624.8,502.9 L625.8,501.4 L626.8,500.1 L627.8,499.0 L628.8,498.0 L629.8,496.6 L630.8,495.7 L631.8,494.6 L632.8,493.3 L633.8,492.5 L634.8,491.7 L635.8,490.7 L636.8,489.8 L637.8,489.0 L638.8,488.2 L639.8,487.5 L640.8,486.9 L641.9,486.2 L642.9,485.9 L643.9,485.4 L644.9,484.9 L645.9,484.4 L646.9,483.9 L647.9,483.9 L648.9,483.6 L649.9,483.5 L650.9,483.2 L651.9,483.1 L652.9,483.1 L653.9,483.0 L654.9,482.9 L655.9,482.9 L656.9,483.1 L657.9,483.2 L658.9,483.3 L659.9,483.3 L660.9,483.8 L662.0,483.7 L663.0,484.1 L664.0,484.3 L665.0,484.6 L666.0,485.0 L667.0,485.6 L668.0,485.9 L669.0,486.3 L670.0,486.7 L671.0,487.3 L672.0,487.9 L673.0,488.7 L674.0,489.2 L675.0,489.8 L676.0,490.7 L677.0,491.2 L678.0,492.0 L679.0,492.7 L680.0,493.6 L681.0,494.7 L682.0,495.5 L683.1,496.4 L684.1,497.5 L685.1,498.5 L686.1,499.5 L687.1,500.5 L688.1,501.8 L689.1,502.9 L690.1,504.0 L691.1,505.0 L692.1,506.3 L693.1,507.5 L694.1,508.8 L695.1,510.3 L696.1,511.9 L697.1,513.4 L698.1,515.1 L699.1,516.5 L700.1,518.1 L701.1,519.7 L702.1,521.2 L703.2,522.6 L704.2,524.3 L705.2,525.8 L706.2,527.3 L707.2,528.6 L708.2,529.9 L709.2,531.2 L710.2,532.4 L711.2,533.4 L712.2,534.5 L713.2,535.3 L714.2,536.5 L715.2,537.4 L716.2,538.1 L717.2,538.9 L718.2,539.6 L719.2,540.0 L720.2,540.5 L721.2,541.2 L722.2,541.8 L723.3,542.2 L724.3,542.2 L725.3,542.5 L726.3,542.9 L727.3,543.0 L728.3,543.1 L729.3,543.2 L730.3,543.1 L731.3,543.0 L732.3,543.1 L733.3,542.7 L734.3,542.7 L735.3,542.7 L736.3,542.2 L737.3,541.9 L738.3,541.6 L739.3,541.2 L740.3,540.7 L741.3,540.4 L742.4,539.7 L743.4,539.5 L744.4,539.0 L745.4,538.2 L746.4,537.3 L747.4,536.7 L748.4,536.0 L749.4,535.0 L750.4,534.5 L751.4,533.7 L752.4,532.4 L753.4,531.8 L754.4,530.6 L755.4,529.6 L756.4,528.7 L757.4,527.4 L758.4,526.2 L759.4,525.0 L760.4,523.8 L761.4,522.6 L762.5,521.3 L763.5,520.0 L764.5,518.5 L765.5,517.1 L766.5,515.6 L767.5,514.1 L768.5,512.9 L769.5,511.1 L770.5,509.9 L771.5,508.4 L772.5,507.4" fill="none" stroke="#000000" stroke-width="2.4" stroke-linejoin="round"/>
<path d="M471.0,507.0 L472.0,505.7 L473.0,504.9 L474.0,503.7 L475.0,502.6 L476.0,501.7 L477.0,500.7 L478.0,499.6 L479.0,498.5 L480.0,497.7 L481.1,496.9 L482.1,496.0 L483.1,495.2 L484.1,494.2 L485.1,493.4 L486.1,492.6 L487.1,491.9 L488.1,491.4 L489.1,490.7 L490.1,490.2 L491.1,489.9 L492.1,489.4 L493.1,489.0 L494.1,488.6 L495.1,488.1 L496.1,487.8 L497.1,487.6 L498.1,487.6 L499.1,487.1 L500.1,487.2 L501.1,487.2 L502.2,486.8 L503.2,486.8 L504.2,486.9 L505.2,486.8 L506.2,487.2 L507.2,487.2 L508.2,487.1 L509.2,487.2 L510.2,487.6 L511.2,487.8 L512.2,487.9 L513.2,488.0 L514.2,488.3 L515.2,488.7 L516.2,489.3 L517.2,489.5 L518.2,489.7 L519.2,490.2 L520.2,490.8 L521.2,491.1 L522.3,491.7 L523.3,492.4 L524.3,492.8 L525.3,493.4 L526.3,493.9 L527.3,494.7 L528.3,495.2 L529.3,496.2 L530.3,496.8 L531.3,497.7 L532.3,498.5 L533.3,499.1 L534.3,500.1 L535.3,501.1 L536.3,501.7 L537.3,502.6 L538.3,503.7 L539.3,504.8 L540.3,505.7 L541.4,506.8 L542.4,507.8 L543.4,509.0 L544.4,510.3 L545.4,513.0 L546.4,515.3 L547.4,517.8 L548.4,520.3 L549.4,523.0 L550.4,525.2 L551.4,527.7 L552.4,529.9 L553.4,532.1 L554.4,534.6 L555.4,536.5 L556.4,538.4 L557.4,540.4 L558.4,542.2 L559.4,544.0 L560.4,545.8 L561.5,547.2 L562.5,548.4 L563.5,549.7 L564.5,551.0 L565.5,552.0 L566.5,553.2 L567.5,553.9 L568.5,554.8 L569.5,555.2 L570.5,556.1 L571.5,556.6 L572.5,556.9 L573.5,557.5 L574.5,557.6 L575.5,557.8 L576.5,557.8 L577.5,558.0 L578.5,558.3 L579.5,558.3 L580.5,558.1 L581.5,558.0 L582.6,558.1 L583.6,557.7 L584.6,557.6 L585.6,557.3 L586.6,556.9 L587.6,556.5 L588.6,556.0 L589.6,555.5 L590.6,555.1 L591.6,554.3 L592.6,553.9 L593.6,553.1 L594.6,552.0 L595.6,551.1 L596.6,550.2 L597.6,549.3 L598.6,548.2 L599.6,546.9 L600.6,545.7 L601.6,544.4 L602.7,542.9 L603.7,541.5 L604.7,540.2 L605.7,538.5 L606.7,536.7 L607.7,535.1 L608.7,533.2 L609.7,531.1 L610.7,529.2 L611.7,527.2 L612.7,525.2 L613.7,523.0 L614.7,520.5 L615.7,518.2 L616.7,516.0 L617.7,513.3 L618.7,510.9 L619.7,509.1 L620.7,508.1 L621.8,507.1 L622.8,506.0 L623.8,504.8 L624.8,503.6 L625.8,502.8 L626.8,501.8 L627.8,500.7 L628.8,499.6 L629.8,498.8 L630.8,497.6 L631.8,496.9 L632.8,495.8 L633.8,495.2 L634.8,494.0 L635.8,493.4 L636.8,492.7 L637.8,491.9 L638.8,491.6 L639.8,490.6 L640.8,490.3 L641.9,489.6 L642.9,489.4 L643.9,489.0 L644.9,488.6 L645.9,488.2 L646.9,488.0 L647.9,487.7 L648.9,487.5 L649.9,487.2 L650.9,487.1 L651.9,486.9 L652.9,487.1 L653.9,486.7 L654.9,487.0 L655.9,486.9 L656.9,486.9 L657.9,487.0 L658.9,487.3 L659.9,487.4 L660.9,487.6 L662.0,487.6 L663.0,488.0 L664.0,488.0 L665.0,488.3 L666.0,488.9 L667.0,489.1 L668.0,489.5 L669.0,489.7 L670.0,490.1 L671.0,490.5 L672.0,491.2 L673.0,491.7 L674.0,492.2 L675.0,492.7 L676.0,493.4 L677.0,494.0 L678.0,494.5 L679.0,495.3 L680.0,496.2 L681.0,496.8 L682.0,497.5 L683.1,498.2 L684.1,499.2 L685.1,500.3 L686.1,500.8 L687.1,502.0 L688.1,502.6 L689.1,503.9 L690.1,504.9 L691.1,505.8 L692.1,506.9 L693.1,507.7 L694.1,509.0 L695.1,510.5 L696.1,513.1 L697.1,515.5 L698.1,517.8 L699.1,520.3 L700.1,522.8 L701.1,525.4 L702.1,527.5 L703.2,530.2 L704.2,532.3 L705.2,534.5 L706.2,536.4 L707.2,538.5 L708.2,540.4 L709.2,542.5 L710.2,544.0 L711.2,545.6 L712.2,547.3 L713.2,548.5 L714.2,550.0 L715.2,550.9 L716.2,552.2 L717.2,553.0 L718.2,554.0 L719.2,554.6 L720.2,555.3 L721.2,556.0 L722.2,556.5 L723.3,556.8 L724.3,557.3 L725.3,557.6 L726.3,557.7 L727.3,558.1 L728.3,558.1 L729.3,558.2 L730.3,558.2 L731.3,558.0 L732.3,557.9 L733.3,558.0 L734.3,557.9 L735.3,557.7 L736.3,557.3 L737.3,557.0 L738.3,556.6 L739.3,556.2 L740.3,555.4 L741.3,555.1 L742.4,554.3 L743.4,553.6 L744.4,552.8 L745.4,552.3 L746.4,551.1 L747.4,550.3 L748.4,549.4 L749.4,548.3 L750.4,546.9 L751.4,545.7 L752.4,544.5 L753.4,543.0 L754.4,541.6 L755.4,540.3 L756.4,538.8 L757.4,536.8 L758.4,535.4 L759.4,533.5 L760.4,531.6 L761.4,529.6 L762.5,527.5 L763.5,525.4 L764.5,523.3 L765.5,521.2 L766.5,518.9 L767.5,516.5 L768.5,514.0 L769.5,511.7 L770.5,509.9 L771.5,508.6 L772.5,507.9" fill="none" stroke="#000000" stroke-width="2.4" stroke-linejoin="round"/>
<path d="M471.0,398.8 V620.8" fill="none" stroke="#262626" stroke-width="1.4"/>
<path d="M470.5,620.2 H772.5" fill="none" stroke="#262626" stroke-width="1.1"/>
<path d="M471.0,598.1 h3" stroke="#262626" stroke-width="1"/>
<text transform="translate(467.00,605.46) scale(1,1.042)" text-anchor="end"  font-size="19" fill="#000">-200</text>
<path d="M471.0,553.8 h3" stroke="#262626" stroke-width="1"/>
<text transform="translate(467.00,561.18) scale(1,1.042)" text-anchor="end"  font-size="19" fill="#000">-100</text>
<path d="M471.0,509.5 h3" stroke="#262626" stroke-width="1"/>
<text transform="translate(467.00,516.90) scale(1,1.042)" text-anchor="end"  font-size="19" fill="#000">0</text>
<path d="M471.0,465.2 h3" stroke="#262626" stroke-width="1"/>
<text transform="translate(467.00,472.62) scale(1,1.042)" text-anchor="end"  font-size="19" fill="#000">100</text>
<path d="M471.0,420.9 h3" stroke="#262626" stroke-width="1"/>
<text transform="translate(467.00,428.34) scale(1,1.042)" text-anchor="end"  font-size="19" fill="#000">200</text>
<path d="M471.0,620.2 v-3" stroke="#262626" stroke-width="1"/>
<text transform="translate(471.00,641.50) scale(1,1.042)" text-anchor="middle"  font-size="19" fill="#000">0</text>
<path d="M546.4,620.2 v-3" stroke="#262626" stroke-width="1"/>
<text transform="translate(546.38,641.50) scale(1,1.042)" text-anchor="middle"  font-size="19" fill="#000">500</text>
<path d="M621.8,620.2 v-3" stroke="#262626" stroke-width="1"/>
<text transform="translate(621.75,641.50) scale(1,1.042)" text-anchor="middle"  font-size="19" fill="#000">1000</text>
<path d="M697.1,620.2 v-3" stroke="#262626" stroke-width="1"/>
<text transform="translate(697.12,641.50) scale(1,1.042)" text-anchor="middle"  font-size="19" fill="#000">1500</text>
<path d="M772.5,620.2 v-3" stroke="#262626" stroke-width="1"/>
<text transform="translate(772.50,641.50) scale(1,1.042)" text-anchor="middle"  font-size="19" fill="#000">2000</text>
<text transform="translate(621.75,663.90) scale(1,1.042)" text-anchor="middle"  font-size="21.5" fill="#000">Time (s)</text>
<text transform="translate(419.80,509.50) rotate(-90) scale(1,1.042)" text-anchor="middle"  font-size="21.5" fill="#000">Force (N)</text>
<text transform="translate(621.75,383.10) scale(1,1.042)" text-anchor="middle"  font-size="23.8" fill="#000">Frequency = 0.001 Hz</text>
</svg></body></html>
